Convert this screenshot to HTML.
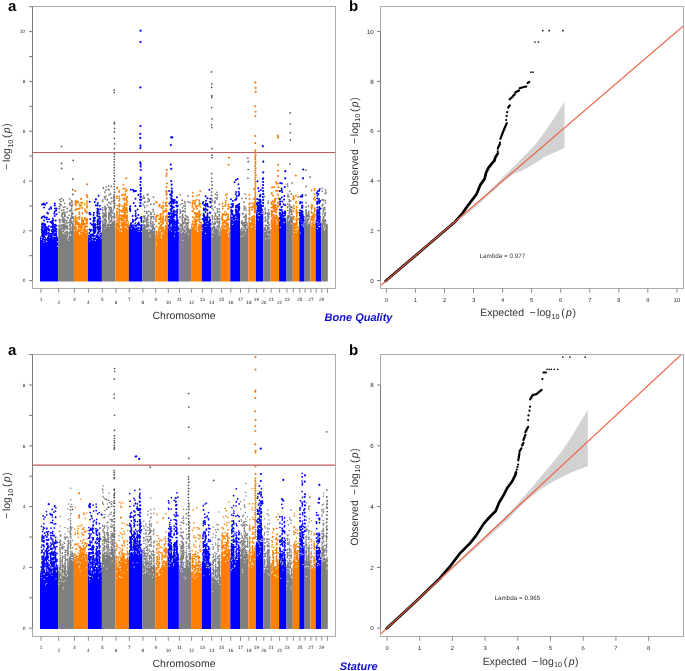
<!DOCTYPE html><html><head><meta charset="utf-8"><style>html,body{margin:0;padding:0;background:#fff;}body{width:685px;height:671px;overflow:hidden}svg{display:block;will-change:transform}</style></head><body>
<svg width="685" height="671" viewBox="0 0 685 671" font-family='"Liberation Sans", sans-serif' text-rendering="geometricPrecision">
<rect width="685" height="671" fill="#fff"/>
<defs>
<clipPath id="cm1"><rect x="33" y="7.5" width="302" height="280.3"/></clipPath>
<clipPath id="cm2"><rect x="33" y="355.3" width="302" height="280.4"/></clipPath>
<clipPath id="cq1"><rect x="381" y="7.5" width="302" height="280.3"/></clipPath>
<clipPath id="cq2"><rect x="381" y="355.3" width="302" height="280.4"/></clipPath>
</defs>
<g clip-path="url(#cm1)">
<path d="M40.0,281.4L40.0,236.7L40.5,236.5L41.0,236.0L41.5,237.2L42.0,237.6L42.5,236.6L43.0,237.4L43.5,237.5L44.0,236.1L44.5,235.2L45.1,236.4L45.6,236.8L46.1,238.0L46.6,238.0L47.1,236.9L47.6,237.0L48.1,235.4L48.6,235.9L49.1,236.9L49.6,236.8L50.1,236.9L50.6,237.7L51.1,237.5L51.6,237.0L52.1,238.8L52.6,235.0L53.1,233.1L53.7,234.4L54.2,231.7L54.7,233.1L55.2,232.4L55.7,235.4L56.2,235.5L56.7,235.2L57.2,238.1L57.7,236.1L58.2,238.3L58.2,281.4Z" fill="#0000ff"/>
<path d="M44.5,238.5h0M52.7,238.8h0M54.4,233.9h0M55.5,236.2h0M54.3,235.7h0M43.7,240.3h0M41.2,237.1h0M57.4,241.9h0M43.1,237.5h0M49.8,237.4h0M46.1,238.1h0M52.7,233.4h0M57.6,246.5h0M54.1,236.5h0M46.8,241.6h0M53.6,236.6h0M41.6,239.2h0M46.1,241.0h0M44.0,242.2h0M52.5,237.6h0M41.9,237.8h0" stroke="#fff" stroke-width="1.1" stroke-linecap="round" fill="none"/>
<path d="M42.3,228.8h0M52.8,226.6h0M45.2,230.4h0M55.1,208.5h0M49.3,230.4h0M53.0,222.9h0M54.8,205.5h0M49.0,219.2h0M41.7,218.0h0M55.3,226.2h0M43.9,225.4h0M53.4,220.5h0M52.8,225.0h0M52.9,232.8h0M42.0,204.6h0M56.2,210.5h0M48.9,233.1h0M48.8,235.0h0M41.7,229.5h0M45.1,228.5h0M43.5,237.0h0M47.3,212.7h0M53.1,224.3h0M49.0,236.4h0M42.3,234.4h0M52.0,230.0h0M51.0,226.9h0M43.5,230.9h0M42.3,216.9h0M42.0,232.6h0M50.8,235.9h0M42.5,227.5h0M43.8,203.6h0M46.7,229.0h0M53.1,231.4h0M45.1,229.4h0M53.4,224.8h0M51.4,234.9h0M41.9,224.6h0M43.6,233.7h0M48.8,232.9h0M52.8,220.5h0M56.1,233.8h0M54.8,203.5h0M51.9,231.3h0M53.0,228.8h0M45.1,204.7h0M45.3,224.5h0M49.3,209.3h0M46.7,219.2h0M51.6,233.8h0M44.1,207.4h0M45.4,226.4h0M53.9,226.9h0M56.3,234.9h0M56.3,229.0h0M52.4,226.6h0M52.7,218.6h0M43.4,230.8h0M43.6,231.0h0M43.8,223.4h0M52.0,222.1h0M42.5,232.4h0M45.2,234.5h0M50.8,237.0h0M56.4,214.3h0M51.7,221.4h0M54.7,211.4h0M55.1,233.7h0M41.9,230.9h0M56.5,229.6h0M56.5,208.6h0M55.3,234.9h0M43.7,236.6h0M42.0,236.0h0M46.5,233.5h0M41.9,226.8h0M52.9,231.9h0M42.0,228.9h0M46.6,234.4h0M43.5,204.2h0M54.0,229.9h0M54.3,231.3h0M51.8,236.5h0M55.2,226.7h0M43.6,235.3h0M51.0,235.8h0M46.6,231.7h0M49.1,229.2h0M55.0,228.4h0M45.0,217.5h0M56.3,231.7h0M48.8,230.4h0M46.4,232.3h0M42.5,228.3h0M55.2,224.8h0M47.6,221.7h0M44.0,231.2h0M54.7,216.1h0M51.9,236.9h0M43.5,227.6h0M50.6,234.0h0M48.5,235.9h0M55.7,220.6h0M51.9,231.1h0M51.0,235.2h0M46.7,202.9h0M54.3,213.5h0M45.0,232.8h0M44.0,220.4h0M44.0,216.2h0M41.9,231.0h0M42.2,224.7h0M53.1,227.2h0M53.1,232.6h0M47.0,233.5h0M48.0,213.6h0M46.6,232.0h0M51.2,208.6h0M42.7,233.8h0M42.4,236.3h0M51.2,234.5h0M52.0,238.5h0M52.0,223.2h0M46.8,227.3h0M50.8,207.2h0M43.6,231.9h0M41.9,224.4h0M49.4,230.0h0M42.2,236.1h0M48.1,228.5h0M55.1,230.7h0M54.9,227.7h0M46.6,229.9h0M56.3,225.8h0M48.8,226.3h0M55.0,230.2h0M44.0,230.1h0M53.0,222.9h0M46.9,217.5h0M52.2,233.8h0M50.5,222.0h0M54.9,235.2h0M44.8,234.7h0M42.2,223.6h0" stroke="#0000ff" stroke-width="2.00" stroke-linecap="round" fill="none"/>
<path d="M58.2,281.4L58.2,229.7L58.7,227.8L59.2,228.6L59.7,228.1L60.2,226.0L60.7,227.7L61.2,227.2L61.7,227.1L62.3,230.3L62.8,227.6L63.3,229.5L63.8,228.7L64.3,229.1L64.8,230.3L65.3,230.7L65.8,229.1L66.3,231.3L66.8,230.8L67.3,234.0L67.8,233.4L68.3,234.9L68.8,233.0L69.3,230.4L69.8,232.0L70.4,229.7L70.9,228.4L71.4,227.2L71.9,224.6L72.4,222.7L72.9,219.9L73.4,217.7L73.9,218.2L73.9,281.4Z" fill="#7f7f7f"/>
<path d="M73.0,219.0h0M68.3,236.3h0M64.4,230.9h0M65.2,231.1h0M68.1,237.6h0M73.2,219.3h0M63.7,233.6h0M66.1,234.0h0M69.9,234.2h0M62.6,232.5h0M70.6,235.4h0M71.4,229.8h0M68.4,235.0h0M64.1,232.7h0M62.3,230.5h0M67.4,238.7h0M73.3,222.5h0M65.3,230.8h0M68.7,240.2h0" stroke="#fff" stroke-width="1.1" stroke-linecap="round" fill="none"/>
<path d="M67.3,208.5h0M63.3,199.9h0M72.4,217.2h0M65.6,226.9h0M72.5,214.2h0M71.8,206.8h0M69.3,215.3h0M72.1,212.7h0M64.8,220.3h0M59.4,219.4h0M64.6,225.3h0M62.9,217.5h0M71.9,222.5h0M62.1,220.5h0M70.2,228.5h0M60.1,222.5h0M71.5,223.1h0M64.9,214.7h0M59.7,199.7h0M59.8,206.3h0M67.1,217.3h0M67.4,231.9h0M70.1,205.0h0M69.9,224.8h0M59.6,225.7h0M71.8,210.1h0M69.9,220.5h0M67.2,223.4h0M64.9,212.4h0M68.1,218.0h0M62.7,220.5h0M67.6,228.2h0M70.9,220.5h0M63.4,219.5h0M72.0,202.8h0M59.0,208.9h0M71.5,222.0h0M69.6,211.0h0M69.4,222.6h0M73.1,218.1h0M71.5,200.6h0M63.6,228.6h0M72.6,204.8h0M62.2,225.0h0M69.7,229.2h0M63.1,227.3h0M59.6,220.6h0M64.6,222.1h0M71.3,217.5h0M62.9,221.8h0M71.7,206.2h0M64.9,229.1h0M71.1,223.5h0M63.0,213.8h0M64.6,216.0h0M59.5,221.1h0M67.2,229.0h0M63.7,226.1h0M64.1,227.1h0M64.7,219.1h0M70.2,222.3h0M63.2,212.8h0M69.8,203.6h0M62.1,213.3h0M66.9,226.3h0M61.5,225.1h0M63.0,226.6h0M72.0,201.5h0M71.7,205.5h0M69.9,202.9h0M63.3,228.5h0M64.4,221.7h0M65.0,226.5h0M71.2,223.4h0M65.0,224.0h0M69.8,226.0h0M63.3,222.2h0M59.7,208.3h0M66.6,222.2h0M61.7,215.3h0M69.9,225.5h0M64.7,203.3h0M63.7,210.0h0M59.2,225.6h0M69.9,228.9h0M63.3,200.5h0M62.1,220.1h0M67.1,212.1h0M67.1,231.6h0M63.0,218.4h0M71.6,218.6h0M67.7,233.1h0M62.1,214.5h0M69.5,203.6h0M65.0,227.9h0M71.6,208.8h0M62.8,220.7h0M62.0,226.2h0M70.5,219.0h0M67.3,225.6h0M67.1,233.0h0M59.6,226.2h0M63.3,207.3h0M59.9,226.9h0M71.6,215.8h0M70.4,210.5h0M71.9,212.1h0M66.7,220.3h0M64.7,216.6h0M69.7,229.4h0M60.1,219.9h0M64.9,213.0h0M71.6,213.8h0M66.4,227.4h0M59.8,226.7h0M65.0,206.9h0M67.7,227.7h0M61.7,210.4h0M60.0,225.3h0M65.3,215.9h0M59.7,203.7h0M59.4,212.1h0M59.5,206.4h0M68.2,233.1h0M67.2,232.4h0M69.6,198.9h0M63.2,224.5h0M70.2,225.0h0M69.6,225.1h0M63.2,212.5h0M58.9,226.3h0M70.0,226.4h0M62.1,216.6h0M64.9,226.8h0M72.9,216.8h0M72.8,213.3h0M62.0,216.1h0M68.9,222.6h0M65.4,225.8h0M62.7,227.1h0M64.9,225.1h0" stroke="#7f7f7f" stroke-width="1.80" stroke-linecap="round" fill="none"/>
<path d="M61.5,146.5h0M61.5,163.4h0M61.6,168.4h0M61.3,198.5h0M61.0,201.5h0M61.0,204.9h0M73.2,160.4h0M72.9,178.9h0M72.8,189.6h0M72.9,194.4h0" stroke="#505050" stroke-width="1.70" stroke-linecap="round" fill="none"/>
<path d="M73.9,281.4L73.9,228.4L74.4,226.1L74.9,225.1L75.4,227.8L75.9,227.5L76.4,227.4L76.9,226.3L77.4,227.2L77.9,224.4L78.4,224.3L78.9,227.4L79.4,230.0L79.9,230.6L80.4,229.0L80.9,228.3L81.4,226.7L81.9,229.1L82.4,229.7L82.9,228.2L83.4,228.4L83.9,228.6L84.4,227.8L84.9,228.5L85.4,228.4L85.9,229.4L86.4,231.0L86.9,229.9L87.4,229.2L87.9,228.1L87.9,281.4Z" fill="#ff8000"/>
<path d="M76.2,227.5h0M79.2,233.3h0M77.3,228.1h0M79.5,232.4h0M77.2,226.4h0M81.9,231.1h0M78.2,228.5h0M76.3,230.5h0M80.9,228.6h0M80.9,229.7h0M74.5,230.4h0M77.1,226.6h0M83.3,231.0h0M79.5,234.0h0M85.8,232.5h0M81.2,233.9h0M77.9,229.1h0" stroke="#fff" stroke-width="1.1" stroke-linecap="round" fill="none"/>
<path d="M83.5,224.7h0M77.4,222.5h0M87.0,211.8h0M75.2,221.6h0M84.2,224.2h0M80.7,228.2h0M75.6,225.1h0M75.3,218.1h0M76.9,223.6h0M87.1,220.3h0M85.9,230.1h0M75.6,209.4h0M85.0,227.3h0M87.2,226.4h0M76.1,205.5h0M82.1,223.6h0M81.6,223.2h0M84.8,204.3h0M75.5,218.3h0M75.2,217.8h0M82.3,213.3h0M80.0,229.9h0M85.2,210.7h0M77.2,201.7h0M81.5,225.7h0M75.1,221.7h0M79.5,216.8h0M78.4,202.5h0M74.9,219.2h0M79.2,225.7h0M84.8,218.1h0M83.6,220.4h0M86.9,226.2h0M87.0,218.7h0M76.8,202.2h0M75.3,222.6h0M79.3,226.4h0M75.7,200.8h0M82.0,220.9h0M86.7,220.7h0M85.0,209.5h0M76.8,222.3h0M79.4,226.8h0M79.4,204.8h0M81.6,224.6h0M86.0,211.7h0M82.0,218.0h0M82.2,220.1h0M80.2,206.7h0M86.4,195.3h0M85.0,226.7h0M77.2,224.0h0M77.4,217.7h0M77.1,209.0h0M82.3,208.0h0M79.7,225.0h0M86.7,223.1h0M83.9,223.3h0M86.8,223.7h0M77.0,220.4h0M74.8,227.6h0M82.4,202.6h0M75.9,227.1h0M81.9,217.8h0M82.0,221.5h0M84.6,226.9h0M87.0,201.2h0M79.5,227.5h0M87.0,206.8h0M79.4,219.0h0M85.0,226.1h0M79.4,214.2h0M75.3,210.1h0M75.7,220.8h0M75.4,224.4h0M86.9,202.9h0M87.0,205.1h0M84.9,217.6h0M78.1,202.0h0M79.4,212.2h0M85.1,219.4h0M79.7,224.1h0M78.6,222.6h0M83.3,223.8h0M83.1,221.2h0M85.3,227.2h0M86.9,222.3h0M87.2,195.5h0M79.5,224.5h0M78.2,208.7h0M82.2,219.3h0M80.9,225.9h0M82.1,224.5h0M82.0,227.3h0M75.4,202.4h0M78.3,224.2h0M75.5,221.7h0M81.8,222.2h0M86.2,219.6h0M75.5,216.3h0M81.8,225.0h0M85.1,226.4h0M87.1,220.9h0M82.5,227.3h0M78.3,222.9h0M75.7,220.3h0M87.0,207.7h0M79.7,208.6h0M86.8,212.8h0M87.1,223.1h0M78.9,218.4h0M85.4,223.6h0" stroke="#ff8000" stroke-width="1.90" stroke-linecap="round" fill="none"/>
<path d="M75.3,191.0h0M75.6,203.9h0M87.1,184.2h0M87.4,197.3h0M81.1,198.9h0M81.2,202.7h0M81.4,205.3h0" stroke="#f07c10" stroke-width="2.10" stroke-linecap="round" fill="none"/>
<path d="M87.9,281.4L87.9,236.1L88.4,237.6L88.9,237.1L89.4,237.9L89.9,238.1L90.4,236.3L90.9,237.1L91.4,235.7L91.9,235.9L92.4,233.6L92.9,235.0L93.4,232.2L93.9,233.9L94.4,235.1L94.9,235.5L95.4,235.2L95.9,234.7L96.4,233.4L96.9,233.5L97.4,229.9L97.9,229.6L98.4,228.9L98.9,230.1L99.4,233.2L99.9,233.6L100.4,232.5L100.9,232.7L101.4,231.4L101.9,233.4L101.9,281.4Z" fill="#0000ff"/>
<path d="M101.2,237.9h0M94.6,237.2h0M95.3,240.4h0M96.6,238.5h0M92.2,236.9h0M99.1,233.9h0M89.8,241.0h0M98.1,231.6h0M100.7,234.5h0M97.3,230.7h0M95.2,236.9h0M92.6,239.9h0M99.8,235.9h0M88.5,236.4h0M98.3,234.9h0M96.8,233.9h0M93.2,237.2h0M101.0,231.6h0" stroke="#fff" stroke-width="1.1" stroke-linecap="round" fill="none"/>
<path d="M94.7,230.3h0M95.1,217.9h0M100.1,225.8h0M97.6,214.0h0M89.7,212.8h0M97.6,216.6h0M97.5,227.5h0M90.2,218.9h0M89.0,235.4h0M100.0,222.7h0M97.6,228.8h0M97.4,224.8h0M90.4,229.9h0M99.8,222.0h0M97.5,222.6h0M95.2,227.1h0M89.4,236.4h0M90.2,237.5h0M99.9,205.9h0M98.4,209.2h0M94.9,224.9h0M97.6,211.5h0M93.7,221.8h0M94.9,227.2h0M97.5,205.4h0M98.6,195.8h0M99.9,223.8h0M89.4,233.0h0M95.0,224.3h0M93.6,220.2h0M99.1,231.4h0M95.0,225.4h0M97.3,208.7h0M93.1,230.0h0M99.5,213.5h0M100.5,221.2h0M97.7,205.2h0M91.2,235.9h0M98.5,221.0h0M93.6,226.7h0M95.6,231.1h0M99.3,216.8h0M95.2,231.9h0M93.3,225.3h0M94.8,226.6h0M99.9,231.1h0M93.9,217.6h0M99.8,217.1h0M93.8,228.3h0M93.9,232.4h0M99.2,216.5h0M97.4,213.6h0M98.9,229.0h0M97.5,210.9h0M93.5,220.9h0M91.4,234.4h0M91.1,230.0h0M93.5,230.9h0M90.6,236.9h0M90.6,236.7h0M94.9,231.2h0M89.7,201.7h0M97.2,212.8h0M98.5,228.0h0M97.9,219.8h0M100.3,227.7h0M89.6,229.5h0M100.1,228.1h0M93.7,218.5h0M100.0,222.2h0M90.5,231.1h0M97.3,215.5h0M97.7,223.9h0M98.6,224.1h0M93.5,230.9h0M93.4,227.3h0M93.5,230.3h0M98.4,219.2h0M100.1,229.2h0M95.1,224.2h0M90.5,214.4h0M94.5,232.9h0M97.6,221.4h0M90.9,235.8h0M90.6,223.6h0M89.5,213.8h0M93.4,223.8h0M93.6,215.1h0M100.0,218.7h0M97.2,227.2h0M98.5,211.5h0M97.9,224.4h0M90.8,235.0h0M97.3,227.0h0M91.1,237.0h0M97.8,202.9h0M95.3,228.1h0M94.8,201.9h0M98.7,227.2h0M95.3,229.2h0M95.4,230.4h0M92.0,224.7h0M93.9,212.7h0M94.7,220.4h0M100.4,209.3h0M93.5,225.7h0M97.9,228.4h0M93.8,218.6h0M97.3,224.7h0M97.4,221.3h0M98.5,227.1h0M92.9,234.2h0" stroke="#0000ff" stroke-width="2.00" stroke-linecap="round" fill="none"/>
<path d="M95.9,199.4h0M95.9,205.3h0" stroke="#0000ff" stroke-width="2.20" stroke-linecap="round" fill="none"/>
<path d="M101.9,281.4L101.9,219.1L102.4,220.0L102.9,220.9L103.4,218.6L103.9,219.3L104.4,221.0L104.9,223.7L105.4,221.1L105.9,221.8L106.4,221.2L106.9,222.6L107.4,223.9L107.9,222.1L108.4,222.7L109.0,220.4L109.5,219.6L110.0,221.3L110.5,219.5L111.0,221.7L111.5,221.7L112.0,221.1L112.5,222.0L113.0,220.1L113.5,221.3L114.0,221.8L114.5,222.2L115.0,223.2L115.5,223.2L115.5,281.4Z" fill="#7f7f7f"/>
<path d="M111.3,222.6h0M105.0,228.3h0M106.6,226.5h0M103.1,223.1h0M110.5,223.4h0M108.2,223.3h0M109.2,226.6h0M106.1,223.5h0M110.8,223.1h0M110.6,223.4h0M104.5,221.4h0M103.2,221.1h0M107.8,223.5h0M112.5,220.3h0M106.8,224.2h0M109.6,222.8h0" stroke="#fff" stroke-width="1.1" stroke-linecap="round" fill="none"/>
<path d="M106.3,186.8h0M111.3,217.4h0M111.3,217.5h0M105.5,222.8h0M111.3,212.9h0M104.8,219.2h0M104.5,197.0h0M111.3,207.6h0M108.9,215.0h0M105.4,208.2h0M102.7,207.7h0M103.2,216.1h0M109.8,207.3h0M111.3,186.4h0M105.2,198.8h0M112.4,216.8h0M105.3,196.8h0M109.2,214.0h0M104.8,192.1h0M108.8,219.6h0M105.4,211.2h0M111.3,198.2h0M114.5,216.7h0M102.8,213.2h0M109.2,194.8h0M105.9,213.3h0M114.2,213.7h0M111.3,208.7h0M102.6,200.1h0M104.8,215.2h0M109.5,212.1h0M111.1,221.4h0M108.8,213.7h0M113.2,210.3h0M110.9,211.0h0M104.6,216.1h0M114.2,207.2h0M108.9,218.3h0M105.4,218.5h0M103.1,216.5h0M108.8,219.3h0M108.9,218.9h0M104.9,206.4h0M114.6,205.1h0M106.2,208.3h0M105.9,220.1h0M105.8,220.2h0M105.4,222.9h0M108.8,189.3h0M104.7,215.9h0M114.3,200.1h0M109.4,209.2h0M106.0,212.5h0M110.6,221.2h0M102.7,212.6h0M104.9,213.9h0M109.3,207.5h0M111.5,201.6h0M104.5,213.7h0M114.5,217.4h0M105.1,220.7h0M111.3,217.0h0M114.3,221.7h0M111.3,212.8h0M110.6,193.9h0M110.3,214.4h0M104.8,220.4h0M109.3,202.7h0M108.9,213.2h0M108.8,202.5h0M102.8,217.1h0M113.8,197.8h0M102.6,201.6h0M108.5,189.5h0M104.9,219.8h0M108.5,207.2h0M102.6,210.0h0M114.2,221.5h0M109.1,218.1h0M111.3,210.5h0M109.1,207.3h0M108.8,219.0h0M110.7,203.8h0M107.4,204.9h0M111.7,211.4h0M105.0,218.7h0M113.9,196.6h0M113.9,208.4h0M106.1,215.6h0M105.0,208.9h0M108.8,217.2h0M113.8,216.8h0M109.3,215.9h0M114.4,221.5h0M105.2,220.6h0M111.5,220.6h0M109.2,189.8h0M106.0,216.2h0M114.2,221.4h0M111.1,215.2h0M105.9,189.9h0M105.2,207.4h0M105.9,209.6h0M111.1,216.1h0M105.0,209.5h0M103.2,215.7h0M106.2,220.6h0M112.6,212.9h0M105.3,223.7h0M111.9,219.3h0M102.9,210.1h0M106.0,196.4h0M109.0,215.4h0M103.2,215.1h0M114.4,218.4h0M114.6,221.5h0M108.7,185.9h0M109.0,216.6h0M114.2,218.0h0M114.2,215.2h0M114.0,203.3h0M108.9,216.5h0M111.5,219.0h0M106.0,214.5h0M106.4,221.1h0M105.2,220.9h0M108.8,212.6h0M114.3,216.9h0M113.5,201.4h0M102.9,216.9h0M114.1,221.4h0M106.0,217.1h0M114.1,222.2h0M110.5,210.5h0M103.1,217.8h0" stroke="#7f7f7f" stroke-width="1.80" stroke-linecap="round" fill="none"/>
<path d="M103.2,187.8h0M107.4,199.7h0M114.2,90.2h0M114.1,92.6h0M114.5,122.4h0M114.4,124.0h0M114.6,128.3h0M114.4,131.9h0M114.3,138.3h0M114.6,143.8h0M114.4,148.6h0M114.5,205.9h0M114.5,203.2h0M114.3,200.4h0M114.1,197.7h0M114.2,194.9h0M114.5,192.2h0M114.3,189.5h0M114.2,186.7h0M114.1,184.0h0M114.5,181.2h0M114.0,178.5h0M114.5,175.8h0M114.1,173.0h0M114.1,170.3h0M114.2,167.6h0M114.3,164.8h0M114.3,162.1h0M114.4,159.3h0M114.3,156.6h0M114.4,153.9h0" stroke="#505050" stroke-width="1.70" stroke-linecap="round" fill="none"/>
<path d="M115.5,281.4L115.5,223.9L116.0,221.6L116.5,221.5L117.0,222.4L117.5,222.8L118.0,220.9L118.5,221.9L118.9,223.1L119.4,222.9L119.9,225.6L120.4,225.1L120.9,224.6L121.4,224.7L121.9,225.4L122.4,221.7L122.9,220.5L123.4,219.9L123.9,219.3L124.4,222.0L124.9,222.5L125.4,222.9L125.8,223.1L126.3,222.0L126.8,222.4L127.3,220.4L127.8,221.3L128.3,221.5L128.8,220.5L128.8,281.4Z" fill="#ff8000"/>
<path d="M121.3,227.3h0M119.9,230.9h0M127.4,228.6h0M127.6,222.8h0M121.5,231.4h0M118.1,228.4h0M126.0,223.2h0M116.0,226.3h0M118.4,221.6h0M120.7,226.8h0M125.2,226.7h0M125.9,226.9h0M120.9,226.0h0M120.7,227.6h0M121.9,228.1h0M127.3,222.7h0M122.9,221.1h0" stroke="#fff" stroke-width="1.1" stroke-linecap="round" fill="none"/>
<path d="M127.0,217.0h0M117.0,212.2h0M124.0,207.4h0M127.0,219.7h0M124.9,205.3h0M121.8,195.3h0M125.2,213.0h0M127.1,202.1h0M122.0,224.2h0M122.8,194.7h0M124.3,207.6h0M126.8,189.9h0M125.1,193.7h0M119.2,190.9h0M123.2,208.2h0M125.8,191.0h0M121.6,215.5h0M117.1,214.3h0M120.7,210.6h0M126.4,190.8h0M123.9,216.2h0M119.1,221.8h0M119.6,198.8h0M125.3,222.4h0M119.8,220.0h0M121.7,224.5h0M127.0,212.3h0M125.4,213.4h0M123.2,188.8h0M126.7,219.2h0M124.7,203.5h0M119.2,196.5h0M116.8,211.6h0M121.6,223.5h0M125.3,220.9h0M119.2,215.4h0M125.3,216.9h0M127.0,196.8h0M125.1,222.5h0M125.3,215.2h0M117.0,220.5h0M119.5,203.9h0M124.7,218.0h0M125.2,207.6h0M120.5,218.4h0M121.8,218.6h0M125.2,222.0h0M126.8,198.0h0M126.8,208.0h0M116.8,198.2h0M123.8,209.3h0M124.0,215.1h0M119.4,222.5h0M126.8,209.8h0M119.3,206.7h0M119.7,222.6h0M126.7,205.0h0M121.6,219.5h0M126.8,216.4h0M117.4,208.6h0M126.2,199.6h0M120.2,215.3h0M123.1,198.4h0M119.6,205.1h0M127.0,218.0h0M126.6,203.1h0M124.1,217.0h0M125.5,208.6h0M119.1,192.1h0M121.2,218.1h0M123.6,217.0h0M123.8,206.6h0M124.8,215.8h0M126.7,204.6h0M123.5,184.6h0M125.0,211.2h0M119.4,218.2h0M123.7,215.1h0M124.8,222.7h0M122.8,219.9h0M126.7,218.2h0M124.7,198.4h0M121.6,222.7h0M127.1,218.5h0M122.3,212.1h0M127.0,217.2h0M124.3,200.0h0M119.4,212.0h0M127.1,216.3h0M125.1,195.2h0M126.9,200.4h0M125.1,188.5h0M126.8,219.2h0M121.7,205.7h0M119.2,220.2h0M119.3,216.4h0M124.6,207.8h0M117.0,212.7h0M127.1,220.9h0M125.1,220.8h0M117.8,218.3h0M117.4,218.7h0M117.4,218.0h0M122.0,216.5h0M124.1,212.9h0M116.9,196.2h0M127.1,215.1h0M123.6,206.6h0M117.1,188.4h0M119.1,200.8h0M121.9,224.5h0M119.4,210.8h0M121.8,220.6h0M123.9,210.4h0M123.2,209.6h0M119.1,220.0h0M119.2,214.3h0M119.1,209.4h0M127.0,211.0h0M117.0,208.9h0M126.9,216.3h0M121.4,215.9h0M117.6,205.5h0M126.9,219.8h0M123.7,218.8h0M124.3,203.8h0M125.6,210.0h0M116.8,216.3h0M117.2,187.1h0M122.3,215.7h0M116.7,214.9h0M122.3,210.8h0M117.3,220.6h0" stroke="#ff8000" stroke-width="1.90" stroke-linecap="round" fill="none"/>
<path d="M126.2,178.3h0" stroke="#f07c10" stroke-width="2.10" stroke-linecap="round" fill="none"/>
<path d="M128.8,281.4L128.8,226.4L129.3,225.3L129.8,224.4L130.3,222.6L130.8,223.1L131.3,222.0L131.8,222.3L132.3,220.3L132.8,221.8L133.3,222.5L133.8,225.8L134.3,225.1L134.8,222.7L135.3,221.5L135.9,223.5L136.4,225.8L136.9,225.4L137.4,225.4L137.9,227.4L138.4,225.0L138.9,225.6L139.4,227.5L139.9,227.6L140.4,227.5L140.9,226.2L141.4,226.3L141.9,224.1L142.4,226.3L142.4,281.4Z" fill="#0000ff"/>
<path d="M135.4,224.4h0M138.3,225.1h0M131.3,228.3h0M132.9,223.4h0M139.0,231.2h0M130.0,226.0h0M132.2,224.2h0M134.2,226.5h0M139.1,229.6h0M137.3,226.2h0M133.2,223.8h0M136.9,227.2h0M139.1,228.9h0M132.3,223.5h0M135.3,227.6h0M138.7,226.4h0M141.4,231.2h0" stroke="#fff" stroke-width="1.1" stroke-linecap="round" fill="none"/>
<path d="M134.6,190.9h0M137.9,223.9h0M141.7,225.1h0M140.1,199.4h0M135.5,198.7h0M135.4,205.9h0M135.7,213.2h0M141.4,220.3h0M136.0,218.9h0M140.8,225.7h0M141.1,188.7h0M135.5,210.9h0M138.8,225.0h0M138.7,222.4h0M138.4,195.0h0M140.3,218.1h0M135.2,220.3h0M129.8,209.3h0M130.8,189.7h0M135.7,219.3h0M133.8,191.5h0M141.3,219.7h0M133.1,221.2h0M140.6,196.6h0M136.3,225.3h0M133.0,189.8h0M132.8,219.8h0M138.4,215.1h0M141.4,216.9h0M139.9,206.1h0M141.3,199.8h0M138.0,223.9h0M137.4,218.0h0M130.2,209.4h0M133.7,203.1h0M135.8,216.2h0M139.4,224.3h0M135.9,190.9h0M135.5,215.6h0M141.4,221.7h0M130.2,206.2h0M141.4,217.9h0M137.6,209.6h0M130.0,208.3h0M130.3,211.1h0M141.2,217.0h0M132.6,215.9h0" stroke="#0000ff" stroke-width="2.00" stroke-linecap="round" fill="none"/>
<path d="M140.6,30.7h0M140.5,42.1h0M140.4,87.4h0M140.5,126.0h0M140.3,133.8h0M140.3,137.9h0M140.5,145.7h0M140.4,148.1h0M140.2,162.4h0M140.7,164.0h0M140.7,166.4h0M140.7,170.0h0M140.7,177.6h0M140.6,205.9h0M140.5,202.9h0M140.5,199.9h0M140.7,196.9h0M140.6,193.9h0M140.7,191.0h0M140.8,188.0h0M140.3,185.0h0M140.7,182.0h0M140.5,179.0h0" stroke="#0000ff" stroke-width="2.20" stroke-linecap="round" fill="none"/>
<path d="M142.4,281.4L142.4,226.4L142.9,225.7L143.4,227.4L143.9,226.2L144.4,225.4L144.9,224.1L145.4,225.1L145.8,228.1L146.3,226.0L146.8,228.3L147.3,228.4L147.8,224.9L148.3,225.1L148.8,227.9L149.3,228.7L149.8,227.8L150.3,228.0L150.8,227.5L151.3,226.5L151.8,226.2L152.2,223.8L152.7,222.6L153.2,222.5L153.7,225.7L154.2,227.2L154.7,227.8L155.2,226.3L155.2,281.4Z" fill="#7f7f7f"/>
<path d="M143.1,227.0h0M153.5,230.5h0M148.9,228.3h0M151.4,227.6h0M148.6,231.1h0M151.4,229.2h0M151.1,228.8h0M150.1,235.5h0M148.6,228.7h0M146.5,228.4h0M149.9,237.3h0M150.1,229.0h0M147.1,228.5h0M149.3,231.3h0M150.1,228.0h0M146.8,229.2h0" stroke="#fff" stroke-width="1.1" stroke-linecap="round" fill="none"/>
<path d="M144.4,206.1h0M144.6,211.4h0M146.3,225.8h0M144.5,221.5h0M153.1,209.4h0M145.0,216.1h0M146.7,224.9h0M143.1,204.3h0M148.8,211.4h0M153.9,219.0h0M144.8,217.2h0M148.3,215.8h0M147.8,219.4h0M144.4,198.0h0M148.3,198.7h0M146.9,211.6h0M143.9,227.4h0M150.9,226.1h0M143.4,220.9h0M153.2,216.8h0M144.3,218.8h0M143.3,221.4h0M146.8,221.7h0M150.7,220.5h0M147.0,219.3h0M143.1,198.0h0M148.5,222.7h0M146.2,227.1h0M147.1,194.6h0M147.3,226.2h0M150.7,216.9h0M154.5,214.1h0M143.1,222.6h0M150.9,212.6h0M147.0,226.2h0M154.0,204.0h0M144.3,224.8h0M151.7,216.9h0M152.9,222.0h0M151.1,226.4h0M148.6,215.5h0M144.8,207.6h0M151.1,226.2h0M150.9,213.3h0M144.7,211.4h0M151.0,223.9h0M146.7,222.9h0M151.2,218.5h0M144.9,218.9h0M150.6,222.2h0M146.8,213.2h0M143.4,216.5h0M148.3,215.5h0M147.2,217.9h0M151.1,214.5h0M150.9,204.2h0M144.9,202.0h0M147.5,201.6h0M149.2,199.9h0M147.4,217.4h0M144.2,221.2h0M153.5,216.4h0M148.0,224.7h0M150.9,223.2h0M147.1,205.6h0M149.2,201.1h0M147.1,221.3h0M143.6,195.8h0M150.8,223.6h0M146.6,219.3h0M144.5,225.4h0M154.4,224.3h0M153.4,216.9h0M153.5,197.2h0M146.2,221.0h0M150.8,214.1h0M153.3,211.5h0M148.2,194.7h0M149.2,225.6h0M143.8,225.5h0M143.6,225.1h0M144.4,202.4h0M148.1,219.7h0" stroke="#7f7f7f" stroke-width="1.80" stroke-linecap="round" fill="none"/>
<path d="M155.2,281.4L155.2,235.1L155.7,235.2L156.2,235.4L156.7,236.9L157.2,237.0L157.7,237.2L158.2,236.1L158.7,235.8L159.2,236.1L159.7,234.1L160.2,232.5L160.7,232.6L161.2,234.2L161.8,233.4L162.3,232.0L162.8,233.1L163.3,229.7L163.8,227.2L164.3,229.5L164.8,226.9L165.3,224.0L165.8,224.0L166.3,221.9L166.8,218.8L167.3,214.6L167.8,214.8L167.8,281.4Z" fill="#ff8000"/>
<path d="M166.7,215.6h0M166.1,224.5h0M156.7,237.3h0M167.1,217.2h0M160.3,236.7h0M157.0,245.5h0M161.8,233.7h0M164.2,229.8h0M163.2,233.8h0M161.8,237.3h0M156.5,243.0h0M165.3,224.1h0M164.9,224.5h0M161.6,235.3h0M161.4,237.9h0" stroke="#fff" stroke-width="1.1" stroke-linecap="round" fill="none"/>
<path d="M166.3,217.4h0M160.7,214.5h0M159.8,204.7h0M162.4,229.3h0M160.3,227.4h0M158.9,234.4h0M166.8,194.0h0M156.3,235.0h0M159.2,223.3h0M162.9,221.9h0M156.3,226.4h0M162.9,221.0h0M159.5,206.2h0M158.9,232.3h0M158.8,232.6h0M166.0,209.0h0M166.2,191.4h0M162.9,228.0h0M159.2,234.2h0M161.4,207.5h0M160.5,226.1h0M166.2,216.0h0M162.9,223.8h0M162.8,221.4h0M158.9,205.8h0M156.3,216.3h0M166.6,210.8h0M160.2,219.8h0M163.1,211.2h0M165.9,205.4h0M157.8,215.8h0M162.4,230.9h0M160.5,215.7h0M161.6,224.1h0M156.0,201.6h0M160.3,214.8h0M156.5,232.9h0M159.2,233.7h0M161.7,229.1h0M160.5,228.5h0M159.0,227.6h0M161.6,231.4h0M165.7,216.9h0M163.2,212.4h0M166.1,205.7h0M166.8,205.6h0M158.7,223.7h0M160.5,213.9h0M159.3,235.0h0M165.0,211.0h0M156.8,202.5h0M159.2,233.5h0M162.6,205.8h0M160.6,221.9h0M162.9,208.3h0M166.3,212.1h0M156.3,231.7h0M161.6,228.3h0M161.0,231.9h0M157.9,236.1h0M165.2,220.9h0M165.6,219.2h0M157.0,215.3h0M158.8,229.7h0M160.2,227.3h0M163.0,223.2h0M157.2,236.5h0M160.7,217.6h0M160.5,216.4h0M161.1,228.7h0M161.2,230.9h0M163.0,216.2h0M156.4,231.7h0M156.3,235.2h0M158.8,231.3h0M162.6,213.9h0M159.0,218.7h0M166.4,192.6h0M158.9,229.8h0M156.1,221.3h0M156.8,233.7h0M158.8,235.4h0M160.5,225.4h0M163.1,227.3h0M163.1,219.8h0M160.7,227.9h0M163.3,202.6h0M155.9,217.8h0M156.7,232.6h0M156.0,219.4h0M158.9,231.4h0M165.7,203.4h0M165.9,216.1h0M161.4,218.6h0M161.1,225.7h0M163.4,206.5h0M163.0,217.7h0M160.8,219.6h0M161.6,221.9h0M163.9,211.8h0" stroke="#ff8000" stroke-width="1.90" stroke-linecap="round" fill="none"/>
<path d="M166.7,170.0h0M166.8,173.6h0M166.4,176.0h0M166.5,205.9h0M166.4,202.2h0M166.7,198.4h0M166.4,194.7h0M166.5,191.0h0M166.5,187.2h0M167.0,183.5h0" stroke="#f07c10" stroke-width="2.10" stroke-linecap="round" fill="none"/>
<path d="M167.8,281.4L167.8,226.9L168.3,225.8L168.8,225.3L169.3,227.5L169.8,227.7L170.3,226.4L170.8,225.7L171.3,226.5L171.8,225.1L172.3,225.2L172.8,226.3L173.4,228.4L173.9,226.6L174.4,225.8L174.9,228.1L175.4,228.5L175.9,228.4L176.4,229.3L176.9,228.5L177.4,229.6L177.9,228.1L178.4,227.1L178.9,225.4L178.9,281.4Z" fill="#0000ff"/>
<path d="M168.5,227.7h0M178.3,231.4h0M173.4,228.7h0M172.1,225.9h0M170.9,228.0h0M177.2,230.0h0M174.7,228.6h0M169.8,229.8h0M176.4,229.5h0M174.6,236.0h0M174.1,227.2h0M171.4,231.0h0M175.1,232.0h0M175.0,231.8h0" stroke="#fff" stroke-width="1.1" stroke-linecap="round" fill="none"/>
<path d="M177.0,223.3h0M172.1,191.9h0M176.8,201.7h0M169.1,191.1h0M174.4,224.1h0M174.0,225.1h0M177.0,223.6h0M172.4,213.7h0M174.1,216.7h0M173.6,210.9h0M172.4,224.6h0M171.9,199.1h0M169.3,221.3h0M168.8,225.4h0M172.3,216.9h0M174.9,202.5h0M176.9,229.3h0M176.8,227.7h0M174.9,227.8h0M169.3,219.9h0M177.0,218.0h0M172.5,218.9h0M174.7,224.3h0M176.9,215.2h0M173.7,223.1h0M171.2,222.7h0M172.5,217.3h0M176.8,206.6h0M177.2,226.1h0M173.5,217.1h0M175.5,224.2h0M176.4,220.4h0M173.6,214.4h0M174.7,221.6h0M177.2,226.7h0M174.7,199.9h0M176.5,228.3h0M172.7,213.5h0M177.0,221.6h0M176.3,205.6h0M169.0,216.7h0M173.5,200.1h0M176.7,227.8h0M176.9,220.3h0M173.8,221.2h0M177.0,203.0h0M177.0,229.1h0M172.1,208.6h0M174.7,211.3h0M175.3,224.2h0M176.9,197.3h0M170.4,220.9h0M172.4,219.7h0M168.9,213.0h0M176.8,217.0h0M172.2,220.1h0M169.1,221.3h0M168.6,217.0h0M176.6,214.9h0M174.0,220.1h0M169.2,214.2h0M173.6,222.8h0M177.0,213.1h0M172.4,224.2h0M174.3,221.8h0M172.4,219.1h0M173.5,211.5h0M173.1,224.4h0M175.0,222.4h0M172.8,221.8h0M172.2,216.3h0M173.8,221.4h0M169.1,219.7h0M177.0,211.5h0M173.4,219.4h0M169.7,224.1h0M173.7,222.4h0M169.3,203.4h0M173.1,213.3h0M173.4,203.4h0M174.8,227.6h0M173.4,202.1h0M174.6,200.7h0M174.0,222.0h0M171.9,217.8h0M177.0,221.1h0M169.7,227.4h0M172.1,206.7h0M172.2,222.1h0M174.8,223.9h0M176.7,222.7h0M172.3,199.4h0M174.7,226.7h0M177.8,220.2h0M173.2,226.2h0M173.9,207.3h0M169.5,222.0h0M176.7,225.1h0M173.4,228.2h0M172.2,222.9h0M174.7,215.3h0M174.9,212.0h0M175.0,214.2h0M176.7,228.2h0M172.4,223.3h0M173.4,222.9h0M170.0,216.4h0M173.3,216.7h0M176.7,220.2h0M169.6,222.7h0M173.8,210.5h0M173.7,220.3h0M177.2,209.7h0M173.5,215.0h0M168.5,213.7h0M172.4,207.4h0M175.6,224.7h0M170.6,218.6h0M176.9,229.5h0M172.2,216.2h0M172.7,201.4h0M176.9,228.1h0M173.5,222.0h0M176.2,227.1h0M169.9,225.1h0M172.3,224.0h0M177.6,223.6h0M173.2,207.3h0M177.2,227.0h0M178.0,222.8h0M172.4,221.3h0M172.7,218.7h0M177.8,205.8h0" stroke="#0000ff" stroke-width="2.00" stroke-linecap="round" fill="none"/>
<path d="M171.2,137.4h0M170.9,145.0h0M170.8,164.5h0M171.2,168.8h0M172.2,137.4h0M171.5,220.8h0M171.4,218.4h0M171.6,215.9h0M171.8,213.4h0M171.3,210.9h0M171.7,208.4h0M171.7,205.9h0M171.6,203.4h0M171.7,200.9h0M171.5,198.4h0M171.7,195.9h0M171.6,193.4h0M171.7,191.0h0M171.8,188.5h0M171.2,181.0h0M171.6,184.7h0M170.9,220.8h0M170.5,217.1h0M170.3,213.4h0M170.5,209.6h0M170.7,205.9h0M170.5,202.2h0M170.8,198.4h0M170.3,194.7h0" stroke="#0000ff" stroke-width="2.20" stroke-linecap="round" fill="none"/>
<path d="M178.9,281.4L178.9,229.8L179.4,227.1L179.9,227.7L180.4,227.2L180.9,228.1L181.4,227.5L181.9,228.2L182.5,231.3L183.0,230.3L183.5,227.1L184.0,226.8L184.5,228.6L185.0,231.1L185.5,228.7L186.0,229.2L186.5,227.0L187.0,225.9L187.5,227.4L188.1,227.9L188.6,226.5L189.1,228.7L189.6,229.5L190.1,229.3L190.6,228.9L191.1,228.9L191.1,281.4Z" fill="#7f7f7f"/>
<path d="M187.1,227.0h0M182.8,231.5h0M185.8,229.9h0M181.0,229.7h0M183.7,228.4h0M182.2,230.1h0M185.1,232.4h0M181.5,232.4h0M181.6,228.1h0M186.0,231.4h0M180.0,227.1h0M179.5,230.8h0M188.7,234.1h0M182.7,240.3h0" stroke="#fff" stroke-width="1.1" stroke-linecap="round" fill="none"/>
<path d="M182.5,221.0h0M185.1,227.1h0M185.1,218.9h0M186.7,219.3h0M181.7,225.0h0M185.4,215.3h0M188.7,222.3h0M182.5,228.4h0M186.3,225.0h0M183.1,217.0h0M186.3,224.1h0M188.0,195.9h0M185.1,211.4h0M186.4,223.2h0M183.5,211.0h0M182.1,219.9h0M182.3,216.0h0M184.9,211.8h0M185.3,227.7h0M184.1,222.7h0M187.8,217.2h0M182.4,219.0h0M185.2,219.1h0M182.7,228.3h0M182.5,227.7h0M187.6,227.8h0M182.5,225.4h0M188.0,222.4h0M186.8,225.3h0M182.6,221.9h0M184.9,220.8h0M180.7,212.7h0M179.7,217.8h0M180.1,225.6h0M180.7,212.3h0M182.1,227.4h0M180.1,213.2h0M182.5,217.2h0M180.1,223.8h0M182.4,207.8h0M182.1,227.0h0M182.6,211.0h0M186.3,224.2h0M184.8,201.6h0M182.6,217.8h0M183.7,206.1h0M180.2,216.8h0M187.7,226.1h0M185.3,220.0h0M182.6,223.7h0M182.6,217.4h0M184.9,218.1h0M180.2,194.9h0M183.6,223.4h0M182.2,200.2h0M187.5,227.8h0M188.1,202.0h0M190.1,202.6h0M182.8,214.4h0M188.0,223.8h0M185.1,218.7h0M180.0,209.8h0M182.5,220.5h0M188.4,228.6h0M185.1,203.5h0M180.5,204.6h0M188.4,219.9h0M185.5,222.9h0M180.1,226.2h0M184.8,220.1h0M185.2,208.7h0M188.1,217.6h0M186.6,216.4h0M182.3,203.6h0M185.0,230.8h0M184.7,226.4h0M182.5,229.5h0M185.1,206.0h0M180.5,211.6h0" stroke="#7f7f7f" stroke-width="1.80" stroke-linecap="round" fill="none"/>
<path d="M191.1,281.4L191.1,224.0L191.6,223.8L192.1,224.2L192.6,224.9L193.1,224.3L193.6,225.8L194.2,226.1L194.7,225.1L195.2,226.1L195.7,224.2L196.2,224.9L196.7,227.1L197.2,227.0L197.7,228.2L198.2,226.0L198.7,224.3L199.3,221.9L199.8,221.5L200.3,222.6L200.8,223.9L201.3,222.0L201.8,226.9L201.8,281.4Z" fill="#ff8000"/>
<path d="M196.0,225.4h0M195.6,228.9h0M200.7,223.8h0M196.2,228.3h0M200.7,230.0h0M197.7,230.8h0M192.0,225.4h0M197.6,230.5h0M197.7,231.6h0M197.6,229.3h0M193.1,225.9h0M199.8,223.1h0M192.7,226.5h0" stroke="#fff" stroke-width="1.1" stroke-linecap="round" fill="none"/>
<path d="M194.6,218.0h0M192.5,207.5h0M196.5,224.0h0M199.4,219.7h0M195.1,201.0h0M196.7,220.8h0M196.9,195.6h0M199.9,219.2h0M199.8,215.7h0M192.8,196.3h0M198.5,215.3h0M200.3,207.1h0M192.7,221.5h0M199.4,202.1h0M195.5,206.6h0M196.5,221.0h0M196.6,199.8h0M194.9,204.6h0M194.5,224.9h0M199.1,213.8h0M192.3,211.3h0M199.4,216.7h0M200.3,214.6h0M200.0,204.1h0M195.0,213.0h0M192.7,192.6h0M196.8,217.6h0M196.7,212.9h0M193.0,211.4h0M195.3,222.9h0M193.0,224.7h0M199.5,213.7h0M196.4,215.9h0M196.1,222.0h0M199.5,216.8h0M196.2,206.9h0M196.4,220.3h0M194.9,204.1h0M199.4,221.5h0M199.3,194.9h0M195.9,216.3h0M194.8,213.7h0M192.3,205.5h0M200.2,191.2h0M196.8,225.1h0M192.7,223.6h0M197.4,217.2h0M195.0,224.2h0M198.9,212.0h0M194.6,221.4h0M193.2,200.4h0M199.6,222.0h0M197.3,220.2h0M200.9,226.6h0M201.1,222.8h0M194.9,203.0h0M197.2,214.0h0M192.8,202.4h0M194.5,219.6h0M196.8,206.0h0M192.5,203.5h0M192.7,217.1h0M195.5,225.7h0M192.6,203.5h0M197.1,208.8h0M199.0,219.7h0M198.5,217.3h0M199.5,219.5h0M195.2,224.9h0M192.8,217.2h0M199.6,203.3h0M193.9,209.3h0M192.9,203.1h0M199.1,200.2h0M194.8,224.5h0M195.1,223.9h0M199.6,219.2h0M196.7,214.4h0M194.7,212.9h0M194.9,219.8h0M199.4,212.6h0M198.0,205.9h0M196.1,220.4h0M199.4,204.8h0M199.5,211.0h0" stroke="#ff8000" stroke-width="1.90" stroke-linecap="round" fill="none"/>
<path d="M201.8,281.4L201.8,224.2L202.3,224.7L202.8,224.0L203.3,225.0L203.8,224.9L204.3,223.7L204.8,223.9L205.3,224.6L205.8,221.0L206.3,221.9L206.7,220.9L207.2,222.6L207.7,221.3L208.2,220.7L208.7,221.1L209.2,217.9L209.7,219.7L210.2,222.6L210.7,223.1L211.2,221.7L211.2,281.4Z" fill="#0000ff"/>
<path d="M207.2,223.3h0M202.6,230.7h0M208.9,219.8h0M206.2,222.7h0M209.0,218.2h0M206.8,223.3h0M205.5,233.4h0M206.0,226.3h0M206.2,222.6h0M207.9,223.8h0M202.7,228.0h0M210.4,226.1h0" stroke="#fff" stroke-width="1.1" stroke-linecap="round" fill="none"/>
<path d="M204.0,220.2h0M209.3,189.8h0M207.4,215.5h0M206.0,217.8h0M205.4,218.9h0M205.5,220.3h0M205.5,222.9h0M202.6,219.3h0M203.8,210.3h0M207.4,219.0h0M205.6,206.4h0M203.8,208.6h0M206.0,200.8h0M207.3,204.1h0M210.2,219.8h0M202.7,203.4h0M203.4,201.9h0M204.2,224.1h0M205.6,224.0h0M204.6,216.4h0M210.1,220.5h0M203.8,218.4h0M207.7,213.8h0M207.3,216.8h0M205.7,208.9h0M205.2,219.0h0M204.2,205.0h0M207.3,198.3h0M205.7,220.2h0M207.5,217.1h0M207.2,222.5h0M207.3,220.7h0M205.9,204.7h0M205.6,196.2h0M209.9,212.6h0M207.3,210.0h0M204.2,224.5h0M205.5,206.1h0M203.9,224.4h0M210.3,212.7h0M203.9,214.6h0M203.7,215.5h0M205.7,204.2h0M204.4,222.2h0M203.8,225.0h0M203.9,218.5h0M203.5,213.8h0M203.6,215.8h0M210.4,198.8h0M205.5,223.1h0M205.4,209.4h0M205.5,212.0h0M203.7,224.8h0M203.9,221.2h0M205.8,203.4h0M204.2,217.5h0M204.1,217.9h0M205.8,219.5h0M207.3,210.2h0M207.3,205.0h0M203.7,224.5h0M204.1,215.6h0M210.3,206.9h0M207.8,213.4h0M210.1,201.8h0M207.2,216.5h0M204.2,224.4h0M207.6,213.9h0M210.5,202.5h0M207.6,198.3h0M205.5,224.0h0M207.3,204.6h0M208.0,206.5h0M207.4,217.5h0M209.4,217.4h0" stroke="#0000ff" stroke-width="2.00" stroke-linecap="round" fill="none"/>
<path d="M211.2,281.4L211.2,227.0L211.7,229.3L212.2,229.7L212.7,226.0L213.2,226.8L213.8,225.5L214.3,224.2L214.8,225.8L215.3,226.3L215.8,228.2L216.3,227.6L216.8,227.1L217.3,226.9L217.8,226.2L218.3,226.9L218.9,227.2L219.4,228.5L219.9,228.1L220.4,228.0L220.9,230.0L220.9,281.4Z" fill="#7f7f7f"/>
<path d="M217.4,228.1h0M213.5,230.0h0M211.9,228.6h0M219.5,234.4h0M219.0,230.0h0M212.4,231.9h0M213.5,233.0h0M218.9,229.0h0M215.9,228.5h0M220.0,231.0h0M212.3,236.6h0M219.0,232.0h0" stroke="#fff" stroke-width="1.1" stroke-linecap="round" fill="none"/>
<path d="M214.9,222.1h0M217.5,222.5h0M215.0,213.6h0M219.4,221.2h0M212.2,216.0h0M215.6,215.4h0M217.2,222.1h0M215.1,201.2h0M217.0,218.6h0M219.3,222.9h0M219.2,208.9h0M215.4,213.6h0M213.1,209.7h0M215.1,219.5h0M217.3,222.4h0M217.0,199.0h0M217.0,221.1h0M214.6,201.7h0M219.0,222.3h0M219.2,218.9h0M217.1,216.8h0M212.6,219.0h0M219.0,227.0h0M214.8,203.0h0M217.3,195.2h0M214.9,216.3h0M215.2,223.9h0M212.9,227.5h0M219.6,211.8h0M217.2,208.8h0M212.3,200.5h0M213.5,223.9h0M217.3,212.3h0M219.2,204.3h0M214.7,222.7h0M212.4,221.7h0M217.7,211.1h0M212.3,228.8h0M217.2,197.4h0M219.8,218.8h0M212.6,217.3h0M215.0,223.6h0M214.7,218.6h0M217.5,217.8h0M215.1,207.1h0M218.7,226.8h0M219.1,216.1h0M219.5,223.4h0M219.0,224.3h0M215.2,197.8h0M217.6,219.2h0M219.6,223.3h0M212.3,228.5h0M212.0,224.2h0M219.3,225.4h0M219.2,214.7h0M215.1,213.6h0M219.4,218.7h0M216.8,192.3h0M215.2,223.1h0M215.5,194.2h0M212.0,208.1h0M217.2,226.0h0" stroke="#7f7f7f" stroke-width="1.80" stroke-linecap="round" fill="none"/>
<path d="M211.5,71.9h0M211.7,83.8h0M211.6,87.4h0M211.8,95.7h0M211.8,97.4h0M211.7,107.6h0M212.0,118.8h0M211.6,124.8h0M211.9,127.6h0M212.0,148.6h0M212.0,155.2h0M211.8,157.6h0M211.7,173.6h0M211.8,205.9h0M211.5,202.4h0M211.6,198.9h0M211.7,195.4h0M211.6,192.0h0M211.9,188.5h0M212.0,185.0h0M211.8,181.5h0M211.7,178.0h0" stroke="#505050" stroke-width="1.70" stroke-linecap="round" fill="none"/>
<path d="M220.9,281.4L220.9,228.2L221.4,225.9L221.9,226.3L222.4,227.0L222.9,225.5L223.4,224.9L223.9,224.3L224.4,225.8L224.9,224.5L225.4,227.0L225.8,226.9L226.3,227.6L226.8,229.0L227.3,228.6L227.8,228.9L228.3,228.9L228.8,231.8L229.3,229.0L229.8,226.3L230.3,225.9L230.3,281.4Z" fill="#ff8000"/>
<path d="M224.1,226.2h0M224.1,225.7h0M228.7,234.7h0M223.4,225.6h0M221.5,229.0h0M225.9,228.1h0M223.2,227.1h0M229.5,230.6h0M225.0,228.6h0M227.6,232.5h0M228.7,231.9h0M228.6,236.3h0" stroke="#fff" stroke-width="1.1" stroke-linecap="round" fill="none"/>
<path d="M222.6,224.2h0M225.7,202.5h0M228.2,228.8h0M227.4,227.8h0M222.7,223.0h0M222.4,223.2h0M226.8,197.9h0M222.6,223.7h0M224.3,220.6h0M224.8,206.1h0M222.2,216.1h0M222.4,203.5h0M228.2,204.1h0M226.8,223.4h0M222.2,217.2h0M221.6,227.0h0M228.0,227.6h0M222.6,220.3h0M226.1,225.8h0M228.4,206.0h0M228.2,218.2h0M222.8,214.6h0M222.6,213.6h0M222.8,224.9h0M227.8,225.9h0M226.8,224.4h0M222.6,214.9h0M225.7,200.6h0M226.4,223.2h0M225.0,211.9h0M228.7,228.6h0M222.7,222.6h0M228.0,224.7h0M226.5,224.7h0M228.0,208.8h0M222.4,220.0h0M225.3,220.8h0M222.6,220.2h0M222.9,208.6h0M227.9,217.5h0M226.4,220.9h0M225.4,222.9h0M228.0,225.4h0M228.9,219.6h0M227.0,194.1h0M225.4,226.8h0M228.1,225.1h0M222.7,206.4h0M221.9,218.8h0M226.9,219.4h0M225.4,223.1h0M224.5,214.5h0M228.0,223.1h0M226.7,225.1h0M225.6,205.0h0M228.2,214.7h0M229.0,206.7h0M227.8,220.0h0M225.5,223.4h0M225.7,215.3h0M228.7,208.9h0M222.8,225.3h0M225.4,214.6h0M226.9,213.8h0M222.7,215.0h0M226.3,224.0h0M225.8,195.1h0M226.9,223.4h0M222.7,225.0h0M228.1,216.8h0M226.8,225.6h0M222.9,226.0h0M227.6,226.1h0M225.2,226.4h0M224.2,222.3h0" stroke="#ff8000" stroke-width="1.90" stroke-linecap="round" fill="none"/>
<path d="M229.0,157.6h0M228.6,164.8h0" stroke="#f07c10" stroke-width="2.10" stroke-linecap="round" fill="none"/>
<path d="M230.3,281.4L230.3,215.5L230.8,213.3L231.3,215.1L231.8,216.7L232.3,214.9L232.9,216.5L233.4,214.1L233.9,214.1L234.4,215.3L234.9,213.5L235.4,214.7L235.9,215.5L236.4,214.6L236.9,215.1L237.4,214.0L238.0,212.2L238.5,212.0L239.0,212.9L239.5,214.5L240.0,216.5L240.0,281.4Z" fill="#0000ff"/>
<path d="M233.8,220.6h0M236.2,217.0h0M232.1,218.9h0M235.7,219.5h0M237.7,219.7h0M232.5,215.7h0M237.7,213.2h0M232.4,215.1h0M235.2,217.0h0M232.5,224.2h0M231.9,216.3h0" stroke="#fff" stroke-width="1.1" stroke-linecap="round" fill="none"/>
<path d="M231.0,207.6h0M238.4,184.3h0M237.3,211.3h0M232.8,200.9h0M236.2,192.1h0M231.3,210.4h0M239.1,206.3h0M236.9,207.6h0M235.7,194.2h0M238.8,191.9h0M238.9,206.5h0M231.4,207.2h0M233.0,205.4h0M238.7,213.4h0M236.0,209.8h0M232.9,214.8h0M231.6,212.5h0M236.6,205.6h0M236.1,213.1h0M238.9,210.8h0M236.3,214.5h0M231.2,211.3h0M239.3,214.8h0M233.0,204.0h0M236.3,199.0h0M231.4,204.3h0M236.2,211.0h0M239.2,203.9h0M231.3,210.0h0M232.4,211.2h0M239.1,188.4h0M235.1,200.1h0M236.0,207.5h0M238.7,209.5h0M239.0,210.6h0M238.9,213.9h0M239.3,214.2h0M231.5,212.9h0M237.3,212.0h0M238.0,210.4h0M231.5,211.2h0M234.6,182.3h0M235.9,179.9h0M238.9,195.5h0M235.6,210.1h0M239.3,207.4h0M238.2,204.9h0M237.2,213.2h0M239.2,216.0h0M232.8,214.8h0M237.6,178.9h0M238.8,208.9h0M232.9,206.7h0M236.9,196.0h0M237.1,207.0h0M237.4,212.1h0M239.1,193.9h0M236.2,199.6h0M232.6,211.0h0M238.8,208.7h0M238.8,206.7h0M239.1,209.2h0M237.6,207.6h0M235.9,212.0h0M236.4,198.3h0M236.5,214.3h0M239.2,194.1h0M239.3,208.7h0M232.0,213.1h0M236.0,206.1h0M231.0,199.3h0M238.9,214.2h0M239.2,208.4h0M232.6,206.7h0M236.4,212.2h0M236.0,215.0h0M231.7,213.9h0" stroke="#0000ff" stroke-width="2.00" stroke-linecap="round" fill="none"/>
<path d="M240.0,281.4L240.0,230.2L240.5,227.8L241.0,231.1L241.5,231.2L242.0,229.9L242.5,231.4L243.0,229.5L243.5,228.2L244.0,229.6L244.4,227.6L244.9,227.0L245.4,226.9L245.9,228.0L246.4,228.5L246.9,228.0L247.4,227.4L247.9,224.7L248.4,224.9L248.4,281.4Z" fill="#7f7f7f"/>
<path d="M247.4,225.2h0M241.0,227.9h0M246.9,228.0h0M244.8,228.0h0M245.9,233.8h0M245.1,230.1h0M243.4,235.2h0M245.7,231.0h0M241.2,236.4h0" stroke="#fff" stroke-width="1.1" stroke-linecap="round" fill="none"/>
<path d="M245.7,215.6h0M247.0,225.2h0M242.1,220.9h0M242.5,225.0h0M241.5,222.9h0M244.2,225.4h0M241.6,222.5h0M244.1,210.1h0M246.4,218.7h0M245.0,226.1h0M244.5,206.4h0M244.0,222.7h0M245.8,226.6h0M244.4,216.6h0M244.3,227.1h0M245.7,227.7h0M242.2,222.9h0M246.0,198.5h0M243.1,213.8h0M241.9,229.7h0M244.4,225.3h0M245.6,208.1h0M245.9,214.4h0M242.0,198.3h0M244.3,217.5h0M242.0,223.3h0M246.0,216.6h0M245.4,221.9h0M242.0,229.3h0M241.9,229.2h0M244.5,225.6h0M245.7,219.5h0M245.4,220.1h0M244.4,223.6h0M242.3,213.3h0M244.1,208.1h0M243.1,214.0h0M245.1,194.1h0M245.8,222.4h0M241.7,228.9h0M246.1,210.1h0M243.9,225.9h0M244.3,222.9h0M245.7,224.9h0M246.1,222.0h0M242.2,223.0h0M243.9,202.2h0M245.9,219.5h0M242.0,228.1h0M247.0,223.5h0M241.9,222.3h0M246.1,217.1h0M244.3,226.2h0M243.1,223.4h0" stroke="#7f7f7f" stroke-width="1.80" stroke-linecap="round" fill="none"/>
<path d="M247.9,158.0h0M248.2,161.7h0M248.2,169.5h0M247.9,178.0h0" stroke="#505050" stroke-width="1.70" stroke-linecap="round" fill="none"/>
<path d="M248.4,281.4L248.4,219.7L248.9,219.9L249.4,220.5L249.9,222.5L250.4,221.1L250.9,222.4L251.4,221.7L251.9,223.1L252.4,221.5L252.9,220.5L253.4,220.1L253.9,221.2L254.4,221.6L254.9,223.7L255.4,222.0L255.9,223.0L255.9,281.4Z" fill="#ff8000"/>
<path d="M254.2,222.9h0M253.5,222.4h0M255.3,228.5h0M252.0,226.8h0M250.6,221.4h0M251.3,226.5h0M255.1,223.4h0M255.2,225.6h0" stroke="#fff" stroke-width="1.1" stroke-linecap="round" fill="none"/>
<path d="M254.4,218.3h0M254.5,202.4h0M249.5,213.6h0M249.2,214.1h0M254.4,217.7h0M254.3,218.5h0M255.0,212.5h0M254.2,211.9h0M249.3,203.9h0M253.0,219.4h0M253.6,198.8h0M253.9,189.0h0M249.1,218.8h0M251.5,220.2h0M254.1,218.5h0M252.2,216.7h0M249.5,217.5h0M249.5,210.2h0M249.3,204.3h0M254.2,207.3h0M253.9,221.4h0M254.4,222.3h0M249.6,207.9h0M254.2,205.4h0M251.9,217.9h0M254.4,216.9h0M249.7,219.6h0M254.3,222.3h0M254.2,218.8h0M252.1,209.7h0M254.8,220.5h0M249.3,211.3h0M254.0,215.6h0M252.1,220.1h0M252.2,203.2h0M249.5,208.4h0M254.3,198.6h0M249.9,203.2h0M254.6,217.1h0M252.4,207.4h0M252.2,219.6h0M253.9,220.9h0M254.8,205.1h0M254.7,204.1h0M252.1,221.9h0M249.4,194.7h0M249.3,207.3h0M249.1,218.9h0M254.2,223.6h0M249.5,198.8h0M251.4,207.3h0M249.6,213.1h0M253.4,205.4h0M254.4,209.2h0M249.4,219.0h0M249.2,204.2h0M249.9,218.5h0M249.4,214.5h0M254.0,216.6h0" stroke="#ff8000" stroke-width="1.90" stroke-linecap="round" fill="none"/>
<path d="M255.4,82.4h0M255.7,87.9h0M255.7,91.9h0M255.2,106.2h0M255.7,111.7h0M255.3,116.0h0M255.2,136.0h0M255.3,143.1h0M255.3,210.9h0M255.2,208.6h0M255.7,206.4h0M255.5,204.2h0M255.4,201.9h0M255.3,199.7h0M255.2,197.4h0M255.3,195.2h0M255.3,193.0h0M255.3,190.7h0M255.2,188.5h0M255.4,186.2h0M255.4,184.0h0M255.6,181.7h0M255.1,179.5h0M255.4,177.3h0M255.7,175.0h0M255.3,172.8h0M255.4,170.5h0M255.6,168.3h0M255.1,166.1h0M255.5,163.8h0M255.5,161.6h0M255.3,159.3h0M255.1,157.1h0M255.7,154.9h0M255.1,152.6h0M255.4,150.4h0" stroke="#f07c10" stroke-width="2.10" stroke-linecap="round" fill="none"/>
<path d="M255.9,281.4L255.9,210.1L256.4,210.1L256.9,211.3L257.4,211.9L257.9,213.9L258.4,212.2L258.9,211.2L259.4,211.4L259.8,213.1L260.3,213.4L260.8,211.6L261.3,210.2L261.8,211.8L262.3,212.0L262.8,211.5L263.3,210.0L263.3,281.4Z" fill="#0000ff"/>
<path d="M260.6,211.9h0M262.2,213.4h0M258.4,215.3h0M257.3,212.9h0M256.8,211.6h0M260.9,212.9h0M258.2,219.6h0M258.5,212.5h0M259.7,215.7h0" stroke="#fff" stroke-width="1.1" stroke-linecap="round" fill="none"/>
<path d="M262.1,210.0h0M258.6,210.9h0M259.4,203.6h0M258.8,206.8h0M257.2,199.0h0M260.9,190.1h0M258.9,191.2h0M260.3,202.4h0M259.4,206.5h0M258.9,207.4h0M260.7,205.8h0M258.5,203.3h0M257.5,210.6h0M259.1,202.4h0M259.1,207.8h0M259.1,199.7h0M260.2,200.9h0M259.2,206.7h0M260.5,204.7h0M261.2,205.7h0M257.6,205.5h0M260.6,211.4h0M257.6,211.8h0M260.3,195.8h0M259.3,211.3h0M260.8,201.6h0M261.0,205.1h0M259.1,205.8h0M260.4,207.5h0M259.0,209.0h0M260.1,208.4h0M261.5,208.7h0M257.6,202.4h0M259.8,196.3h0M257.6,208.6h0M258.9,210.0h0M257.6,203.7h0M257.5,181.2h0M258.7,202.7h0M257.3,203.0h0M258.9,207.2h0M261.0,206.5h0M260.2,196.2h0M257.3,210.2h0M260.4,200.2h0M260.7,206.3h0M260.7,210.3h0M257.6,207.1h0M260.9,207.5h0M258.8,210.4h0M259.3,199.8h0M260.1,199.5h0M258.2,188.3h0M260.4,212.4h0M260.7,204.4h0M260.4,194.7h0M256.9,204.3h0M260.7,208.1h0M260.0,202.8h0" stroke="#0000ff" stroke-width="2.00" stroke-linecap="round" fill="none"/>
<path d="M262.8,146.2h0M263.3,161.7h0M263.3,172.4h0M263.2,178.3h0M263.0,205.9h0M263.1,202.9h0M263.2,199.9h0M262.9,196.9h0M263.2,193.9h0M263.2,191.0h0M262.7,188.0h0M263.0,185.0h0M263.1,182.0h0M262.9,179.0h0" stroke="#0000ff" stroke-width="2.20" stroke-linecap="round" fill="none"/>
<path d="M263.3,281.4L263.3,229.4L263.8,227.1L264.3,226.9L264.8,228.8L265.3,229.4L265.8,227.2L266.3,228.2L266.8,230.0L267.2,231.9L267.7,229.8L268.2,229.8L268.7,230.0L269.2,227.8L269.7,229.5L270.2,229.5L270.7,228.9L270.7,281.4Z" fill="#7f7f7f"/>
<path d="M267.6,234.0h0M268.7,230.0h0M265.0,231.4h0M266.4,228.6h0M270.2,235.3h0M268.7,234.8h0M265.6,238.8h0M269.3,230.0h0M268.5,238.5h0" stroke="#fff" stroke-width="1.1" stroke-linecap="round" fill="none"/>
<path d="M265.4,217.1h0M268.5,228.3h0M265.5,212.3h0M269.1,225.1h0M267.9,215.9h0M265.1,208.1h0M267.9,226.6h0M267.6,219.7h0M268.5,212.1h0M267.6,228.2h0M267.5,227.7h0M269.0,228.0h0M268.3,201.1h0M269.2,214.0h0M265.3,220.8h0M267.4,226.6h0M267.5,220.4h0M267.8,223.2h0M265.3,218.1h0M268.9,224.6h0M265.4,225.2h0M268.6,209.8h0M267.6,222.8h0M267.9,219.3h0M268.6,222.8h0M265.2,228.7h0M265.0,221.3h0M268.0,214.4h0M268.1,228.6h0M268.7,218.2h0M265.0,228.0h0M265.8,225.7h0M267.6,226.5h0M268.7,216.4h0M268.1,221.6h0M267.0,213.3h0M268.2,203.2h0M265.6,217.1h0M268.3,217.4h0M265.2,213.9h0M266.9,225.6h0M265.3,212.1h0M268.6,223.1h0M268.6,223.1h0M265.5,219.8h0M267.6,229.5h0M264.4,196.5h0M265.2,209.7h0" stroke="#7f7f7f" stroke-width="1.80" stroke-linecap="round" fill="none"/>
<path d="M270.7,281.4L270.7,219.2L271.2,221.3L271.7,216.3L272.2,217.7L272.7,218.9L273.2,217.4L273.7,217.0L274.2,215.0L274.7,214.5L275.1,212.9L275.6,216.9L276.1,216.7L276.6,217.2L277.1,217.9L277.6,217.9L278.1,217.9L278.6,218.1L279.1,217.0L279.1,281.4Z" fill="#ff8000"/>
<path d="M272.1,216.5h0M277.2,222.5h0M271.4,221.4h0M276.5,221.0h0M276.9,224.1h0M275.9,219.0h0M273.0,219.0h0M272.9,220.3h0M271.4,228.6h0M274.5,215.0h0" stroke="#fff" stroke-width="1.1" stroke-linecap="round" fill="none"/>
<path d="M273.5,206.5h0M271.4,207.4h0M277.0,208.9h0M275.1,199.9h0M273.6,215.5h0M272.0,215.3h0M271.5,202.1h0M271.7,213.3h0M273.1,204.4h0M274.7,209.8h0M276.6,183.8h0M271.9,187.4h0M277.5,206.8h0M273.6,206.9h0M273.5,211.4h0M273.0,195.7h0M276.4,209.6h0M276.1,215.6h0M271.7,216.4h0M275.1,204.9h0M274.1,187.0h0M271.9,207.2h0M276.6,215.4h0M276.2,181.8h0M272.8,201.1h0M273.1,206.1h0M271.6,203.9h0M271.8,193.7h0M271.5,211.6h0M271.5,214.0h0M271.5,203.4h0M272.8,211.2h0M274.8,211.3h0M273.5,187.2h0M273.0,217.5h0M275.6,198.8h0M275.8,212.4h0M274.8,201.0h0M273.4,215.0h0M277.8,203.3h0M271.8,193.0h0M276.1,190.8h0M275.0,200.6h0M276.4,212.5h0M274.9,201.9h0M276.7,217.9h0M271.9,220.3h0M273.0,218.6h0M274.8,209.8h0M275.9,210.9h0M273.4,207.6h0M272.1,213.0h0M273.4,204.5h0M273.4,201.9h0M275.1,209.0h0M271.6,210.7h0M271.8,220.7h0M277.2,217.0h0M275.0,205.9h0M275.5,207.2h0M275.9,205.3h0M276.5,208.8h0M273.4,208.8h0M275.2,207.7h0M277.5,217.4h0M274.7,199.2h0M271.7,221.1h0" stroke="#ff8000" stroke-width="1.90" stroke-linecap="round" fill="none"/>
<path d="M277.8,135.5h0M278.0,137.4h0M278.1,164.8h0M278.1,170.7h0M278.0,176.0h0M278.3,205.9h0M278.2,202.2h0M278.3,198.4h0M277.8,194.7h0M277.8,191.0h0M278.4,187.2h0M277.9,183.5h0" stroke="#f07c10" stroke-width="2.10" stroke-linecap="round" fill="none"/>
<path d="M279.1,281.4L279.1,219.4L279.6,218.2L280.1,217.4L280.6,214.9L281.1,219.0L281.6,214.7L282.1,215.8L282.6,216.0L283.0,218.2L283.5,218.8L284.0,218.5L284.5,220.3L285.0,222.1L285.5,221.6L286.0,222.0L286.5,223.6L286.5,281.4Z" fill="#0000ff"/>
<path d="M284.3,222.7h0M284.4,221.8h0M279.7,220.5h0M285.0,221.7h0M284.2,221.2h0M280.2,227.4h0M284.1,221.9h0M282.5,218.0h0" stroke="#fff" stroke-width="1.1" stroke-linecap="round" fill="none"/>
<path d="M284.1,199.6h0M283.9,213.1h0M281.8,209.9h0M279.8,212.7h0M281.7,190.2h0M280.0,198.9h0M280.0,203.9h0M279.9,214.8h0M280.1,204.8h0M280.2,214.8h0M282.1,214.6h0M284.9,211.3h0M279.8,217.8h0M283.4,218.3h0M282.3,201.5h0M282.3,214.2h0M281.5,217.6h0M285.1,212.2h0M280.1,201.7h0M282.0,206.8h0M283.8,216.0h0M281.9,183.6h0M285.1,219.8h0M282.3,211.7h0M280.7,216.4h0M281.6,210.4h0M280.1,212.9h0M282.4,214.3h0M282.3,215.3h0M285.0,215.4h0M284.8,187.0h0M281.4,207.2h0M285.0,215.2h0M279.9,199.4h0M280.2,213.0h0M279.8,218.5h0M283.6,204.3h0M281.8,197.6h0M281.6,188.5h0M284.3,196.1h0M279.9,213.1h0M285.1,205.2h0M282.7,213.4h0M279.8,209.7h0M285.3,212.4h0M284.9,218.4h0M284.9,221.4h0M284.8,219.7h0M280.0,213.9h0M280.0,209.8h0M279.9,191.0h0M282.2,192.1h0M281.7,214.6h0M282.4,214.8h0M282.4,214.2h0M285.0,220.8h0M285.3,213.8h0M282.2,213.8h0M280.2,183.1h0" stroke="#0000ff" stroke-width="2.00" stroke-linecap="round" fill="none"/>
<path d="M285.3,171.2h0M285.2,178.3h0" stroke="#0000ff" stroke-width="2.20" stroke-linecap="round" fill="none"/>
<path d="M286.5,281.4L286.5,217.0L287.0,216.8L287.5,215.9L288.0,214.2L288.4,216.1L288.9,216.8L289.4,215.8L289.9,214.6L290.4,213.9L290.9,214.8L291.3,215.9L291.8,216.9L292.3,215.2L292.8,213.9L292.8,281.4Z" fill="#7f7f7f"/>
<path d="M288.1,216.6h0M289.5,218.4h0M288.7,219.5h0M291.1,223.9h0M288.4,220.6h0M290.7,215.5h0M291.2,216.0h0M287.7,216.3h0" stroke="#fff" stroke-width="1.1" stroke-linecap="round" fill="none"/>
<path d="M291.6,206.9h0M287.7,204.1h0M287.7,186.1h0M290.4,210.9h0M291.8,213.8h0M287.5,207.4h0M288.9,196.4h0M289.8,208.3h0M289.2,201.6h0M287.7,196.5h0M290.7,200.8h0M289.8,210.1h0M291.7,214.3h0M289.7,209.1h0M289.1,199.8h0M288.0,194.4h0M291.9,207.4h0M287.7,210.3h0M289.9,210.4h0M289.7,191.3h0M291.4,209.9h0M289.6,211.2h0M287.7,207.0h0M289.3,213.4h0M289.6,204.4h0M291.7,211.9h0M287.4,184.2h0M291.9,210.1h0M288.7,216.0h0M290.9,207.1h0M287.7,216.1h0M291.4,212.1h0M291.4,194.0h0M289.4,206.0h0M289.5,212.9h0M289.4,215.6h0M292.1,182.9h0M291.6,206.3h0M289.3,212.9h0M287.7,196.7h0" stroke="#7f7f7f" stroke-width="1.80" stroke-linecap="round" fill="none"/>
<path d="M290.1,112.9h0M290.2,124.0h0M290.3,132.6h0M290.4,139.8h0M290.0,164.0h0" stroke="#505050" stroke-width="1.70" stroke-linecap="round" fill="none"/>
<path d="M292.8,281.4L292.8,226.0L293.3,229.0L293.8,226.8L294.3,226.7L294.8,225.7L295.3,227.5L295.8,225.8L296.3,227.4L296.8,225.8L297.3,227.3L297.8,225.4L298.3,225.4L298.8,227.7L299.3,226.3L299.3,281.4Z" fill="#ff8000"/>
<path d="M295.6,229.7h0M294.6,232.4h0M297.2,228.0h0M296.1,229.6h0M293.7,229.2h0M296.7,232.1h0M297.5,229.6h0M298.7,228.6h0" stroke="#fff" stroke-width="1.1" stroke-linecap="round" fill="none"/>
<path d="M296.8,215.9h0M294.1,226.2h0M296.6,216.8h0M296.7,219.6h0M296.7,212.2h0M298.0,219.0h0M294.9,225.2h0M294.8,223.7h0M293.5,211.3h0M293.5,197.9h0M293.5,218.7h0M295.2,223.5h0M298.2,212.6h0M296.6,220.6h0M296.8,215.7h0M293.5,223.8h0M296.9,222.8h0M293.7,217.2h0M296.4,212.8h0M296.8,206.9h0M293.5,197.6h0M293.6,225.1h0M293.5,219.5h0M296.1,201.8h0M294.0,216.6h0M296.5,209.7h0M296.0,202.8h0M296.5,207.3h0M293.6,224.1h0M293.8,205.7h0M296.8,223.6h0M294.1,208.4h0M298.2,227.4h0M296.7,220.7h0M296.7,224.3h0M296.4,211.4h0M293.9,226.6h0M296.5,221.2h0M293.5,196.3h0M296.5,220.8h0M293.6,208.4h0M293.9,228.4h0M296.8,214.0h0M293.5,199.5h0M293.5,224.4h0M294.0,198.4h0M297.0,219.7h0M296.4,225.3h0M293.5,224.7h0M296.3,219.4h0M298.3,197.1h0M296.0,195.7h0" stroke="#ff8000" stroke-width="1.90" stroke-linecap="round" fill="none"/>
<path d="M295.8,175.5h0" stroke="#f07c10" stroke-width="2.10" stroke-linecap="round" fill="none"/>
<path d="M299.3,281.4L299.3,224.0L299.8,224.1L300.3,223.6L300.7,223.1L301.2,224.2L301.7,223.9L302.2,223.6L302.7,222.2L303.2,222.0L303.6,221.6L304.1,223.1L304.6,221.8L304.6,281.4Z" fill="#0000ff"/>
<path d="M303.5,226.7h0M303.1,223.9h0M301.8,224.8h0M303.1,225.2h0M303.1,222.1h0M300.6,233.0h0" stroke="#fff" stroke-width="1.1" stroke-linecap="round" fill="none"/>
<path d="M301.8,196.5h0M302.1,222.8h0M302.3,196.4h0M300.5,215.7h0M302.4,205.7h0M302.4,217.9h0M303.7,220.6h0M300.0,222.1h0M300.1,220.1h0M302.1,202.6h0M303.6,219.1h0M303.7,216.8h0M300.0,223.7h0M302.1,215.7h0M302.1,220.1h0M302.5,214.3h0M302.7,211.7h0M300.1,202.6h0M300.0,212.4h0M302.8,219.2h0M300.2,220.5h0M302.4,207.8h0M302.6,217.4h0M303.5,220.0h0M300.1,213.9h0M301.1,216.9h0M300.1,214.6h0M301.7,214.2h0M300.0,220.3h0M301.9,218.3h0M302.2,213.7h0M300.0,215.6h0M302.4,207.4h0M300.0,220.3h0M300.0,219.9h0M300.0,213.5h0M302.4,216.9h0M302.0,205.8h0M302.0,220.7h0M301.9,223.3h0M300.0,202.9h0M302.4,222.0h0M300.2,222.9h0M302.3,195.0h0M302.0,212.4h0M300.1,210.2h0M300.0,222.9h0M302.1,217.4h0M300.3,201.9h0M301.8,207.8h0M301.7,211.0h0M300.0,222.3h0M302.7,220.2h0M300.1,218.3h0M302.6,218.8h0M302.8,215.1h0M300.2,203.2h0M300.5,214.3h0M302.3,220.6h0M303.8,220.8h0M301.8,218.3h0M302.5,221.1h0M300.5,196.5h0" stroke="#0000ff" stroke-width="2.00" stroke-linecap="round" fill="none"/>
<path d="M303.2,169.5h0M303.0,178.3h0" stroke="#0000ff" stroke-width="2.20" stroke-linecap="round" fill="none"/>
<path d="M304.6,281.4L304.6,223.0L305.1,220.2L305.6,217.6L306.1,217.3L306.5,221.4L307.0,221.7L307.5,220.4L308.0,221.7L308.5,222.4L308.9,221.2L309.4,220.9L309.9,221.1L310.4,221.0L310.4,281.4Z" fill="#7f7f7f"/>
<path d="M307.5,224.0h0M308.1,222.7h0M309.2,222.9h0M309.2,222.9h0M306.1,217.8h0M309.0,221.6h0" stroke="#fff" stroke-width="1.1" stroke-linecap="round" fill="none"/>
<path d="M306.1,186.4h0M308.3,216.0h0M307.5,215.2h0M306.1,207.0h0M308.8,212.9h0M308.7,211.3h0M305.8,210.6h0M305.9,213.5h0M307.2,216.5h0M305.7,217.5h0M306.0,213.2h0M308.6,216.1h0M308.4,218.6h0M305.5,195.1h0M306.1,195.5h0M308.9,216.7h0M308.5,206.2h0M306.2,215.3h0M309.0,215.6h0M306.8,214.7h0M306.0,213.7h0M308.8,219.2h0M306.0,202.9h0M308.5,212.2h0M307.0,216.1h0M308.6,216.0h0M306.0,210.6h0M306.3,214.3h0M306.2,212.2h0M306.4,216.9h0M308.0,220.8h0M307.3,220.4h0M308.7,214.6h0M307.1,219.2h0M309.2,216.2h0M306.2,209.9h0M306.3,213.4h0" stroke="#7f7f7f" stroke-width="1.80" stroke-linecap="round" fill="none"/>
<path d="M305.9,170.0h0M310.0,177.1h0" stroke="#505050" stroke-width="1.70" stroke-linecap="round" fill="none"/>
<path d="M310.4,281.4L310.4,220.0L310.9,220.1L311.4,223.5L311.8,222.0L312.3,222.1L312.8,221.2L313.3,221.5L313.8,221.4L314.3,221.0L314.7,220.9L315.2,220.9L315.7,219.4L315.7,281.4Z" fill="#ff8000"/>
<path d="M314.7,222.4h0M311.7,224.9h0M313.8,221.7h0M313.7,223.5h0M311.1,222.8h0M313.5,226.3h0" stroke="#fff" stroke-width="1.1" stroke-linecap="round" fill="none"/>
<path d="M315.0,199.9h0M315.0,215.2h0M314.3,214.4h0M313.2,220.4h0M311.8,218.4h0M313.0,215.2h0M311.6,213.0h0M314.5,188.7h0M311.6,208.9h0M313.1,217.0h0M311.4,211.9h0M311.5,219.0h0M311.5,217.1h0M311.7,216.8h0M311.4,216.7h0M314.5,208.2h0M311.5,190.5h0M311.6,217.8h0M311.6,220.0h0M312.4,218.7h0M311.4,207.2h0M314.9,208.7h0M314.7,197.0h0M314.8,190.3h0M314.8,210.8h0M311.1,219.4h0M311.7,217.5h0M311.5,204.9h0M314.8,211.3h0M311.5,208.1h0M312.5,205.2h0M314.5,217.5h0M313.5,213.1h0M314.9,208.9h0M312.0,207.2h0M314.6,194.1h0M314.6,219.6h0M314.8,216.7h0M313.9,198.8h0M311.4,217.7h0M311.3,207.7h0M313.2,217.7h0" stroke="#ff8000" stroke-width="1.90" stroke-linecap="round" fill="none"/>
<path d="M315.7,281.4L315.7,222.1L316.2,222.0L316.7,220.1L317.2,219.7L317.7,219.7L318.2,220.8L318.7,224.3L319.2,225.1L319.7,222.8L320.2,223.4L320.7,222.2L321.2,221.9L321.2,281.4Z" fill="#0000ff"/>
<path d="M318.8,224.5h0M318.2,224.3h0M319.9,226.6h0M317.9,220.8h0M317.4,228.6h0M318.9,226.4h0M317.3,222.4h0" stroke="#fff" stroke-width="1.1" stroke-linecap="round" fill="none"/>
<path d="M319.2,217.2h0M318.4,194.1h0M317.4,202.7h0M317.4,195.7h0M317.7,217.9h0M319.4,221.7h0M319.2,216.1h0M319.7,201.8h0M316.7,193.2h0M317.2,211.4h0M319.4,209.3h0M317.4,217.8h0M317.0,215.0h0M319.4,218.4h0M317.0,213.3h0M317.2,201.4h0M319.7,219.0h0M317.7,213.2h0M317.2,217.0h0M317.1,203.2h0M319.1,210.1h0M317.7,191.4h0M319.5,218.1h0M318.1,218.8h0M319.3,202.9h0M317.4,210.0h0M317.3,207.4h0M316.9,220.6h0M317.2,203.4h0M319.1,199.1h0M317.7,218.8h0M319.8,220.0h0M319.3,206.7h0M319.1,221.4h0M319.2,220.2h0M317.3,203.9h0M319.1,190.8h0M319.6,219.9h0M319.7,189.3h0M319.0,216.9h0M319.5,213.3h0M317.2,213.0h0M319.7,216.2h0M317.4,204.1h0M319.1,201.5h0M317.0,219.1h0M317.6,216.4h0M319.4,217.6h0M317.4,216.3h0M319.2,210.1h0M317.2,198.4h0M319.5,214.1h0M317.2,216.0h0M319.8,217.5h0M319.5,218.1h0M319.5,207.9h0M320.1,201.1h0M318.3,212.1h0M317.1,210.2h0M317.7,215.3h0M319.5,211.9h0M319.1,224.9h0M319.1,201.0h0M319.7,220.5h0M320.5,208.7h0M319.0,222.7h0" stroke="#0000ff" stroke-width="2.00" stroke-linecap="round" fill="none"/>
<path d="M321.2,281.4L321.2,223.6L321.7,221.3L322.2,220.5L322.7,221.1L323.2,223.5L323.7,222.4L324.2,223.3L324.8,223.4L325.3,222.7L325.8,222.8L326.3,224.0L326.8,223.1L327.3,223.9L327.8,222.4L327.8,281.4Z" fill="#7f7f7f"/>
<path d="M324.4,229.9h0M326.3,224.0h0M323.9,225.3h0M327.3,223.5h0M323.5,226.7h0M324.4,228.8h0M325.3,227.2h0M322.9,222.4h0" stroke="#fff" stroke-width="1.1" stroke-linecap="round" fill="none"/>
<path d="M324.1,221.0h0M325.1,215.3h0M322.3,191.3h0M322.3,188.3h0M322.5,214.4h0M324.9,215.6h0M324.4,222.2h0M323.8,222.0h0M325.6,189.8h0M323.3,218.8h0M325.7,221.1h0M323.5,200.0h0M325.3,220.0h0M323.4,216.8h0M325.4,202.8h0M325.4,200.5h0M323.1,200.6h0M325.1,215.1h0M325.4,213.1h0M325.2,213.8h0M326.1,192.2h0M323.4,220.7h0M323.2,220.3h0M324.9,209.4h0M323.0,204.5h0M322.0,199.8h0M323.8,217.3h0M323.1,219.9h0M323.0,221.0h0M322.1,205.7h0M323.3,211.0h0M323.2,208.2h0M323.2,219.6h0M323.6,212.5h0M323.3,218.4h0M323.3,218.3h0M325.3,221.1h0M323.8,209.8h0M325.2,213.2h0M323.3,220.7h0M325.3,193.6h0M324.8,207.6h0" stroke="#7f7f7f" stroke-width="1.80" stroke-linecap="round" fill="none"/>
</g>
<rect x="32.5" y="6.5" width="303.0" height="282.0" fill="none" stroke="#ababab" stroke-width="1"/>
<line x1="32.5" y1="280.6" x2="32.5" y2="6.7" stroke="#7c7c7c" stroke-width="1"/>
<line x1="29" y1="280.6" x2="32.5" y2="280.6" stroke="#7c7c7c" stroke-width="1"/>
<line x1="29" y1="255.7" x2="32.5" y2="255.7" stroke="#7c7c7c" stroke-width="1"/>
<line x1="29" y1="230.8" x2="32.5" y2="230.8" stroke="#7c7c7c" stroke-width="1"/>
<line x1="29" y1="205.9" x2="32.5" y2="205.9" stroke="#7c7c7c" stroke-width="1"/>
<line x1="29" y1="181.0" x2="32.5" y2="181.0" stroke="#7c7c7c" stroke-width="1"/>
<line x1="29" y1="156.1" x2="32.5" y2="156.1" stroke="#7c7c7c" stroke-width="1"/>
<line x1="29" y1="131.2" x2="32.5" y2="131.2" stroke="#7c7c7c" stroke-width="1"/>
<line x1="29" y1="106.3" x2="32.5" y2="106.3" stroke="#7c7c7c" stroke-width="1"/>
<line x1="29" y1="81.4" x2="32.5" y2="81.4" stroke="#7c7c7c" stroke-width="1"/>
<line x1="29" y1="56.5" x2="32.5" y2="56.5" stroke="#7c7c7c" stroke-width="1"/>
<line x1="29" y1="31.6" x2="32.5" y2="31.6" stroke="#7c7c7c" stroke-width="1"/>
<line x1="29" y1="6.7" x2="32.5" y2="6.7" stroke="#7c7c7c" stroke-width="1"/>
<text x="25.3" y="282.3" font-size="4.8" text-anchor="end" fill="#1a1a1a">0</text>
<text x="25.3" y="232.5" font-size="4.8" text-anchor="end" fill="#1a1a1a">2</text>
<text x="25.3" y="182.7" font-size="4.8" text-anchor="end" fill="#1a1a1a">4</text>
<text x="25.3" y="132.9" font-size="4.8" text-anchor="end" fill="#1a1a1a">6</text>
<text x="25.3" y="83.1" font-size="4.8" text-anchor="end" fill="#1a1a1a">8</text>
<text x="25.3" y="33.3" font-size="4.8" text-anchor="end" fill="#1a1a1a">10</text>
<line x1="41.0" y1="288.5" x2="41.0" y2="292.8" stroke="#8e8e8e" stroke-width="1"/>
<line x1="58.7" y1="288.5" x2="58.7" y2="292.8" stroke="#8e8e8e" stroke-width="1"/>
<line x1="74.4" y1="288.5" x2="74.4" y2="292.8" stroke="#8e8e8e" stroke-width="1"/>
<line x1="88.4" y1="288.5" x2="88.4" y2="292.8" stroke="#8e8e8e" stroke-width="1"/>
<line x1="102.4" y1="288.5" x2="102.4" y2="292.8" stroke="#8e8e8e" stroke-width="1"/>
<line x1="116.0" y1="288.5" x2="116.0" y2="292.8" stroke="#8e8e8e" stroke-width="1"/>
<line x1="129.3" y1="288.5" x2="129.3" y2="292.8" stroke="#8e8e8e" stroke-width="1"/>
<line x1="142.9" y1="288.5" x2="142.9" y2="292.8" stroke="#8e8e8e" stroke-width="1"/>
<line x1="155.7" y1="288.5" x2="155.7" y2="292.8" stroke="#8e8e8e" stroke-width="1"/>
<line x1="168.3" y1="288.5" x2="168.3" y2="292.8" stroke="#8e8e8e" stroke-width="1"/>
<line x1="179.4" y1="288.5" x2="179.4" y2="292.8" stroke="#8e8e8e" stroke-width="1"/>
<line x1="191.6" y1="288.5" x2="191.6" y2="292.8" stroke="#8e8e8e" stroke-width="1"/>
<line x1="202.3" y1="288.5" x2="202.3" y2="292.8" stroke="#8e8e8e" stroke-width="1"/>
<line x1="211.7" y1="288.5" x2="211.7" y2="292.8" stroke="#8e8e8e" stroke-width="1"/>
<line x1="221.4" y1="288.5" x2="221.4" y2="292.8" stroke="#8e8e8e" stroke-width="1"/>
<line x1="230.8" y1="288.5" x2="230.8" y2="292.8" stroke="#8e8e8e" stroke-width="1"/>
<line x1="240.5" y1="288.5" x2="240.5" y2="292.8" stroke="#8e8e8e" stroke-width="1"/>
<line x1="248.9" y1="288.5" x2="248.9" y2="292.8" stroke="#8e8e8e" stroke-width="1"/>
<line x1="256.4" y1="288.5" x2="256.4" y2="292.8" stroke="#8e8e8e" stroke-width="1"/>
<line x1="263.8" y1="288.5" x2="263.8" y2="292.8" stroke="#8e8e8e" stroke-width="1"/>
<line x1="271.2" y1="288.5" x2="271.2" y2="292.8" stroke="#8e8e8e" stroke-width="1"/>
<line x1="279.6" y1="288.5" x2="279.6" y2="292.8" stroke="#8e8e8e" stroke-width="1"/>
<line x1="287.0" y1="288.5" x2="287.0" y2="292.8" stroke="#8e8e8e" stroke-width="1"/>
<line x1="293.3" y1="288.5" x2="293.3" y2="292.8" stroke="#8e8e8e" stroke-width="1"/>
<line x1="299.8" y1="288.5" x2="299.8" y2="292.8" stroke="#8e8e8e" stroke-width="1"/>
<line x1="305.1" y1="288.5" x2="305.1" y2="292.8" stroke="#8e8e8e" stroke-width="1"/>
<line x1="310.9" y1="288.5" x2="310.9" y2="292.8" stroke="#8e8e8e" stroke-width="1"/>
<line x1="316.2" y1="288.5" x2="316.2" y2="292.8" stroke="#8e8e8e" stroke-width="1"/>
<line x1="321.7" y1="288.5" x2="321.7" y2="292.8" stroke="#8e8e8e" stroke-width="1"/>
<line x1="327.4" y1="288.5" x2="327.4" y2="292.8" stroke="#8e8e8e" stroke-width="1"/>
<text x="41.0" y="300.7" font-size="4.7" text-anchor="middle" fill="#1a1a1a">1</text>
<text x="58.7" y="304.1" font-size="4.7" text-anchor="middle" fill="#1a1a1a">2</text>
<text x="74.4" y="300.7" font-size="4.7" text-anchor="middle" fill="#1a1a1a">3</text>
<text x="88.4" y="304.1" font-size="4.7" text-anchor="middle" fill="#1a1a1a">4</text>
<text x="102.4" y="300.7" font-size="4.7" text-anchor="middle" fill="#1a1a1a">5</text>
<text x="116.0" y="304.1" font-size="4.7" text-anchor="middle" fill="#1a1a1a">6</text>
<text x="129.3" y="300.7" font-size="4.7" text-anchor="middle" fill="#1a1a1a">7</text>
<text x="142.9" y="304.1" font-size="4.7" text-anchor="middle" fill="#1a1a1a">8</text>
<text x="155.7" y="300.7" font-size="4.7" text-anchor="middle" fill="#1a1a1a">9</text>
<text x="168.3" y="304.1" font-size="4.7" text-anchor="middle" fill="#1a1a1a">10</text>
<text x="179.4" y="300.7" font-size="4.7" text-anchor="middle" fill="#1a1a1a">11</text>
<text x="191.6" y="304.1" font-size="4.7" text-anchor="middle" fill="#1a1a1a">12</text>
<text x="202.3" y="300.7" font-size="4.7" text-anchor="middle" fill="#1a1a1a">13</text>
<text x="211.7" y="304.1" font-size="4.7" text-anchor="middle" fill="#1a1a1a">14</text>
<text x="221.4" y="300.7" font-size="4.7" text-anchor="middle" fill="#1a1a1a">15</text>
<text x="230.8" y="304.1" font-size="4.7" text-anchor="middle" fill="#1a1a1a">16</text>
<text x="240.5" y="300.7" font-size="4.7" text-anchor="middle" fill="#1a1a1a">17</text>
<text x="248.9" y="304.1" font-size="4.7" text-anchor="middle" fill="#1a1a1a">18</text>
<text x="256.4" y="300.7" font-size="4.7" text-anchor="middle" fill="#1a1a1a">19</text>
<text x="263.8" y="304.1" font-size="4.7" text-anchor="middle" fill="#1a1a1a">20</text>
<text x="271.2" y="300.7" font-size="4.7" text-anchor="middle" fill="#1a1a1a">21</text>
<text x="279.6" y="304.1" font-size="4.7" text-anchor="middle" fill="#1a1a1a">22</text>
<text x="287.0" y="300.7" font-size="4.7" text-anchor="middle" fill="#1a1a1a">23</text>
<text x="299.8" y="300.7" font-size="4.7" text-anchor="middle" fill="#1a1a1a">25</text>
<text x="310.9" y="300.7" font-size="4.7" text-anchor="middle" fill="#1a1a1a">27</text>
<text x="321.7" y="300.7" font-size="4.7" text-anchor="middle" fill="#1a1a1a">29</text>
<line x1="33" y1="152.5" x2="335" y2="152.5" stroke="#c25a5a" stroke-width="1.2"/>
<g clip-path="url(#cq1)">
<path d="M386.4,280.5 L444.5,230.4 L475.0,204.6 L490.0,190.6 L504.9,175.2 L510.9,169.6 L515.0,165.6 L522.4,157.8 L529.9,150.3 L537.3,142.1 L544.8,131.7 L555.5,115.9 L564.5,101.7 L564.5,148.0 L555.5,152.0 L544.8,156.8 L537.3,161.8 L529.9,166.3 L522.4,170.4 L515.0,173.2 L510.9,175.8 L504.9,180.5 L490.0,194.0 L475.0,207.6 L444.5,231.6 L386.4,280.5Z" fill="#d2d2d2" stroke="none"/>
<path d="M385.6,281.0 L420.0,251.8 L455.1,221.7 L462.5,213.3 L468.2,205.1 L476.4,194.4 L480.5,184.6 L484.6,178.9 L486.2,172.3 L488.7,167.4 L492.0,163.3 L494.5,160.5 L495.2,157.6 L497.8,153.4" stroke="#000" stroke-width="2.7" fill="none" stroke-linejoin="round" stroke-linecap="round"/>
<path d=" M498.3,147.2 L499.9,144.0 M500.4,138.8 L503.6,130.5 L506.7,123.2 M508.3,107.5 L509.8,105.4 M509.7,99.3 L512.0,97.2 L514.9,94.1 M515.5,92.3 L519.0,90.6 M519.6,88.3 L523.0,87.3 L526.3,86.5 M527.7,83.0 L529.2,81.9" stroke="#000" stroke-width="2.2" fill="none" stroke-linejoin="round" stroke-linecap="round"/>
<path d="M497.8,151.3h0M497.8,148.7h0M499.9,142.6h0M506.2,120.0h0M506.7,115.9h0M507.2,112.2h0" stroke="#000" stroke-width="2.2" stroke-linecap="round" fill="none"/>
<path d="M530.8,72.2h0M532.9,72.2h0M535.0,42.0h0M538.5,42.0h0M542.8,30.7h0M549.2,30.7h0M562.9,30.7h0" stroke="#111" stroke-width="1.7" stroke-linecap="round" fill="none"/>
<line x1="380.5" y1="285.6" x2="683.5" y2="25.9" stroke="#ec6040" stroke-width="1.15"/>
</g>
<rect x="380.5" y="6.5" width="303.0" height="282.0" fill="none" stroke="#ababab" stroke-width="1"/>
<line x1="380.5" y1="280.5" x2="380.5" y2="31.6" stroke="#7c7c7c" stroke-width="1"/>
<line x1="377" y1="280.5" x2="380.5" y2="280.5" stroke="#7c7c7c" stroke-width="1"/>
<text x="373.6" y="282.7" font-size="6.2" text-anchor="end" fill="#2a2a2a">0</text>
<line x1="377" y1="230.7" x2="380.5" y2="230.7" stroke="#7c7c7c" stroke-width="1"/>
<text x="373.6" y="232.9" font-size="6.2" text-anchor="end" fill="#2a2a2a">2</text>
<line x1="377" y1="180.9" x2="380.5" y2="180.9" stroke="#7c7c7c" stroke-width="1"/>
<text x="373.6" y="183.1" font-size="6.2" text-anchor="end" fill="#2a2a2a">4</text>
<line x1="377" y1="131.2" x2="380.5" y2="131.2" stroke="#7c7c7c" stroke-width="1"/>
<text x="373.6" y="133.4" font-size="6.2" text-anchor="end" fill="#2a2a2a">6</text>
<line x1="377" y1="81.4" x2="380.5" y2="81.4" stroke="#7c7c7c" stroke-width="1"/>
<text x="373.6" y="83.6" font-size="6.2" text-anchor="end" fill="#2a2a2a">8</text>
<line x1="377" y1="31.6" x2="380.5" y2="31.6" stroke="#7c7c7c" stroke-width="1"/>
<text x="373.6" y="33.8" font-size="6.2" text-anchor="end" fill="#2a2a2a">10</text>
<line x1="386.4" y1="288.5" x2="386.4" y2="292.8" stroke="#8e8e8e" stroke-width="1"/>
<text x="386.4" y="302.1" font-size="5.8" text-anchor="middle" fill="#2a2a2a">0</text>
<line x1="415.4" y1="288.5" x2="415.4" y2="292.8" stroke="#8e8e8e" stroke-width="1"/>
<text x="415.4" y="302.1" font-size="5.8" text-anchor="middle" fill="#2a2a2a">1</text>
<line x1="444.5" y1="288.5" x2="444.5" y2="292.8" stroke="#8e8e8e" stroke-width="1"/>
<text x="444.5" y="302.1" font-size="5.8" text-anchor="middle" fill="#2a2a2a">2</text>
<line x1="473.5" y1="288.5" x2="473.5" y2="292.8" stroke="#8e8e8e" stroke-width="1"/>
<text x="473.5" y="302.1" font-size="5.8" text-anchor="middle" fill="#2a2a2a">3</text>
<line x1="502.6" y1="288.5" x2="502.6" y2="292.8" stroke="#8e8e8e" stroke-width="1"/>
<text x="502.6" y="302.1" font-size="5.8" text-anchor="middle" fill="#2a2a2a">4</text>
<line x1="531.6" y1="288.5" x2="531.6" y2="292.8" stroke="#8e8e8e" stroke-width="1"/>
<text x="531.6" y="302.1" font-size="5.8" text-anchor="middle" fill="#2a2a2a">5</text>
<line x1="560.7" y1="288.5" x2="560.7" y2="292.8" stroke="#8e8e8e" stroke-width="1"/>
<text x="560.7" y="302.1" font-size="5.8" text-anchor="middle" fill="#2a2a2a">6</text>
<line x1="589.8" y1="288.5" x2="589.8" y2="292.8" stroke="#8e8e8e" stroke-width="1"/>
<text x="589.8" y="302.1" font-size="5.8" text-anchor="middle" fill="#2a2a2a">7</text>
<line x1="618.8" y1="288.5" x2="618.8" y2="292.8" stroke="#8e8e8e" stroke-width="1"/>
<text x="618.8" y="302.1" font-size="5.8" text-anchor="middle" fill="#2a2a2a">8</text>
<line x1="647.8" y1="288.5" x2="647.8" y2="292.8" stroke="#8e8e8e" stroke-width="1"/>
<text x="647.8" y="302.1" font-size="5.8" text-anchor="middle" fill="#2a2a2a">9</text>
<line x1="676.9" y1="288.5" x2="676.9" y2="292.8" stroke="#8e8e8e" stroke-width="1"/>
<text x="676.9" y="302.1" font-size="5.8" text-anchor="middle" fill="#2a2a2a">10</text>
<text x="479.6" y="258.2" font-size="6.3" fill="#333">Lambda = 0.977</text>
<g clip-path="url(#cm2)">
<path d="M40.0,629.0L40.0,571.2L40.5,571.0L41.0,571.7L41.5,570.1L42.0,568.2L42.5,567.9L43.0,566.8L43.5,564.1L44.0,566.0L44.5,570.1L45.1,569.0L45.6,567.9L46.1,566.9L46.6,565.4L47.1,569.5L47.6,570.6L48.1,569.7L48.6,566.9L49.1,565.8L49.6,567.3L50.1,568.9L50.6,566.6L51.1,566.3L51.6,565.7L52.1,565.0L52.6,565.5L53.1,564.8L53.7,562.9L54.2,564.0L54.7,566.3L55.2,567.8L55.7,563.4L56.2,561.1L56.7,564.2L57.2,565.9L57.7,564.4L58.2,564.5L58.2,629.0Z" fill="#0000ff"/>
<path d="M42.5,570.8h0M47.0,576.6h0M52.2,571.0h0M43.6,574.0h0M45.4,571.6h0M52.9,565.2h0M48.3,571.0h0M40.7,572.2h0M45.8,568.2h0M51.3,567.2h0M41.8,577.8h0M57.1,567.0h0M47.7,571.0h0M50.2,572.9h0M41.1,574.7h0M52.6,572.3h0M52.0,575.2h0M56.6,571.8h0M46.7,583.5h0M44.2,573.9h0M56.2,570.4h0M52.8,567.5h0M52.1,568.7h0M44.2,579.4h0M51.9,568.6h0M45.5,584.7h0M44.2,567.3h0M56.0,578.7h0M45.8,569.9h0M45.6,571.1h0M45.6,569.9h0" stroke="#fff" stroke-width="1.1" stroke-linecap="round" fill="none"/>
<path d="M53.7,554.7h0M54.0,563.6h0M51.0,515.0h0M55.9,543.3h0M52.5,553.6h0M49.0,550.1h0M43.9,536.7h0M46.5,552.8h0M42.0,545.0h0M47.5,558.0h0M45.5,560.0h0M42.6,536.9h0M47.4,543.5h0M47.1,562.6h0M53.8,563.7h0M50.6,563.3h0M55.6,560.8h0M54.4,543.1h0M43.2,561.1h0M44.5,533.2h0M41.5,526.3h0M52.5,563.2h0M47.7,558.7h0M55.7,559.9h0M55.3,557.1h0M55.5,554.0h0M55.4,556.5h0M55.8,558.3h0M56.0,541.5h0M50.7,546.1h0M49.3,564.9h0M46.4,553.1h0M53.8,545.3h0M55.3,561.3h0M42.2,538.5h0M46.2,557.1h0M52.4,535.2h0M46.5,556.4h0M55.4,547.4h0M46.7,543.3h0M46.4,560.6h0M54.0,552.9h0M46.7,558.3h0M43.2,564.8h0M50.9,561.0h0M46.8,514.8h0M42.3,561.6h0M53.9,559.1h0M55.7,543.0h0M44.2,554.2h0M49.7,553.4h0M46.9,528.2h0M55.5,554.7h0M43.5,564.7h0M55.7,537.5h0M52.4,558.1h0M56.8,546.5h0M46.5,566.3h0M55.7,557.9h0M53.9,561.4h0M54.2,536.0h0M52.2,565.0h0M46.5,557.9h0M52.6,540.8h0M46.5,532.2h0M50.8,558.7h0M48.7,539.3h0M46.7,544.3h0M54.1,565.0h0M50.6,556.2h0M53.8,544.7h0M43.2,558.3h0M46.6,555.8h0M43.2,567.9h0M54.1,552.3h0M47.7,548.3h0M44.1,557.5h0M54.0,557.8h0M46.6,528.7h0M46.7,552.0h0M51.9,553.3h0M44.3,546.5h0M53.2,555.4h0M52.6,520.3h0M46.6,549.4h0M55.6,557.7h0M54.0,563.9h0M56.9,561.3h0M50.5,561.1h0M44.1,528.3h0M43.8,546.6h0M47.2,555.9h0M44.0,552.7h0M45.2,550.8h0M53.3,555.3h0M44.0,541.8h0M45.4,558.8h0M44.8,566.6h0M42.5,531.5h0M43.7,563.2h0M54.4,528.0h0M42.1,566.2h0M53.9,546.5h0M47.7,533.9h0M46.5,561.6h0M47.7,543.7h0M52.4,522.7h0M42.1,539.7h0M54.4,562.7h0M47.8,565.2h0M53.9,558.6h0M47.7,555.9h0M41.8,569.5h0M55.5,556.9h0M52.3,559.4h0M55.3,556.8h0M52.1,549.4h0M55.5,560.8h0M46.7,548.5h0M43.7,566.7h0M44.0,553.2h0M51.7,564.5h0M42.2,569.6h0M48.3,557.2h0M55.7,523.7h0M42.0,562.8h0M46.9,557.6h0M50.7,545.9h0M50.8,543.0h0M45.3,557.8h0M55.7,537.4h0M47.9,553.9h0M53.5,562.4h0M47.4,547.5h0M48.3,567.7h0M55.2,555.1h0M46.7,551.5h0M54.1,524.0h0M47.7,532.0h0M48.1,540.3h0M52.1,515.0h0M46.4,553.3h0M46.1,551.5h0M42.0,541.1h0M52.6,539.6h0M47.8,562.8h0M46.9,536.4h0M43.6,561.6h0M47.0,564.3h0M48.8,546.9h0M47.9,568.0h0M54.0,535.4h0M48.0,540.2h0M51.4,563.4h0M50.7,548.0h0M47.7,553.1h0M50.9,522.6h0M47.8,548.0h0M41.5,552.7h0M47.7,557.4h0M43.7,549.0h0M55.5,549.4h0M55.3,554.8h0M54.1,542.1h0M46.6,550.9h0M48.0,534.8h0M48.9,560.4h0M53.1,559.3h0M48.5,531.5h0M52.1,564.4h0M43.5,545.2h0M51.0,554.5h0M48.8,565.1h0M48.0,545.3h0M44.9,563.4h0M43.1,529.5h0M46.9,558.6h0M53.8,557.7h0M43.6,556.2h0M44.1,560.2h0M48.0,562.9h0M42.4,535.3h0M51.5,538.9h0M47.8,546.5h0M47.0,548.8h0M46.4,540.0h0M43.2,515.9h0M46.6,555.0h0M51.3,558.8h0M54.0,563.5h0M47.9,567.0h0M54.2,554.6h0M46.9,559.2h0M50.5,554.9h0M55.6,558.8h0M52.0,551.9h0M42.0,562.4h0M50.7,557.6h0M43.6,566.1h0M47.5,547.4h0M52.7,543.2h0M42.2,559.3h0M52.7,531.6h0M55.9,507.8h0M43.8,540.5h0M57.0,553.5h0M41.5,570.6h0M52.5,533.2h0M52.2,548.4h0M55.7,516.8h0M43.9,559.7h0M51.0,528.1h0M44.0,555.7h0M43.7,565.6h0M51.6,560.4h0M44.2,541.4h0M53.9,548.0h0M43.9,559.6h0M44.0,561.7h0M52.4,554.4h0M52.4,552.0h0M52.4,562.3h0M50.6,533.0h0M57.1,559.7h0M52.2,509.4h0M44.0,540.7h0M55.5,517.4h0M53.9,558.6h0M44.0,564.0h0M47.9,566.8h0M43.6,527.4h0M51.9,553.5h0M42.0,536.9h0M42.2,563.8h0M52.4,565.1h0M55.1,556.4h0M55.2,543.0h0M42.1,557.7h0M48.1,568.8h0M43.9,519.0h0M52.5,535.5h0M44.0,523.6h0M51.1,537.6h0M44.0,537.2h0M51.0,559.6h0M54.3,564.4h0M57.5,542.3h0M48.5,565.1h0M44.1,562.1h0M51.3,544.8h0M42.0,550.5h0M42.8,564.4h0M50.6,535.6h0M48.2,567.8h0M50.7,562.0h0M55.9,560.7h0M55.7,555.4h0M42.0,550.2h0M55.7,540.1h0M42.1,566.2h0M55.3,542.8h0M46.7,555.4h0M47.7,555.6h0M54.1,546.7h0M43.6,541.0h0M55.8,553.1h0M43.5,560.6h0M41.0,567.0h0M47.1,563.0h0M46.8,552.5h0M47.8,566.0h0M43.7,544.8h0M46.6,559.8h0M43.8,527.6h0M47.9,556.3h0M46.7,537.1h0M42.0,567.3h0M55.4,549.6h0M50.9,537.9h0M42.2,562.8h0M51.1,560.4h0M53.9,512.1h0M50.9,532.6h0M45.0,517.1h0M47.9,551.3h0M44.1,561.3h0M46.5,511.6h0M43.5,541.9h0M52.2,563.9h0M46.9,558.1h0M55.3,561.4h0M41.5,547.1h0M55.6,511.1h0M55.3,562.1h0M42.2,551.9h0M46.5,563.4h0M42.0,563.1h0M46.8,539.6h0M46.9,544.4h0M53.9,552.7h0M43.8,538.1h0M51.1,560.9h0M55.5,552.3h0M45.4,535.3h0M47.6,563.2h0M50.8,549.1h0M42.0,556.3h0M50.7,566.3h0M48.1,557.8h0M48.0,556.5h0M52.5,543.8h0M46.7,557.8h0M52.4,517.0h0M45.4,565.0h0M46.4,551.7h0M55.5,542.5h0M42.3,557.4h0M52.3,514.6h0M52.1,562.1h0M46.7,552.0h0M54.3,551.4h0M43.9,562.2h0M42.1,568.1h0M43.8,561.5h0M47.2,566.1h0M52.5,562.5h0M50.8,552.9h0" stroke="#0000ff" stroke-width="1.70" stroke-linecap="round" fill="none"/>
<path d="M48.7,504.2h0M54.7,506.1h0M50.4,513.9h0" stroke="#0000ff" stroke-width="2.20" stroke-linecap="round" fill="none"/>
<path d="M58.2,629.0L58.2,572.4L58.7,569.8L59.2,572.0L59.7,570.6L60.2,571.3L60.7,574.1L61.2,573.3L61.7,572.5L62.3,573.2L62.8,576.7L63.3,576.0L63.8,571.5L64.3,569.0L64.8,571.2L65.3,572.4L65.8,572.4L66.3,570.8L66.8,570.4L67.3,568.2L67.8,565.6L68.3,565.3L68.8,560.7L69.3,556.5L69.8,555.6L70.4,552.9L70.9,551.7L71.4,551.7L71.9,550.1L72.4,551.6L72.9,554.1L73.4,554.2L73.9,553.6L73.9,629.0Z" fill="#7f7f7f"/>
<path d="M66.7,573.1h0M71.7,559.5h0M71.5,557.5h0M64.2,575.7h0M71.0,553.1h0M62.1,578.3h0M67.6,575.4h0M62.8,589.0h0M61.2,581.1h0M63.1,581.6h0M60.8,576.7h0M58.8,584.1h0M67.2,570.0h0M60.8,572.8h0M73.4,554.2h0M72.5,560.1h0M70.3,555.8h0M72.6,557.4h0M66.3,572.8h0M60.6,577.8h0M59.6,580.7h0M63.5,587.5h0M67.6,566.5h0M62.0,575.0h0M64.9,580.7h0M66.6,576.6h0" stroke="#fff" stroke-width="1.1" stroke-linecap="round" fill="none"/>
<path d="M68.2,550.1h0M70.6,546.3h0M60.9,545.0h0M68.2,553.0h0M68.1,546.1h0M62.7,566.3h0M65.5,569.7h0M72.1,506.8h0M64.9,567.7h0M65.5,564.9h0M62.5,558.6h0M68.7,503.9h0M65.3,571.4h0M70.4,507.1h0M67.6,548.5h0M60.2,548.0h0M63.9,546.8h0M68.2,561.4h0M62.9,548.1h0M68.2,562.2h0M60.4,552.1h0M70.6,545.1h0M62.4,563.7h0M60.2,544.8h0M62.1,547.1h0M62.2,546.0h0M60.0,568.0h0M65.4,552.4h0M62.4,572.8h0M60.3,555.6h0M65.1,533.9h0M69.2,543.5h0M60.0,561.9h0M68.0,554.3h0M67.7,560.3h0M62.5,552.7h0M59.5,542.6h0M70.6,530.8h0M70.1,510.4h0M68.1,547.4h0M60.4,536.3h0M70.3,536.6h0M60.1,552.6h0M59.6,548.0h0M62.5,568.0h0M60.2,565.2h0M70.7,535.1h0M68.0,531.5h0M65.0,564.2h0M70.5,510.1h0M62.6,566.8h0M70.6,541.5h0M68.0,551.5h0M62.7,566.1h0M70.6,542.4h0M60.0,549.8h0M67.8,553.6h0M70.6,506.6h0M65.1,563.7h0M65.7,560.4h0M60.3,565.1h0M60.4,567.5h0M70.6,544.6h0M70.7,548.4h0M65.3,562.4h0M67.6,560.0h0M72.4,540.4h0M70.7,499.8h0M60.8,535.3h0M71.0,537.0h0M70.5,528.2h0M68.4,519.5h0M62.6,567.8h0M62.4,573.0h0M60.5,562.1h0M70.0,532.7h0M71.1,534.1h0M60.5,540.8h0M64.9,537.8h0M65.1,550.3h0M70.5,535.1h0M70.8,542.8h0M60.4,562.9h0M59.0,567.8h0M68.5,542.4h0M65.3,557.9h0M70.0,533.5h0M72.6,547.7h0M65.1,564.2h0M60.6,560.0h0M64.9,566.7h0M65.3,555.8h0M60.0,565.7h0M70.3,530.1h0M60.2,567.6h0M60.3,569.0h0M70.4,531.5h0M62.0,570.4h0M62.2,569.7h0M68.0,509.1h0M63.5,571.8h0M59.8,568.0h0M65.4,557.3h0M64.0,570.2h0M65.1,568.8h0M68.0,561.3h0M65.2,527.4h0M60.0,545.4h0M70.5,520.8h0M60.2,540.4h0M67.8,565.0h0M70.4,518.4h0M65.3,566.7h0M60.4,568.7h0M62.9,576.2h0M71.6,504.4h0M62.3,569.7h0M62.4,571.2h0M60.0,558.9h0M60.2,551.3h0M65.0,538.5h0M62.4,560.9h0M60.3,569.0h0M62.5,552.7h0M65.6,551.0h0M70.5,540.8h0M70.6,527.7h0M61.8,572.2h0M62.4,547.0h0M65.4,550.1h0M59.6,531.3h0M62.2,562.0h0M64.0,542.6h0M65.3,539.3h0M62.2,562.6h0M68.1,563.0h0M60.4,567.1h0M67.8,560.7h0M67.5,563.3h0M60.1,526.2h0M59.4,569.3h0M64.9,537.1h0M60.0,572.0h0M63.8,556.5h0M60.4,565.6h0M63.5,565.2h0M70.8,544.5h0M60.6,561.5h0M70.5,521.6h0M65.5,559.2h0M60.2,555.5h0M60.2,553.2h0M62.5,557.5h0M70.5,526.3h0M60.4,552.1h0M73.1,553.5h0M66.2,559.7h0M60.3,557.6h0M60.1,540.1h0M62.3,559.2h0M60.3,516.2h0M70.8,523.6h0M60.3,566.4h0M65.3,539.2h0M62.6,571.0h0M60.1,570.0h0M70.7,548.5h0M60.3,535.1h0M65.3,572.2h0M70.6,524.1h0M68.4,540.5h0M60.5,564.2h0M67.9,548.1h0M67.8,547.8h0M60.4,569.7h0M62.3,556.3h0M65.6,567.4h0M68.4,543.6h0M66.8,550.4h0M65.2,567.3h0M68.1,562.4h0M65.1,555.6h0M65.4,569.0h0M62.2,570.8h0M62.3,561.5h0M68.1,541.0h0M60.1,552.1h0M67.5,541.2h0M65.3,554.5h0M70.6,531.7h0M62.2,557.5h0M60.0,570.1h0M63.0,544.3h0M64.2,568.7h0M65.1,565.7h0M60.7,541.3h0M59.9,540.9h0M67.9,559.6h0M70.6,526.7h0M62.4,559.9h0M70.7,545.5h0M67.4,552.5h0M62.6,565.5h0M67.8,550.2h0M62.6,549.3h0M70.3,527.4h0M70.5,551.6h0M72.0,527.3h0M62.0,565.3h0M65.4,570.9h0M60.4,564.1h0M65.2,567.0h0M64.4,563.4h0M67.8,537.8h0M67.8,565.2h0M68.1,544.5h0M60.6,569.6h0M67.4,566.7h0M68.4,547.1h0M60.2,562.2h0M70.5,514.9h0M62.2,567.0h0M60.1,542.0h0M70.3,542.0h0M65.2,571.4h0M65.3,561.1h0M62.4,571.4h0M60.3,563.2h0M60.4,560.9h0M60.0,531.5h0M64.4,567.7h0M68.1,528.6h0M62.4,571.9h0M62.6,570.3h0M68.3,543.3h0M68.1,549.1h0M70.3,547.4h0M60.6,560.8h0M68.6,554.0h0M66.9,536.8h0M60.2,549.5h0M67.8,563.9h0M71.0,513.5h0M67.6,545.6h0M65.4,566.7h0M65.1,558.6h0M60.5,543.7h0M71.5,529.2h0M64.0,547.5h0M61.3,548.3h0M65.2,556.2h0M64.8,543.4h0M65.6,566.9h0M62.7,566.1h0M70.8,488.2h0M70.8,538.2h0M65.1,562.7h0M70.9,537.9h0M67.8,563.8h0M65.5,568.3h0M60.5,567.8h0M62.1,569.7h0M61.9,572.1h0M60.1,559.7h0M60.6,567.4h0M65.1,563.6h0M67.2,555.0h0M67.9,563.1h0M65.2,560.8h0M67.8,545.2h0M60.2,566.3h0M65.8,537.8h0M60.2,569.4h0M65.4,561.4h0M62.3,561.6h0M60.3,558.5h0M63.5,566.5h0M67.9,558.2h0M62.2,568.0h0M62.3,553.4h0M65.0,552.4h0M67.9,555.7h0" stroke="#7f7f7f" stroke-width="1.53" stroke-linecap="round" fill="none"/>
<path d="M72.4,509.4h0" stroke="#505050" stroke-width="1.70" stroke-linecap="round" fill="none"/>
<path d="M73.9,629.0L73.9,557.9L74.4,554.9L74.9,553.8L75.4,553.0L75.9,556.4L76.4,554.7L76.9,554.5L77.4,554.3L77.9,557.9L78.4,555.5L78.9,555.2L79.4,552.0L79.9,551.9L80.4,553.9L80.9,553.6L81.4,554.2L81.9,550.6L82.4,549.4L82.9,547.6L83.4,548.8L83.9,547.6L84.4,552.1L84.9,553.8L85.4,553.5L85.9,554.4L86.4,554.8L86.9,553.7L87.4,555.5L87.9,558.0L87.9,629.0Z" fill="#ff8000"/>
<path d="M79.5,552.1h0M78.0,561.3h0M79.6,566.3h0M86.7,567.5h0M85.5,558.9h0M74.9,556.2h0M79.0,567.8h0M76.2,562.0h0M76.2,562.3h0M77.8,557.6h0M82.2,557.9h0M74.5,558.3h0M83.3,551.4h0M84.3,556.4h0M80.2,571.0h0M76.1,559.0h0M78.3,561.9h0M82.9,548.8h0M80.3,562.8h0M78.8,557.8h0M86.1,560.8h0M77.3,555.5h0" stroke="#fff" stroke-width="1.1" stroke-linecap="round" fill="none"/>
<path d="M83.6,539.7h0M79.3,547.2h0M80.6,499.2h0M86.6,546.4h0M78.3,528.6h0M80.9,549.4h0M83.9,548.1h0M80.7,553.4h0M79.7,546.4h0M78.2,528.2h0M85.3,548.9h0M77.7,532.8h0M84.0,514.4h0M82.2,529.1h0M78.0,526.0h0M86.5,552.8h0M82.2,543.4h0M76.5,548.4h0M75.2,544.0h0M84.8,544.1h0M82.3,549.2h0M74.8,545.0h0M77.5,530.5h0M84.0,528.2h0M83.9,548.6h0M80.1,526.2h0M83.4,535.4h0M86.8,545.6h0M87.0,543.9h0M80.0,548.7h0M80.7,547.5h0M80.6,550.5h0M78.0,543.7h0M84.1,548.2h0M85.1,550.8h0M80.7,553.0h0M81.3,548.2h0M77.9,534.1h0M74.8,529.2h0M77.5,544.0h0M85.1,542.7h0M81.0,553.0h0M80.8,551.4h0M83.8,513.1h0M82.4,541.4h0M85.0,543.5h0M85.0,550.9h0M79.4,550.8h0M86.8,555.4h0M84.0,527.5h0M83.9,549.4h0M85.1,548.1h0M83.2,545.5h0M87.1,538.9h0M80.5,547.2h0M82.1,532.5h0M82.1,534.4h0M86.9,530.7h0M78.1,553.0h0M86.7,554.8h0M83.7,535.2h0M86.9,513.3h0M74.8,554.1h0M86.1,546.5h0M86.5,543.8h0M81.8,525.1h0M84.6,532.2h0M83.9,539.7h0M84.9,531.3h0M83.8,546.6h0M78.3,556.5h0M85.3,518.2h0M75.1,534.7h0M78.5,537.4h0M80.8,552.3h0M75.3,507.3h0M78.1,545.8h0M75.3,533.0h0M85.4,531.9h0M83.6,529.5h0M80.6,540.8h0M76.2,544.4h0M76.1,549.5h0M78.0,543.8h0" stroke="#ff8000" stroke-width="1.61" stroke-linecap="round" fill="none"/>
<path d="M79.1,493.3h0M79.1,515.4h0M79.1,517.6h0" stroke="#f07c10" stroke-width="2.10" stroke-linecap="round" fill="none"/>
<path d="M87.9,629.0L87.9,562.0L88.4,561.7L88.9,563.9L89.4,565.8L89.9,569.0L90.4,569.4L90.9,567.6L91.4,570.8L91.9,570.7L92.4,569.4L92.9,564.8L93.4,565.9L93.9,566.7L94.4,565.2L94.9,563.0L95.4,562.6L95.9,562.1L96.4,561.2L96.9,562.1L97.4,561.5L97.9,563.4L98.4,566.2L98.9,566.0L99.4,564.4L99.9,563.5L100.4,562.4L100.9,563.0L101.4,566.4L101.9,567.0L101.9,629.0Z" fill="#0000ff"/>
<path d="M95.2,571.8h0M96.9,565.5h0M97.8,566.4h0M91.2,572.2h0M89.7,579.2h0M101.1,567.3h0M89.1,569.1h0M98.5,577.7h0M93.7,572.9h0M98.1,568.8h0M88.7,575.3h0M95.2,572.1h0M94.4,565.4h0M100.7,571.8h0M97.8,566.7h0M99.1,572.7h0M91.2,570.2h0M92.5,577.0h0M101.3,570.3h0M90.5,576.3h0M96.5,562.2h0M89.6,576.4h0M95.5,568.5h0M96.4,566.4h0" stroke="#fff" stroke-width="1.1" stroke-linecap="round" fill="none"/>
<path d="M93.4,560.0h0M93.9,558.6h0M90.1,545.6h0M97.5,548.2h0M98.9,541.2h0M99.4,558.6h0M91.8,541.9h0M90.1,544.0h0M93.4,547.2h0M93.1,537.8h0M99.3,553.7h0M97.2,554.4h0M99.1,562.0h0M92.9,545.5h0M99.5,560.1h0M93.1,549.7h0M88.8,538.1h0M92.0,563.8h0M91.5,557.3h0M90.3,552.8h0M99.1,546.0h0M88.6,545.2h0M88.8,556.3h0M99.1,550.4h0M89.7,538.0h0M90.2,512.6h0M96.3,506.9h0M99.9,545.8h0M96.0,528.7h0M97.4,560.6h0M92.1,546.3h0M99.1,563.1h0M96.1,557.9h0M89.1,544.7h0M90.1,535.6h0M99.6,563.3h0M94.3,520.6h0M99.1,538.5h0M99.2,543.3h0M93.1,555.5h0M96.4,557.4h0M93.4,560.0h0M99.6,563.0h0M89.1,554.6h0M92.7,562.6h0M97.0,556.8h0M92.2,548.0h0M89.1,553.7h0M89.9,560.6h0M97.0,561.0h0M93.2,522.0h0M94.2,560.0h0M97.3,555.1h0M94.1,562.7h0M93.4,538.1h0M98.9,557.0h0M99.5,558.6h0M90.0,564.4h0M96.2,530.8h0M96.4,553.5h0M92.1,562.5h0M97.5,539.5h0M99.6,537.1h0M100.0,557.5h0M89.9,530.2h0M96.6,555.3h0M88.8,554.9h0M96.5,557.2h0M100.6,538.8h0M90.1,559.2h0M97.4,559.0h0M96.8,543.6h0M97.4,552.8h0M92.3,550.0h0M92.2,528.0h0M97.0,551.1h0M95.9,528.9h0M93.8,555.5h0M92.1,564.8h0M91.9,542.6h0M88.9,505.4h0M93.5,562.7h0M92.7,561.7h0M92.2,548.4h0M92.6,539.9h0M96.1,559.1h0M96.6,535.0h0M90.0,549.2h0M89.7,562.2h0M92.4,561.8h0M99.3,561.0h0M93.6,511.0h0M97.4,563.1h0M96.1,558.4h0M93.4,555.6h0M96.1,504.1h0M93.5,564.5h0M93.7,533.0h0M93.4,556.5h0M98.8,551.5h0M91.8,556.8h0M96.5,539.5h0M96.8,519.5h0M89.9,504.7h0M90.5,566.4h0M96.9,538.9h0M96.3,557.7h0M99.2,540.7h0M99.6,550.6h0M90.0,541.0h0M88.7,549.3h0M96.3,522.2h0M91.9,567.0h0M98.7,565.6h0M92.3,565.8h0M92.0,559.8h0M89.5,561.3h0M99.3,512.5h0M97.0,552.4h0M99.4,534.8h0M96.3,549.2h0M90.7,530.0h0M93.1,547.8h0M97.4,542.9h0M90.4,568.3h0M99.6,561.4h0M99.3,543.1h0M97.2,552.4h0M93.0,559.3h0M95.2,542.8h0M92.0,553.7h0M91.9,567.3h0M99.1,544.7h0M93.4,528.8h0M93.2,553.2h0M98.6,554.4h0M93.3,524.9h0M96.6,561.8h0M99.2,559.4h0M92.0,546.9h0M89.0,558.0h0M92.2,559.3h0M93.2,539.1h0M90.2,519.5h0M90.6,558.3h0M89.7,536.9h0M96.3,553.0h0M96.6,519.3h0M90.1,563.8h0M99.9,528.0h0M92.9,558.7h0M96.6,546.7h0M99.2,556.2h0M93.0,532.4h0M97.4,547.1h0M90.6,528.5h0M89.9,553.9h0M96.6,552.5h0M89.9,535.8h0M93.1,559.6h0M93.0,551.8h0M99.2,552.3h0M92.8,532.0h0M97.5,559.0h0M96.6,551.6h0M95.9,541.5h0M89.0,554.4h0M99.3,533.0h0M89.1,530.6h0M97.3,535.2h0M90.2,566.8h0M97.4,537.6h0M96.3,532.4h0M96.2,510.7h0M97.6,530.5h0M93.2,549.2h0M89.1,533.7h0M96.3,552.9h0M100.4,553.4h0M90.9,562.3h0M94.6,561.1h0M97.5,561.1h0M93.2,556.7h0M96.5,561.2h0M88.7,558.0h0M99.4,552.1h0M90.5,548.8h0M88.8,545.4h0M93.3,557.2h0M88.7,555.1h0M93.1,528.4h0M96.6,552.0h0M92.8,567.8h0M96.3,534.0h0M96.3,558.0h0M91.2,515.7h0M90.0,559.9h0M91.7,552.5h0M97.6,513.8h0M96.6,558.0h0M97.5,555.6h0M99.2,533.4h0M92.2,529.5h0M88.9,552.5h0M97.7,529.8h0M93.2,505.1h0M89.4,558.7h0M91.0,534.1h0M92.2,546.7h0M92.4,565.6h0M90.2,542.3h0M95.5,553.8h0M99.4,539.6h0M101.0,563.3h0M91.6,516.3h0M92.3,537.6h0M89.9,560.5h0M99.5,556.6h0M96.7,556.8h0M99.3,543.1h0M97.1,561.2h0M96.2,552.8h0M96.5,557.4h0M96.6,531.4h0M99.4,523.6h0M96.2,558.2h0M96.6,556.2h0M92.3,552.6h0M93.8,564.7h0M99.7,546.6h0M90.2,556.7h0M97.6,563.2h0M89.1,506.8h0M92.2,518.3h0M88.8,559.6h0M99.5,541.2h0M94.9,560.2h0M93.2,524.8h0M96.3,550.8h0M91.5,549.9h0M96.4,523.9h0M96.5,560.1h0M88.9,527.5h0M89.0,560.1h0M91.9,563.6h0M89.9,552.7h0M92.3,530.3h0M93.1,525.9h0M93.8,546.7h0M99.7,547.8h0M89.2,554.3h0M96.3,553.3h0" stroke="#0000ff" stroke-width="1.70" stroke-linecap="round" fill="none"/>
<path d="M90.0,504.2h0M90.0,507.2h0M101.7,514.6h0" stroke="#0000ff" stroke-width="2.20" stroke-linecap="round" fill="none"/>
<path d="M101.9,629.0L101.9,549.4L102.4,551.0L102.9,551.3L103.4,550.2L103.9,550.7L104.4,553.2L104.9,550.3L105.4,553.8L105.9,553.4L106.4,554.7L106.9,552.5L107.4,553.0L107.9,551.5L108.4,552.4L109.0,549.1L109.5,550.1L110.0,548.0L110.5,550.6L111.0,550.4L111.5,550.9L112.0,553.4L112.5,551.0L113.0,553.3L113.5,549.4L114.0,546.3L114.5,545.5L115.0,547.3L115.5,549.6L115.5,629.0Z" fill="#7f7f7f"/>
<path d="M114.9,554.2h0M103.5,565.9h0M102.9,553.3h0M103.2,552.1h0M110.1,551.8h0M103.3,552.7h0M108.3,553.0h0M109.6,551.5h0M111.2,555.3h0M114.6,547.9h0M112.1,561.1h0M110.4,550.8h0M105.8,557.6h0M102.8,551.1h0M111.6,556.5h0M112.3,552.3h0M106.9,568.8h0M103.8,551.2h0M109.4,554.7h0M110.8,555.4h0M105.5,554.5h0" stroke="#fff" stroke-width="1.1" stroke-linecap="round" fill="none"/>
<path d="M112.5,533.1h0M105.2,538.0h0M104.4,532.6h0M114.5,536.9h0M108.0,527.8h0M104.6,545.5h0M104.6,517.1h0M111.0,514.5h0M103.2,539.7h0M104.8,498.9h0M106.8,548.5h0M112.4,550.6h0M107.0,539.8h0M114.4,543.2h0M107.0,542.2h0M114.5,527.6h0M102.8,544.1h0M114.4,542.2h0M112.9,537.0h0M106.8,552.3h0M111.2,544.1h0M104.4,528.0h0M108.1,515.9h0M108.0,544.9h0M102.7,489.0h0M102.7,503.5h0M114.0,530.1h0M114.2,534.0h0M107.8,530.2h0M108.2,549.2h0M112.8,544.0h0M107.9,507.5h0M111.8,544.6h0M102.7,501.9h0M114.7,545.7h0M111.4,535.7h0M104.7,537.3h0M111.7,524.5h0M111.6,547.9h0M107.1,548.0h0M107.6,549.2h0M102.9,490.3h0M104.7,535.4h0M112.8,549.7h0M111.8,552.1h0M111.5,550.5h0M108.7,535.5h0M112.9,543.2h0M108.6,550.8h0M103.8,532.3h0M114.4,534.6h0M103.7,497.4h0M112.6,534.0h0M111.5,547.3h0M104.6,518.1h0M111.8,536.0h0M114.5,534.5h0M112.6,541.7h0M102.9,549.7h0M104.4,533.8h0M111.0,501.8h0M108.2,527.2h0M103.0,551.0h0M113.4,545.7h0M106.5,508.9h0M111.6,546.8h0M108.8,493.3h0M113.8,531.6h0M113.1,516.0h0M111.0,531.6h0M114.2,521.7h0M106.5,546.5h0M107.2,532.6h0M109.3,502.4h0M114.8,543.4h0M107.3,503.9h0M112.7,550.4h0M111.6,504.6h0M106.7,553.4h0M114.2,537.4h0M108.3,545.1h0M112.6,541.3h0M104.6,546.8h0M105.9,539.7h0M107.1,548.3h0M104.7,527.2h0M112.7,547.8h0M114.4,539.8h0M111.3,547.6h0M104.5,539.7h0M108.2,500.5h0M107.9,549.9h0M102.8,540.9h0M108.3,544.4h0M111.5,552.4h0M113.2,526.1h0M104.5,547.5h0M110.5,526.5h0M112.7,519.8h0M103.8,537.1h0M104.5,549.1h0M104.3,534.4h0M108.0,528.4h0M108.5,541.6h0M108.7,542.4h0M114.1,543.8h0M112.4,552.8h0M107.4,541.8h0M112.5,521.6h0M102.7,541.6h0M104.7,541.1h0M114.3,536.7h0M112.7,541.1h0M104.9,550.0h0M114.0,528.1h0M103.0,537.1h0M112.6,552.2h0M108.9,500.2h0M108.4,545.0h0M107.9,535.8h0M108.9,547.4h0M112.1,526.8h0M104.3,546.0h0M103.2,547.6h0M112.8,553.0h0M112.6,549.8h0M106.7,526.1h0M108.1,546.7h0M114.2,535.3h0M111.3,536.9h0M103.5,504.6h0M112.2,534.6h0M104.5,538.0h0M108.2,534.1h0M106.9,522.8h0M104.4,542.3h0M104.7,537.1h0M114.3,494.4h0M111.2,549.6h0M113.6,503.0h0M114.4,540.2h0M111.3,512.4h0M112.8,549.1h0M106.9,551.4h0M114.0,529.6h0M112.5,536.9h0M106.7,540.9h0M113.9,545.1h0M108.0,522.2h0M113.9,513.5h0M110.0,542.3h0M106.7,546.6h0M106.3,547.0h0M107.1,532.9h0M105.1,553.0h0M112.9,545.4h0M103.0,544.2h0M111.2,519.2h0M107.5,538.2h0M106.7,509.6h0M104.8,532.3h0M114.5,546.9h0M112.3,552.8h0M111.5,535.9h0M111.0,503.5h0M103.4,528.9h0M104.5,548.4h0M114.0,534.0h0M104.6,543.2h0M108.6,539.4h0M107.0,522.8h0M110.2,537.6h0M103.0,543.8h0M103.1,492.6h0M114.3,529.3h0M104.7,552.4h0M104.9,510.7h0M107.1,545.3h0M106.8,544.1h0M103.2,486.0h0M111.3,541.4h0M114.1,494.8h0M104.5,540.1h0M111.4,521.1h0M102.8,531.1h0M110.0,519.8h0M113.1,506.2h0M111.0,533.8h0M106.9,552.8h0M102.9,496.2h0M114.2,535.6h0M103.0,540.2h0M105.2,541.8h0M107.0,534.4h0M111.2,535.4h0M114.4,539.2h0M104.3,539.0h0M113.7,535.5h0M108.4,547.4h0M102.9,545.0h0M103.1,517.9h0M111.5,549.5h0M114.2,540.8h0M108.0,532.4h0M112.0,520.0h0M114.5,511.3h0M104.9,514.4h0M111.4,539.5h0M104.6,525.8h0M112.8,551.1h0M111.1,538.8h0M114.0,529.9h0M106.8,525.9h0M108.6,539.6h0M114.5,533.6h0M111.4,527.5h0M102.8,525.3h0M111.2,512.3h0M103.2,530.8h0M106.7,532.9h0M107.9,537.1h0M113.4,501.7h0M103.0,526.2h0M114.0,497.2h0M105.8,540.3h0M114.6,543.1h0M107.1,540.7h0M112.5,548.6h0M112.7,535.2h0M113.6,540.0h0M112.8,539.7h0M102.9,544.7h0M109.6,513.9h0M103.2,550.5h0M111.2,506.4h0M111.8,527.3h0M111.7,524.7h0M107.8,534.5h0M103.1,549.0h0M111.2,543.4h0M108.3,537.9h0M111.1,546.4h0M112.7,543.1h0M111.3,541.2h0" stroke="#7f7f7f" stroke-width="1.53" stroke-linecap="round" fill="none"/>
<path d="M114.6,368.5h0M114.6,371.5h0M114.2,379.1h0M114.2,394.3h0M114.2,398.1h0M114.5,415.3h0M114.4,430.4h0M114.5,435.9h0M114.4,438.5h0M114.3,440.8h0M114.6,442.8h0M114.1,445.4h0M114.4,447.7h0M114.2,449.2h0M114.1,470.6h0M114.2,472.5h0M114.3,474.7h0M114.3,477.4h0M114.3,478.6h0M114.2,489.0h0M114.2,490.3h0M114.6,493.2h0M114.3,495.4h0M114.4,497.7h0M114.3,500.5h0M114.6,503.2h0M114.3,537.0h0M114.4,534.0h0M114.6,530.9h0M114.2,527.9h0M114.1,524.8h0M114.4,521.8h0M114.4,518.8h0M114.4,515.7h0M114.3,512.7h0M114.2,509.6h0M114.2,506.6h0M106.3,499.3h0M108.8,507.2h0" stroke="#505050" stroke-width="1.70" stroke-linecap="round" fill="none"/>
<path d="M115.5,629.0L115.5,560.8L116.0,561.6L116.5,560.5L117.0,565.1L117.5,562.4L118.0,558.1L118.5,558.3L118.9,558.0L119.4,560.8L119.9,561.0L120.4,557.9L120.9,559.7L121.4,557.1L121.9,554.8L122.4,558.1L122.9,557.0L123.4,555.1L123.9,559.6L124.4,560.6L124.9,560.0L125.4,558.0L125.8,559.0L126.3,558.1L126.8,558.3L127.3,556.0L127.8,555.7L128.3,559.3L128.8,559.9L128.8,629.0Z" fill="#ff8000"/>
<path d="M120.3,566.7h0M125.3,558.9h0M121.1,561.4h0M117.2,566.3h0M120.7,570.1h0M117.6,571.0h0M118.0,563.4h0M120.2,567.6h0M121.0,577.4h0M127.2,556.0h0M127.8,569.7h0M125.6,562.6h0M118.5,558.2h0M116.3,571.7h0M120.7,558.2h0M116.8,577.7h0M119.0,560.8h0M118.9,567.6h0M118.0,565.3h0M123.0,572.7h0M119.0,564.8h0M119.6,576.4h0" stroke="#fff" stroke-width="1.1" stroke-linecap="round" fill="none"/>
<path d="M123.7,553.8h0M124.2,557.6h0M127.2,547.9h0M116.5,557.9h0M124.5,546.0h0M121.8,528.5h0M124.1,559.4h0M122.3,554.7h0M117.1,546.3h0M127.8,525.1h0M127.1,524.9h0M122.3,545.6h0M123.8,556.5h0M116.2,560.6h0M119.2,553.9h0M127.3,544.8h0M123.6,555.9h0M122.7,549.0h0M116.7,556.3h0M124.1,531.3h0M123.8,556.6h0M124.2,534.2h0M127.6,554.2h0M116.8,558.4h0M121.8,550.7h0M124.4,559.1h0M118.7,556.9h0M117.0,544.7h0M120.7,557.7h0M124.7,533.8h0M124.0,543.7h0M122.2,523.0h0M127.6,553.0h0M116.3,550.2h0M124.1,557.5h0M120.2,548.9h0M127.4,540.7h0M127.8,557.8h0M119.9,502.3h0M116.5,546.3h0M122.1,534.4h0M126.3,554.7h0M127.0,541.7h0M122.6,550.5h0M127.4,551.0h0M121.0,558.7h0M119.1,552.7h0M123.2,502.8h0M124.6,553.9h0M122.3,546.0h0M122.3,552.5h0M124.2,556.2h0M116.8,557.4h0M121.2,503.7h0M121.6,553.2h0M122.3,557.3h0M124.6,545.8h0M120.4,555.8h0M124.6,523.6h0M122.5,537.8h0M122.4,557.1h0M119.1,540.3h0M118.9,557.7h0M124.1,542.9h0M116.6,556.2h0M124.0,556.8h0M120.5,533.1h0M120.1,551.8h0M121.9,545.1h0M118.9,547.2h0M119.0,535.7h0M124.4,541.5h0M123.8,555.0h0M116.4,542.8h0M124.0,540.2h0M127.7,552.0h0M127.7,530.5h0M116.9,548.8h0M122.0,553.9h0" stroke="#ff8000" stroke-width="1.61" stroke-linecap="round" fill="none"/>
<path d="M121.1,506.7h0M121.0,517.6h0" stroke="#f07c10" stroke-width="2.10" stroke-linecap="round" fill="none"/>
<path d="M128.8,629.0L128.8,554.1L129.3,551.0L129.8,549.6L130.3,551.1L130.8,550.3L131.3,549.5L131.8,550.9L132.3,554.2L132.8,551.1L133.3,552.6L133.8,551.1L134.3,549.6L134.8,548.8L135.3,550.5L135.9,547.0L136.4,547.9L136.9,551.0L137.4,549.9L137.9,544.6L138.4,543.9L138.9,545.0L139.4,544.5L139.9,543.1L140.4,543.7L140.9,544.9L141.4,551.0L141.9,548.6L142.4,549.8L142.4,629.0Z" fill="#0000ff"/>
<path d="M140.0,550.5h0M140.9,552.1h0M140.6,546.5h0M133.1,562.7h0M131.5,551.2h0M129.4,554.2h0M140.2,549.3h0M139.0,548.8h0M136.7,552.7h0M130.5,551.3h0M136.6,551.1h0M135.3,551.7h0M137.1,562.8h0M140.8,553.1h0M139.5,543.2h0M133.4,553.6h0M129.8,555.7h0M135.1,548.8h0M130.1,552.8h0M141.2,553.5h0M134.2,566.9h0M138.2,554.1h0" stroke="#fff" stroke-width="1.1" stroke-linecap="round" fill="none"/>
<path d="M130.2,546.3h0M137.2,531.7h0M137.6,508.2h0M139.4,501.8h0M134.7,549.3h0M131.0,542.7h0M134.2,540.6h0M134.0,523.1h0M139.5,540.5h0M135.4,549.7h0M135.6,545.6h0M130.3,537.7h0M130.8,544.0h0M134.0,525.6h0M137.0,531.1h0M139.8,489.3h0M141.3,526.0h0M131.7,516.6h0M137.2,509.6h0M135.8,546.8h0M131.5,512.4h0M135.1,547.8h0M133.9,540.0h0M131.5,544.1h0M135.2,538.5h0M139.5,536.3h0M134.2,531.9h0M139.1,510.0h0M135.1,541.5h0M133.8,545.4h0M141.3,530.1h0M139.6,541.4h0M134.7,524.7h0M131.4,549.0h0M139.9,538.2h0M134.1,549.7h0M139.4,530.6h0M135.3,547.6h0M135.5,549.5h0M137.4,546.0h0M131.4,541.7h0M139.8,510.2h0M131.5,548.3h0M135.3,541.9h0M141.5,530.0h0M130.0,506.5h0M129.9,539.1h0M131.6,537.7h0M134.1,519.4h0M133.8,540.8h0M139.2,544.1h0M139.6,535.8h0M129.7,493.5h0M130.4,531.1h0M134.8,490.4h0M137.4,503.9h0M133.1,546.9h0M138.7,541.8h0M130.5,513.5h0M137.6,535.6h0M136.9,545.2h0M140.1,523.8h0M136.9,549.8h0M134.3,534.5h0M130.0,537.5h0M135.3,542.9h0M136.7,550.3h0M134.1,533.8h0M137.9,534.9h0M134.2,547.7h0M139.5,540.3h0M130.6,548.4h0M130.3,531.4h0M137.4,541.4h0M135.4,541.4h0M138.8,509.0h0M133.8,537.2h0M132.4,536.2h0M136.9,541.1h0M140.5,524.1h0M136.9,543.2h0M135.1,548.4h0M131.3,529.9h0M130.6,526.5h0M135.6,529.6h0M134.0,498.3h0M140.0,540.4h0M131.5,541.6h0M134.8,539.2h0M131.1,532.0h0M131.4,544.7h0M133.9,516.0h0M129.8,537.1h0M139.7,521.0h0M137.2,537.8h0M137.1,536.9h0M135.3,539.8h0M131.1,549.3h0M129.8,542.0h0M135.1,541.1h0M134.2,520.7h0M134.3,526.7h0M135.0,546.0h0M136.8,545.7h0M134.1,547.0h0M135.0,534.4h0M130.3,516.2h0M133.7,545.9h0M139.1,530.3h0M140.6,532.9h0M131.4,530.5h0M134.8,548.2h0M131.4,521.0h0M139.8,521.5h0M137.0,548.1h0M136.9,508.5h0M134.8,546.8h0M136.7,537.5h0M139.8,543.1h0M135.0,548.7h0M137.4,525.0h0M135.0,543.4h0M137.1,536.2h0M135.2,533.0h0M131.6,542.0h0M139.6,508.5h0M138.2,535.8h0M136.8,550.1h0M137.3,548.7h0M139.7,542.0h0M139.7,535.8h0M137.3,506.9h0M133.8,505.7h0M132.1,534.9h0M135.3,546.0h0M139.6,531.9h0M134.9,519.6h0M137.2,539.1h0M131.5,529.6h0M130.0,537.2h0M137.2,540.6h0M137.1,543.6h0M131.0,540.2h0M135.6,503.2h0M134.3,536.7h0M133.8,510.8h0M130.7,550.0h0M137.2,545.3h0M137.2,533.9h0M131.3,520.9h0M139.5,534.9h0M134.1,531.3h0M131.5,546.5h0M131.1,538.1h0M132.4,549.9h0M139.4,525.5h0M135.3,546.3h0M139.6,524.7h0M134.2,544.2h0M134.9,500.1h0M130.0,542.0h0M134.9,511.9h0M129.9,543.1h0M130.1,539.1h0M134.6,544.8h0M134.0,542.6h0M130.0,537.3h0M131.5,533.6h0M131.2,532.1h0M140.6,522.2h0M137.9,514.6h0M130.3,543.8h0M139.7,494.8h0M140.3,536.1h0M137.1,548.4h0M133.6,535.1h0M137.5,521.6h0M139.8,535.8h0M141.0,550.3h0M139.4,496.4h0M131.4,527.8h0M131.2,547.0h0M140.2,536.8h0M140.0,493.4h0M134.7,537.8h0M130.0,546.7h0M135.1,547.2h0M139.7,541.6h0M129.8,523.7h0M131.3,543.8h0M137.6,538.1h0M131.0,525.2h0M139.6,543.0h0M130.9,543.4h0M131.1,545.0h0M134.0,548.2h0M135.4,521.4h0M134.1,540.5h0M131.4,538.4h0M130.1,501.2h0M129.6,525.7h0M130.1,517.4h0M134.2,548.7h0M141.2,544.7h0M139.4,514.9h0M137.3,544.9h0M133.9,546.7h0M139.9,525.8h0M138.5,510.2h0M139.6,530.4h0M129.8,550.3h0M133.9,543.9h0M131.5,546.6h0M133.4,517.5h0M129.6,553.8h0M131.3,536.8h0M135.2,515.1h0M135.6,548.1h0M133.7,546.2h0M134.3,544.5h0M132.8,553.9h0M130.9,541.2h0M134.2,548.6h0M131.2,543.0h0M134.1,546.3h0M131.3,544.8h0M140.0,519.6h0M130.1,516.2h0M134.5,542.4h0M130.5,540.6h0M135.2,503.8h0M139.3,531.1h0M134.9,544.5h0M134.9,547.1h0M139.9,528.7h0M131.6,544.3h0M136.9,537.2h0M131.6,544.8h0M138.8,537.3h0M131.6,547.9h0M135.0,515.3h0M131.4,528.2h0M133.8,548.8h0M132.4,538.9h0" stroke="#0000ff" stroke-width="1.70" stroke-linecap="round" fill="none"/>
<path d="M136.2,456.3h0M139.2,458.9h0M135.6,456.5h0M140.3,530.9h0M140.0,527.3h0M140.1,523.6h0M139.7,520.0h0M140.0,516.3h0M140.2,512.7h0M140.3,509.0h0M140.1,505.4h0M139.9,501.7h0M139.9,498.1h0" stroke="#0000ff" stroke-width="2.20" stroke-linecap="round" fill="none"/>
<path d="M142.4,629.0L142.4,563.6L142.9,563.7L143.4,563.0L143.9,563.5L144.4,564.3L144.9,566.6L145.4,568.4L145.8,566.4L146.3,566.9L146.8,567.1L147.3,566.4L147.8,567.8L148.3,565.6L148.8,565.9L149.3,565.7L149.8,562.7L150.3,562.7L150.8,561.2L151.3,560.2L151.8,562.9L152.2,563.9L152.7,565.7L153.2,563.8L153.7,562.8L154.2,562.8L154.7,563.0L155.2,565.9L155.2,629.0Z" fill="#7f7f7f"/>
<path d="M145.8,572.2h0M147.3,571.3h0M150.4,562.7h0M143.2,569.3h0M153.4,563.1h0M152.5,570.3h0M153.4,564.0h0M152.6,566.2h0M147.3,567.3h0M145.3,569.1h0M151.3,565.2h0M145.2,572.7h0M149.8,573.8h0M144.7,564.4h0M149.5,567.3h0M153.6,564.3h0M153.5,574.8h0M151.0,565.3h0M145.6,570.8h0M152.8,577.3h0M145.9,566.8h0M143.8,573.6h0" stroke="#fff" stroke-width="1.1" stroke-linecap="round" fill="none"/>
<path d="M145.9,543.9h0M149.5,558.2h0M150.8,497.9h0M149.4,563.9h0M144.0,559.8h0M153.8,545.7h0M143.9,555.3h0M144.0,537.7h0M151.8,563.5h0M144.8,553.6h0M146.1,565.9h0M146.0,547.9h0M144.1,553.4h0M149.5,533.6h0M153.9,513.2h0M147.3,563.6h0M143.9,557.0h0M151.7,558.6h0M148.0,560.7h0M146.1,559.8h0M150.8,536.9h0M143.5,556.7h0M147.7,561.0h0M143.6,525.9h0M151.1,513.4h0M147.6,558.7h0M154.3,554.7h0M144.3,554.7h0M147.7,514.4h0M146.2,547.6h0M145.8,564.9h0M151.2,557.8h0M148.0,542.6h0M144.1,538.5h0M153.6,554.7h0M149.3,527.3h0M143.5,561.6h0M149.6,529.2h0M146.2,536.7h0M147.8,554.4h0M153.7,531.3h0M151.0,551.7h0M146.1,553.4h0M146.1,565.3h0M144.9,559.1h0M148.6,534.5h0M149.5,549.9h0M143.7,552.3h0M144.0,562.2h0M146.2,558.7h0M154.2,557.4h0M146.3,553.3h0M148.0,563.3h0M149.7,533.0h0M144.3,556.8h0M153.9,555.4h0M146.6,564.5h0M145.8,559.6h0M150.9,544.6h0M145.4,540.7h0M147.5,566.2h0M146.1,523.8h0M152.7,551.3h0M149.9,521.1h0M151.9,560.2h0M143.7,540.9h0M150.8,558.2h0M146.0,534.6h0M148.0,564.5h0M151.3,542.8h0M149.7,557.8h0M149.8,524.7h0M146.0,559.9h0M153.5,561.4h0M149.0,564.8h0M148.0,562.7h0M147.6,527.5h0M144.0,552.0h0M145.9,559.4h0M147.7,563.5h0M145.7,562.0h0M143.8,538.4h0M154.0,560.2h0M144.1,550.1h0M150.9,542.2h0M145.9,553.0h0M144.0,538.1h0M144.2,551.9h0M153.9,552.3h0M148.2,511.3h0M151.2,546.3h0M153.4,559.1h0M149.8,532.0h0M153.7,533.2h0M149.6,559.3h0M149.7,560.9h0M147.5,538.9h0M148.0,536.6h0M151.5,553.3h0M149.4,524.9h0M147.6,545.7h0M149.3,555.2h0M153.5,556.3h0M147.8,549.9h0M147.7,553.4h0M151.4,517.2h0M143.9,558.5h0M147.8,540.7h0M150.0,529.7h0M153.9,529.4h0M146.2,556.4h0M149.5,562.6h0M144.0,534.1h0M147.4,556.3h0M153.4,554.6h0M148.0,549.9h0M145.7,526.0h0M153.3,531.2h0M151.5,560.9h0M151.0,536.2h0M144.8,555.1h0M146.5,550.5h0M150.6,518.0h0M153.8,542.2h0M146.0,532.7h0M147.9,540.2h0M146.2,565.4h0M153.8,547.1h0M145.9,564.2h0M144.0,554.7h0M143.8,548.6h0M146.0,530.6h0M150.5,531.5h0M154.0,558.8h0M150.1,561.6h0M145.4,562.7h0M153.4,550.5h0M149.8,532.8h0M150.4,556.0h0M149.8,545.8h0M154.2,542.6h0M147.9,530.4h0M145.6,568.4h0M144.5,562.8h0M144.6,562.8h0M154.5,541.1h0M143.7,552.9h0M153.7,558.7h0M143.5,537.5h0M146.2,546.8h0M144.4,556.1h0M149.2,544.5h0M146.3,562.4h0M145.8,567.8h0M149.6,556.0h0M151.6,523.9h0M145.6,559.9h0M148.3,541.3h0M144.3,548.3h0M153.7,546.7h0M149.7,528.5h0M153.5,534.4h0M143.6,551.1h0M153.7,551.7h0M145.7,529.7h0M149.8,551.7h0M147.6,563.7h0M152.1,555.1h0M149.2,564.5h0M146.1,533.2h0M151.8,554.6h0M153.8,555.7h0M151.0,538.8h0M145.9,558.1h0M151.1,557.1h0M145.8,565.9h0M144.4,562.9h0M147.5,548.6h0M149.6,539.8h0M147.5,562.3h0M149.6,556.7h0M151.2,540.1h0M147.7,541.0h0M149.8,536.8h0M150.4,538.6h0M151.3,530.5h0M146.1,561.5h0M149.5,520.9h0M151.4,526.4h0M153.8,557.2h0M151.1,545.2h0M149.8,530.2h0M146.1,560.9h0M144.5,563.1h0M154.3,541.2h0M149.5,562.4h0M150.8,509.6h0M153.5,554.0h0M150.3,533.1h0M150.8,538.2h0M153.9,542.8h0M148.1,552.9h0M151.3,557.3h0M146.1,564.0h0M153.8,560.9h0M149.7,561.8h0M150.9,532.0h0M144.2,558.9h0M144.1,550.9h0M154.0,561.0h0M149.8,555.2h0M149.7,523.3h0M147.5,546.5h0M147.9,550.8h0M144.0,543.3h0M145.9,557.3h0M145.3,554.1h0M150.9,525.3h0M149.6,540.8h0M153.6,562.4h0M149.0,534.1h0M151.1,558.5h0M146.1,555.8h0M147.8,556.6h0M144.1,528.3h0M153.9,556.9h0M154.2,509.0h0M146.0,539.4h0M143.8,520.9h0M147.5,558.7h0" stroke="#7f7f7f" stroke-width="1.53" stroke-linecap="round" fill="none"/>
<path d="M150.3,467.2h0" stroke="#505050" stroke-width="1.70" stroke-linecap="round" fill="none"/>
<path d="M155.2,629.0L155.2,569.4L155.7,567.3L156.2,567.8L156.7,567.8L157.2,567.2L157.7,568.3L158.2,568.6L158.7,568.0L159.2,567.8L159.7,568.2L160.2,568.4L160.7,567.4L161.2,567.6L161.8,566.9L162.3,567.3L162.8,566.2L163.3,563.0L163.8,565.8L164.3,565.2L164.8,563.9L165.3,561.5L165.8,562.0L166.3,558.4L166.8,556.7L167.3,556.6L167.8,553.8L167.8,629.0Z" fill="#ff8000"/>
<path d="M159.8,568.3h0M156.1,576.2h0M156.3,571.3h0M158.2,570.6h0M165.1,566.4h0M158.5,569.3h0M159.1,569.0h0M166.4,558.2h0M157.9,571.1h0M165.9,562.3h0M166.3,560.4h0M159.7,575.1h0M161.4,574.3h0M166.6,559.5h0M157.3,571.5h0M159.0,574.9h0M157.7,569.9h0M158.7,573.2h0M158.9,572.9h0M157.4,571.0h0M162.3,571.0h0M166.2,557.3h0" stroke="#fff" stroke-width="1.1" stroke-linecap="round" fill="none"/>
<path d="M162.0,553.4h0M156.8,541.5h0M156.6,552.3h0M167.1,550.4h0M159.0,556.1h0M162.1,557.0h0M158.9,563.1h0M157.1,559.7h0M165.2,561.9h0M161.8,540.4h0M156.8,550.1h0M166.3,553.3h0M166.3,548.6h0M164.0,563.1h0M158.8,538.0h0M156.7,560.3h0M165.8,553.0h0M157.1,556.9h0M163.9,549.8h0M162.1,553.2h0M165.8,513.8h0M158.9,559.5h0M157.4,559.0h0M165.9,541.2h0M156.8,567.3h0M157.2,544.0h0M162.3,567.3h0M159.2,557.0h0M164.2,555.1h0M162.4,564.0h0M156.9,558.1h0M157.1,556.6h0M162.0,566.6h0M160.0,539.3h0M159.0,564.9h0M167.0,552.2h0M165.7,555.6h0M163.9,557.3h0M158.9,566.7h0M157.0,548.2h0M164.5,556.9h0M157.2,565.1h0M156.8,567.5h0M157.3,522.6h0M156.7,548.2h0M157.3,565.0h0M156.9,550.1h0M160.2,547.1h0M158.9,562.5h0M165.7,551.9h0M165.1,551.5h0M158.6,565.8h0M157.0,563.6h0M157.3,561.4h0M165.7,556.1h0M161.9,554.2h0M156.9,562.2h0M163.9,551.7h0M158.8,567.2h0M165.7,556.6h0M166.0,543.3h0M165.7,553.3h0M165.9,557.2h0M162.2,561.5h0M159.0,565.3h0M164.0,539.5h0M165.1,537.0h0M162.4,556.6h0M164.2,544.6h0M162.2,555.4h0M161.8,547.6h0M158.9,561.4h0M164.2,561.6h0M165.9,555.2h0M165.4,543.7h0M159.5,558.5h0M165.0,556.2h0M165.7,547.8h0M159.2,545.4h0M158.1,567.2h0M164.0,548.2h0M156.9,564.4h0M157.1,535.6h0M162.2,565.5h0M158.9,552.4h0M157.4,545.3h0M157.3,553.3h0M165.9,550.7h0M164.2,550.4h0M157.2,557.2h0M159.8,541.4h0M164.1,560.8h0M156.9,544.5h0M159.8,563.1h0M159.1,543.6h0M161.9,559.6h0M158.8,548.5h0M160.6,552.6h0M158.7,565.7h0M164.3,562.4h0M157.2,558.2h0M165.5,549.5h0M156.5,563.3h0M158.7,554.9h0M163.6,517.8h0M158.8,563.7h0M166.0,549.6h0M162.3,558.4h0M162.6,561.7h0M158.8,567.4h0M162.4,563.6h0M162.6,562.3h0M165.6,538.8h0M165.7,541.3h0M159.1,551.2h0M164.3,556.4h0M163.0,518.6h0M165.8,532.1h0M164.3,545.4h0M165.7,553.6h0M165.9,553.4h0M157.0,541.6h0M159.1,559.4h0M166.9,552.3h0M158.9,563.7h0M156.9,514.4h0" stroke="#ff8000" stroke-width="1.61" stroke-linecap="round" fill="none"/>
<path d="M167.8,629.0L167.8,555.7L168.3,556.4L168.8,556.5L169.3,558.9L169.8,559.6L170.3,556.7L170.8,558.2L171.3,556.8L171.8,554.7L172.3,558.0L172.8,553.9L173.4,557.1L173.9,556.9L174.4,557.0L174.9,556.1L175.4,554.6L175.9,553.6L176.4,551.3L176.9,552.6L177.4,551.6L177.9,551.8L178.4,554.4L178.9,553.0L178.9,629.0Z" fill="#0000ff"/>
<path d="M173.8,563.9h0M172.6,558.0h0M168.5,555.8h0M170.2,563.3h0M169.0,562.1h0M176.7,555.9h0M174.9,558.0h0M171.3,561.7h0M169.1,565.9h0M173.5,565.2h0M172.5,561.2h0M178.0,561.0h0M175.0,556.6h0M169.6,559.5h0M171.8,560.1h0M174.6,557.4h0M178.3,561.2h0M172.3,559.7h0" stroke="#fff" stroke-width="1.1" stroke-linecap="round" fill="none"/>
<path d="M171.3,557.5h0M171.4,543.2h0M176.6,543.4h0M174.3,514.8h0M176.4,549.2h0M177.0,550.0h0M177.9,497.2h0M170.1,535.4h0M174.2,546.2h0M174.1,553.8h0M171.0,520.2h0M176.1,537.5h0M174.2,548.9h0M169.0,549.8h0M174.2,556.9h0M171.1,530.3h0M169.0,552.3h0M173.9,556.4h0M171.0,527.1h0M170.2,531.8h0M171.3,552.0h0M174.7,542.5h0M176.6,531.3h0M174.6,555.2h0M177.5,532.8h0M169.9,534.5h0M169.6,550.0h0M176.6,549.9h0M174.2,547.6h0M171.4,542.9h0M168.8,535.8h0M168.5,540.9h0M171.3,548.0h0M174.3,555.1h0M170.1,539.6h0M168.7,528.5h0M171.0,545.9h0M171.3,497.6h0M174.1,556.6h0M170.3,549.2h0M168.6,553.5h0M171.0,547.7h0M171.0,555.4h0M174.2,533.7h0M174.0,545.7h0M177.0,551.5h0M171.6,549.5h0M174.3,556.6h0M176.3,544.5h0M173.7,553.1h0M171.1,551.1h0M169.9,522.5h0M168.6,551.7h0M169.9,549.7h0M176.4,552.6h0M177.0,540.7h0M176.7,541.9h0M169.9,547.3h0M175.4,531.0h0M169.8,553.9h0M176.8,504.6h0M174.0,549.3h0M170.8,555.5h0M176.9,534.2h0M171.3,558.0h0M175.0,549.9h0M174.7,555.7h0M171.0,546.0h0M169.9,544.7h0M176.9,537.6h0M169.9,533.3h0M174.1,526.1h0M176.9,529.5h0M174.8,545.7h0M168.5,552.3h0M176.6,514.7h0M169.5,545.6h0M176.9,529.4h0M169.7,524.5h0M170.8,540.1h0M170.2,556.4h0M169.8,526.7h0M172.4,537.5h0M168.9,502.9h0M170.1,558.7h0M168.5,508.3h0M171.8,546.8h0M177.0,492.8h0M169.3,549.5h0M174.7,552.8h0M176.6,524.6h0M168.5,545.5h0M168.5,538.0h0M171.2,536.6h0M170.9,554.7h0M173.4,556.7h0M176.5,543.1h0M176.7,508.8h0M174.2,553.8h0M174.0,556.1h0M169.4,546.7h0M168.7,552.9h0M171.4,554.4h0M174.1,519.5h0M170.1,529.2h0M176.6,542.3h0M171.1,549.8h0M176.1,544.9h0M171.0,533.9h0M175.8,546.6h0M168.5,554.9h0M171.5,536.5h0M174.2,500.3h0M174.5,548.1h0M171.1,545.1h0M176.7,520.9h0M174.0,549.7h0M177.9,515.7h0M174.6,553.1h0M169.6,555.8h0M174.3,548.5h0M174.2,528.9h0M168.5,500.9h0M169.7,535.5h0M169.7,535.0h0M174.5,549.4h0M170.2,558.6h0M171.1,528.4h0M176.5,545.0h0M174.6,547.8h0M168.5,543.8h0M168.9,534.8h0M176.9,532.9h0M174.2,554.2h0M171.1,549.5h0M174.1,526.3h0M176.3,549.9h0M171.1,558.2h0M168.5,549.1h0M176.6,523.5h0M176.8,546.1h0M176.7,551.2h0M176.7,545.5h0M172.0,549.6h0M171.2,509.0h0M168.5,550.1h0M171.1,547.4h0M173.6,555.1h0M174.6,543.9h0M170.0,557.5h0M171.3,552.9h0M176.7,545.1h0M170.0,549.3h0M168.7,518.1h0M174.5,553.8h0M171.3,546.2h0M169.7,548.2h0M173.8,544.5h0M170.1,541.6h0M168.6,551.9h0M174.1,535.1h0M171.5,531.3h0M174.2,551.0h0M174.2,554.1h0M168.5,549.0h0M168.5,551.6h0M176.7,547.8h0M170.0,558.5h0M170.1,536.6h0M169.6,553.9h0M169.8,542.0h0M168.7,533.1h0M173.8,556.1h0M176.6,547.1h0M169.6,556.3h0M169.8,541.4h0M169.9,536.6h0M176.7,543.9h0M175.8,543.1h0M171.1,545.2h0M177.3,546.5h0M171.5,555.9h0M176.5,542.8h0M176.5,541.6h0M174.4,548.4h0M168.7,533.7h0M177.1,542.1h0M168.5,555.0h0M168.7,509.3h0M171.1,549.0h0M174.2,551.9h0M171.0,555.4h0M177.3,548.6h0M168.5,539.3h0M172.5,557.2h0M176.8,528.1h0M174.3,552.2h0M168.6,544.7h0M168.8,543.3h0" stroke="#0000ff" stroke-width="1.70" stroke-linecap="round" fill="none"/>
<path d="M176.0,530.9h0M176.0,527.3h0M176.0,523.6h0M175.8,520.0h0M175.8,516.3h0M176.2,512.7h0M176.1,509.0h0M176.0,505.4h0M175.8,501.7h0M175.8,498.1h0" stroke="#0000ff" stroke-width="2.20" stroke-linecap="round" fill="none"/>
<path d="M178.9,629.0L178.9,567.1L179.4,565.0L179.9,565.1L180.4,566.5L180.9,565.1L181.4,564.1L181.9,564.3L182.5,564.5L183.0,565.0L183.5,565.1L184.0,566.5L184.5,564.9L185.0,566.1L185.5,567.5L186.0,566.1L186.5,561.8L187.0,560.8L187.5,560.0L188.1,560.3L188.6,559.9L189.1,556.7L189.6,555.4L190.1,553.4L190.6,550.1L191.1,549.5L191.1,629.0Z" fill="#7f7f7f"/>
<path d="M186.4,562.3h0M188.5,565.1h0M180.7,571.1h0M184.6,567.4h0M185.5,578.4h0M182.5,571.5h0M190.6,551.9h0M188.3,562.8h0M183.9,566.6h0M189.6,560.3h0M183.1,565.2h0M186.3,564.8h0M185.1,567.0h0M180.5,566.0h0M181.7,568.9h0M179.5,568.1h0M190.1,560.9h0M190.4,552.2h0M184.1,576.3h0M189.1,566.8h0" stroke="#fff" stroke-width="1.1" stroke-linecap="round" fill="none"/>
<path d="M181.5,547.1h0M181.1,549.2h0M185.3,552.2h0M182.4,559.4h0M183.5,558.4h0M183.9,547.7h0M179.8,544.5h0M182.1,556.5h0M189.7,534.0h0M186.1,562.6h0M189.9,526.3h0M189.0,531.7h0M183.3,544.2h0M189.8,522.5h0M186.6,534.4h0M189.1,544.7h0M181.2,546.3h0M183.4,532.2h0M186.5,560.1h0M182.2,548.5h0M189.8,541.3h0M181.2,547.8h0M183.3,547.9h0M189.2,527.1h0M181.9,532.8h0M181.2,535.4h0M189.2,536.7h0M186.5,543.3h0M180.8,535.9h0M189.8,516.1h0M189.3,548.3h0M182.5,558.4h0M182.3,542.9h0M182.0,555.7h0M186.3,560.4h0M186.6,542.2h0M182.0,563.0h0M180.8,528.9h0M183.2,556.8h0M186.5,559.8h0M179.8,559.7h0M180.6,547.0h0M186.2,561.6h0M181.1,563.9h0M183.2,543.9h0M182.4,518.4h0M181.1,554.9h0M189.0,503.1h0M186.5,537.9h0M180.3,553.1h0M182.4,537.5h0M189.2,545.4h0M181.0,559.2h0M186.7,555.3h0M182.4,551.5h0M185.8,557.6h0M183.0,538.8h0M181.1,551.1h0M180.6,562.6h0M182.1,522.2h0M186.3,518.0h0M181.1,557.7h0M181.1,556.8h0M182.5,545.9h0M181.1,557.9h0M183.4,546.4h0M186.8,556.2h0M182.2,562.3h0M182.2,562.7h0M183.1,542.9h0M183.7,553.6h0M185.9,557.8h0M183.5,564.4h0M182.4,541.9h0M181.2,558.3h0M183.3,556.1h0M182.0,558.9h0M183.7,551.3h0M182.0,541.4h0M189.2,505.3h0M183.2,532.2h0M183.5,550.7h0M182.6,542.0h0M182.4,551.1h0M189.4,523.3h0M186.3,524.3h0M186.7,560.5h0M181.5,556.1h0M188.8,554.1h0M186.1,514.3h0M186.3,546.3h0M180.9,561.8h0M182.7,544.0h0M181.0,566.4h0M180.3,535.6h0M186.3,559.2h0M181.2,561.7h0M188.9,538.9h0M182.4,558.8h0M187.9,556.7h0M184.1,554.6h0M186.1,565.8h0M182.1,554.6h0M181.1,563.1h0M182.4,542.8h0M183.5,562.5h0M180.7,551.0h0M189.2,553.6h0M182.5,556.4h0M181.0,528.4h0M181.0,522.3h0M188.7,545.7h0M189.3,548.8h0M183.5,557.7h0M187.5,538.8h0M188.4,546.6h0M180.8,557.5h0M183.5,555.5h0M186.1,564.4h0M186.7,509.3h0M183.5,554.0h0M189.2,534.8h0M181.4,565.0h0M181.2,536.3h0M182.3,536.2h0M182.0,560.9h0M182.4,551.4h0M186.7,559.3h0M186.6,513.4h0M186.4,559.9h0M189.2,507.9h0M183.5,549.9h0M189.4,535.2h0M182.6,542.3h0M188.8,554.2h0M186.5,560.0h0M182.6,544.3h0M180.8,562.2h0M186.1,563.2h0M186.7,554.7h0M183.7,523.1h0M183.4,545.7h0M181.0,561.0h0M182.4,555.7h0M183.7,552.8h0M188.7,521.5h0M188.8,523.7h0M180.4,525.2h0M182.7,558.8h0M182.3,560.5h0M180.3,558.9h0M183.4,539.2h0M186.6,553.0h0M182.9,553.6h0M189.4,536.4h0M189.2,546.9h0M189.2,555.0h0M189.4,546.7h0M189.5,543.7h0M186.4,541.7h0M180.2,562.2h0M189.4,538.2h0M183.7,551.1h0M182.3,553.7h0M186.5,557.2h0M182.5,557.4h0M186.1,560.1h0M181.1,532.1h0M183.7,509.6h0M189.2,543.3h0M187.7,556.7h0M189.3,528.7h0M181.1,559.6h0M189.5,551.5h0M181.1,555.6h0M183.6,553.4h0M183.8,547.7h0M186.4,560.3h0M181.9,558.1h0M189.4,548.3h0M183.8,518.0h0M189.1,551.3h0M186.5,548.4h0M189.4,540.5h0M181.3,555.2h0M183.6,544.4h0M182.8,551.0h0M186.2,528.9h0M181.5,548.8h0M186.5,550.6h0M182.5,558.7h0M188.9,548.7h0M181.2,564.6h0M183.5,538.4h0M181.2,563.0h0M182.4,552.7h0M181.2,541.5h0M181.2,558.9h0M183.5,523.4h0M186.4,543.4h0M182.1,553.6h0M182.5,542.2h0M182.2,562.2h0M182.2,545.4h0M180.5,562.1h0M181.0,564.5h0M183.4,550.2h0M183.4,516.6h0M184.1,562.4h0M180.7,565.5h0M183.0,563.3h0M186.5,561.0h0M189.2,544.3h0M189.8,547.6h0M183.5,520.6h0M183.9,555.1h0M182.6,548.4h0M182.1,547.5h0M186.3,542.4h0" stroke="#7f7f7f" stroke-width="1.53" stroke-linecap="round" fill="none"/>
<path d="M188.6,393.5h0M188.8,407.0h0M188.7,427.2h0M188.7,458.4h0M188.5,476.6h0M188.5,479.1h0M188.8,482.2h0M188.8,537.0h0M188.6,534.0h0M188.9,530.9h0M188.8,527.9h0M188.4,524.8h0M188.5,521.8h0M188.8,518.8h0M188.4,515.7h0M188.5,512.7h0M188.8,509.6h0M188.4,506.6h0M188.6,503.6h0M188.4,500.5h0M188.4,497.5h0M188.4,494.4h0M188.5,491.4h0M188.8,488.4h0M188.5,485.3h0" stroke="#505050" stroke-width="1.70" stroke-linecap="round" fill="none"/>
<path d="M191.1,629.0L191.1,570.3L191.6,570.5L192.1,572.4L192.6,572.6L193.1,570.5L193.6,573.3L194.2,570.7L194.7,567.5L195.2,568.4L195.7,569.4L196.2,569.1L196.7,569.0L197.2,567.5L197.7,568.8L198.2,567.4L198.7,567.8L199.3,566.0L199.8,565.3L200.3,565.3L200.8,566.3L201.3,567.6L201.8,564.3L201.8,629.0Z" fill="#ff8000"/>
<path d="M194.0,573.7h0M191.6,571.2h0M197.3,576.3h0M193.1,575.7h0M199.5,571.3h0M196.3,570.4h0M199.4,569.0h0M193.8,577.3h0M195.8,578.5h0M195.0,573.3h0M197.6,569.3h0M200.3,567.2h0M200.5,571.9h0M195.1,572.2h0M196.9,568.6h0M198.6,572.1h0M195.0,571.5h0M196.8,571.0h0" stroke="#fff" stroke-width="1.1" stroke-linecap="round" fill="none"/>
<path d="M195.3,563.3h0M199.8,561.6h0M194.1,556.2h0M195.6,553.8h0M192.5,568.7h0M192.6,562.4h0M195.6,547.3h0M196.2,564.8h0M196.8,527.7h0M196.0,568.7h0M198.2,564.6h0M198.4,561.4h0M199.9,538.5h0M200.5,564.7h0M199.3,556.7h0M195.8,559.9h0M198.3,538.7h0M192.3,565.1h0M191.9,558.3h0M198.3,564.0h0M193.0,510.1h0M192.9,571.8h0M198.4,534.9h0M192.5,530.4h0M192.5,556.7h0M200.3,542.2h0M200.1,536.7h0M192.4,561.0h0M196.9,565.1h0M196.7,507.9h0M195.8,537.6h0M194.3,569.8h0M192.3,550.7h0M195.3,566.2h0M194.3,554.9h0M198.4,557.5h0M200.6,564.3h0M195.8,551.7h0M196.2,562.6h0M192.5,569.2h0M195.3,553.8h0M199.9,549.9h0M198.6,559.1h0M192.5,559.0h0M193.8,537.2h0M192.8,558.6h0M194.3,567.5h0M199.8,557.9h0M197.6,568.5h0M199.8,546.9h0M193.7,561.5h0M195.5,566.7h0M194.0,546.1h0M194.2,558.4h0M195.9,557.6h0M192.2,562.7h0M193.6,561.2h0M198.3,558.1h0M192.5,564.2h0M193.9,567.2h0M193.9,544.2h0M198.2,562.4h0M197.8,564.5h0M199.0,557.2h0M196.1,560.1h0M194.1,566.0h0M200.0,535.4h0M199.5,561.0h0M192.2,566.1h0M192.2,565.0h0M196.0,566.3h0M195.7,554.9h0M198.5,565.8h0M194.1,523.1h0M193.8,537.8h0M197.0,556.2h0M192.5,566.3h0M192.2,567.4h0M198.3,565.8h0M192.7,554.5h0M192.4,558.6h0M193.1,572.0h0M194.1,570.1h0M198.2,556.2h0M198.3,556.0h0M198.0,553.1h0M199.7,545.5h0M192.8,564.5h0M198.0,566.4h0M192.6,566.3h0M198.1,552.8h0M196.0,567.9h0M199.1,528.9h0M198.4,528.1h0M195.6,565.2h0M199.8,565.2h0M193.4,565.2h0M195.8,556.7h0M194.1,535.7h0M198.4,561.3h0M199.8,562.4h0M195.9,541.4h0M192.5,560.2h0M193.9,527.9h0M200.6,551.5h0M195.9,547.1h0M198.2,558.5h0" stroke="#ff8000" stroke-width="1.61" stroke-linecap="round" fill="none"/>
<path d="M201.8,629.0L201.8,561.3L202.3,562.9L202.8,559.3L203.3,561.0L203.8,558.2L204.3,558.4L204.8,558.0L205.3,557.7L205.8,560.7L206.3,560.0L206.7,565.1L207.2,560.7L207.7,565.1L208.2,566.3L208.7,565.7L209.2,561.9L209.7,562.5L210.2,564.3L210.7,561.3L211.2,563.1L211.2,629.0Z" fill="#0000ff"/>
<path d="M206.7,567.2h0M208.4,567.7h0M204.9,561.5h0M207.3,565.4h0M209.6,567.8h0M203.9,575.7h0M205.0,562.8h0M206.3,562.3h0M206.9,565.1h0M206.8,567.6h0M209.5,574.5h0M203.3,560.6h0M210.5,566.4h0" stroke="#fff" stroke-width="1.1" stroke-linecap="round" fill="none"/>
<path d="M203.6,544.2h0M209.8,554.8h0M207.0,560.0h0M205.4,550.7h0M203.5,553.3h0M205.3,552.5h0M209.6,554.2h0M210.5,540.3h0M205.3,537.3h0M203.6,541.8h0M206.4,530.1h0M203.8,558.5h0M205.2,556.0h0M209.0,557.4h0M207.2,558.4h0M207.2,551.7h0M205.2,549.2h0M204.9,552.7h0M208.7,558.0h0M206.4,529.0h0M203.4,545.3h0M203.2,552.5h0M205.2,549.1h0M203.4,533.9h0M203.3,550.2h0M205.0,504.0h0M208.6,528.3h0M205.3,535.9h0M206.9,543.7h0M203.4,557.5h0M205.2,524.2h0M208.5,562.4h0M207.0,560.5h0M205.2,534.8h0M208.8,556.6h0M205.2,549.3h0M208.9,548.1h0M203.1,562.7h0M207.9,557.9h0M203.2,534.1h0M203.2,558.6h0M208.6,534.8h0M206.6,559.6h0M203.1,555.6h0M208.6,553.9h0M208.8,557.2h0M208.7,554.0h0M203.5,522.9h0M205.4,551.8h0M206.6,551.8h0M205.3,557.3h0M207.2,550.1h0M208.3,546.6h0M207.0,553.7h0M204.9,524.0h0M206.6,555.7h0M203.5,551.1h0M208.9,558.7h0M206.2,554.3h0M205.5,551.6h0M205.2,553.2h0M203.6,521.3h0M208.4,518.5h0M205.0,544.7h0M203.3,525.6h0M205.5,556.1h0M208.6,547.6h0M206.7,550.1h0M206.8,517.0h0M208.9,525.4h0M205.0,545.3h0M203.3,547.2h0M208.6,548.5h0M203.2,505.6h0M203.3,542.4h0M208.5,512.6h0M208.0,556.5h0M206.6,558.0h0M206.6,552.4h0M206.9,550.6h0M208.4,560.9h0M208.8,539.4h0M207.3,516.1h0M205.3,546.5h0M203.6,558.1h0M208.5,560.9h0M205.5,552.4h0M205.3,539.8h0M206.7,558.9h0M205.0,517.4h0M204.1,549.8h0M203.5,555.9h0M207.2,558.9h0M204.9,552.6h0M209.6,549.0h0M203.4,557.9h0M204.7,514.1h0M203.3,543.8h0M203.0,561.8h0M208.9,532.1h0M206.7,553.2h0M205.4,557.0h0M202.6,538.0h0M205.4,539.0h0M202.9,535.8h0M203.4,523.6h0M208.9,553.4h0M208.7,551.5h0M206.7,562.7h0M202.7,554.0h0M203.5,552.4h0M210.1,541.2h0M206.5,503.0h0M205.1,533.2h0M203.7,559.3h0M208.4,558.0h0M207.1,559.3h0M205.0,531.8h0M206.9,562.5h0M208.6,519.7h0M203.5,544.2h0M203.7,560.0h0M208.3,541.4h0M206.6,544.3h0M204.8,556.6h0M208.4,555.7h0M208.6,558.8h0M203.6,552.7h0M208.6,549.3h0M203.6,532.0h0M203.6,510.2h0M203.4,543.0h0M205.1,551.2h0M208.1,552.7h0M207.0,557.1h0M203.1,538.3h0M206.7,560.1h0M208.7,555.7h0M203.4,509.8h0M206.8,545.5h0M204.6,546.1h0M206.7,562.0h0M208.6,524.8h0M205.2,554.5h0M205.0,532.0h0M206.8,553.9h0M204.9,520.6h0M205.1,522.2h0M205.1,540.6h0M205.9,549.5h0M208.7,549.4h0M203.3,536.1h0M208.7,561.5h0M205.0,541.9h0M205.1,556.6h0M208.4,564.1h0M209.9,528.7h0M205.2,550.5h0M208.4,559.7h0M205.6,545.5h0M206.4,536.0h0M203.4,545.5h0M206.8,546.0h0M207.1,560.1h0M205.3,551.4h0M208.8,555.3h0M206.0,547.9h0M206.1,538.1h0M206.7,550.6h0" stroke="#0000ff" stroke-width="1.70" stroke-linecap="round" fill="none"/>
<path d="M211.2,629.0L211.2,574.5L211.7,573.9L212.2,576.4L212.7,576.2L213.2,573.1L213.8,570.5L214.3,574.3L214.8,577.1L215.3,576.2L215.8,576.4L216.3,576.8L216.8,577.6L217.3,576.1L217.8,579.9L218.3,577.8L218.9,576.2L219.4,574.9L219.9,576.5L220.4,577.1L220.9,577.1L220.9,629.0Z" fill="#7f7f7f"/>
<path d="M220.1,584.6h0M216.5,579.4h0M212.4,582.5h0M218.6,582.2h0M217.9,581.3h0M218.9,579.3h0M212.7,591.3h0M215.0,577.7h0M213.8,570.6h0M219.0,575.1h0M213.9,576.2h0M215.4,578.6h0M213.5,575.1h0M215.7,578.7h0M218.6,578.6h0M212.3,577.0h0" stroke="#fff" stroke-width="1.1" stroke-linecap="round" fill="none"/>
<path d="M212.4,544.4h0M218.0,576.8h0M215.7,566.0h0M218.2,529.4h0M218.3,575.5h0M219.4,539.4h0M215.6,566.6h0M215.3,561.3h0M218.0,569.2h0M218.7,549.9h0M213.3,547.1h0M217.5,575.1h0M215.3,572.3h0M217.7,567.7h0M219.7,575.5h0M212.8,565.2h0M213.4,568.1h0M219.6,555.2h0M215.7,537.7h0M213.6,556.3h0M219.8,575.1h0M215.6,561.7h0M219.4,570.3h0M218.1,573.8h0M217.8,561.7h0M215.6,571.3h0M215.6,560.0h0M215.6,568.0h0M214.0,560.3h0M218.1,571.3h0M218.2,549.6h0M215.6,564.5h0M215.8,566.8h0M219.5,558.8h0M217.9,569.8h0M213.0,565.6h0M216.5,576.7h0M213.4,571.6h0M216.2,532.2h0M216.8,570.5h0M213.4,561.9h0M212.9,537.4h0M215.7,556.8h0M216.2,567.4h0M219.7,566.0h0M219.4,564.4h0M219.3,567.4h0M218.0,524.8h0M214.9,570.7h0M216.3,571.9h0M217.7,568.4h0M215.6,570.7h0M217.8,563.6h0M218.4,574.7h0M213.1,557.5h0M213.1,573.9h0M215.0,572.2h0M215.5,574.6h0M217.8,556.3h0M218.0,545.2h0M213.0,562.1h0M219.3,559.9h0M213.3,561.8h0M215.4,573.1h0M218.7,567.1h0M213.2,557.4h0M213.4,570.5h0M219.5,556.5h0M215.7,576.3h0M213.2,568.9h0M218.1,557.7h0M218.9,565.9h0M216.0,575.3h0M217.8,567.8h0M213.3,548.8h0M217.9,529.6h0M215.8,575.3h0M219.3,565.3h0M218.2,556.1h0M219.4,572.4h0M219.8,565.0h0M218.8,565.2h0M212.2,573.5h0M216.6,553.7h0M217.7,558.5h0M218.1,572.5h0M215.5,571.2h0M212.8,572.7h0M218.0,569.1h0M219.7,567.9h0M215.6,566.4h0M214.9,559.2h0M218.2,539.3h0M215.8,576.4h0M212.6,562.2h0M215.7,567.8h0M219.3,562.8h0M213.3,534.2h0M215.8,574.9h0M218.7,538.9h0M219.4,563.7h0M215.4,574.8h0M218.2,575.0h0M219.1,561.2h0M215.8,574.1h0M218.1,545.5h0M213.2,573.1h0M213.1,574.2h0M215.9,576.3h0M220.0,569.9h0M215.8,535.4h0M213.2,557.1h0M215.8,544.7h0M217.0,524.5h0M213.0,566.1h0M218.2,562.7h0M213.2,549.1h0M213.2,527.2h0M215.8,576.1h0M213.0,549.0h0M219.3,545.8h0M212.9,560.1h0M219.6,561.9h0M219.4,574.5h0M218.1,574.1h0M219.3,567.3h0M218.0,577.2h0M219.2,558.9h0M219.4,566.7h0M219.5,561.7h0M219.8,563.3h0M217.9,571.7h0M219.3,512.0h0M215.8,570.1h0M213.5,570.8h0M219.6,571.3h0M215.5,575.8h0M215.9,559.9h0M218.0,547.9h0M213.0,567.9h0M218.3,568.2h0M218.0,542.9h0M219.4,570.2h0M219.2,570.0h0M213.1,554.5h0M218.2,540.0h0M216.0,569.2h0M219.6,566.7h0M219.7,576.6h0M217.7,547.0h0M219.5,570.2h0M212.0,564.2h0M217.3,570.6h0M213.3,563.5h0M215.5,542.9h0M219.0,574.2h0M218.0,572.6h0M218.2,572.6h0M213.2,547.6h0M213.1,568.3h0M212.7,569.4h0M218.2,574.9h0M215.0,552.8h0M215.5,529.8h0M218.2,574.8h0M213.4,561.5h0M219.8,567.3h0M215.5,554.9h0M218.1,576.0h0M219.4,573.7h0M215.9,558.6h0M213.4,569.2h0M218.0,551.4h0M219.4,568.8h0" stroke="#7f7f7f" stroke-width="1.53" stroke-linecap="round" fill="none"/>
<path d="M213.7,480.4h0" stroke="#505050" stroke-width="1.70" stroke-linecap="round" fill="none"/>
<path d="M220.9,629.0L220.9,551.0L221.4,551.3L221.9,553.5L222.4,552.8L222.9,553.2L223.4,550.8L223.9,553.1L224.4,550.3L224.9,550.9L225.4,552.1L225.8,551.1L226.3,553.6L226.8,549.3L227.3,549.6L227.8,550.3L228.3,548.6L228.8,546.6L229.3,548.3L229.8,547.4L230.3,550.4L230.3,629.0Z" fill="#ff8000"/>
<path d="M227.4,557.9h0M223.6,555.2h0M223.6,551.3h0M223.5,551.9h0M223.8,557.0h0M221.4,559.8h0M224.1,555.6h0M229.1,549.2h0M223.7,554.5h0M228.2,560.3h0M225.0,554.9h0M225.6,561.4h0M227.7,552.2h0M222.0,555.2h0M229.5,548.0h0" stroke="#fff" stroke-width="1.1" stroke-linecap="round" fill="none"/>
<path d="M225.2,544.7h0M224.7,537.9h0M227.6,540.5h0M223.4,545.4h0M222.6,532.9h0M226.6,544.4h0M227.5,539.0h0M223.1,539.1h0M225.9,549.4h0M227.8,534.0h0M226.6,536.3h0M221.7,546.6h0M229.1,522.2h0M221.9,540.8h0M228.0,540.5h0M221.6,542.5h0M227.7,535.8h0M221.8,547.6h0M222.4,546.2h0M225.5,508.8h0M223.2,537.0h0M223.1,546.0h0M222.5,546.8h0M226.4,542.5h0M228.1,538.4h0M221.9,534.8h0M225.2,539.0h0M223.1,528.0h0M226.4,543.0h0M226.5,548.9h0M225.9,516.3h0M221.8,549.7h0M224.8,545.5h0M229.5,538.3h0M223.0,551.8h0M229.0,502.1h0M227.0,522.9h0M226.8,545.3h0M227.7,537.1h0M221.8,540.3h0M221.9,547.6h0M225.0,550.8h0M227.0,533.4h0M222.0,548.0h0M227.1,544.9h0M223.6,546.6h0M223.4,517.1h0M223.4,545.6h0M226.4,546.7h0M224.4,524.3h0M227.7,530.0h0M222.7,538.1h0M222.0,544.7h0M226.6,536.3h0M226.3,535.0h0M226.7,535.3h0M224.5,536.1h0M224.9,548.5h0M226.9,546.3h0M225.6,550.6h0M223.4,535.8h0M221.7,527.8h0M223.7,536.4h0M225.2,547.6h0M222.6,541.7h0M227.5,550.3h0M222.9,552.4h0M223.5,529.0h0M228.1,545.7h0M226.9,545.8h0M227.7,542.1h0M226.5,525.4h0M226.4,551.4h0M225.3,550.5h0M225.0,544.8h0M222.0,546.4h0M223.5,547.5h0M226.5,510.9h0M228.9,541.6h0M222.8,548.4h0M227.0,543.8h0M225.0,508.5h0M222.0,549.5h0M226.7,545.4h0M227.7,517.6h0M225.0,532.5h0M222.0,543.7h0M225.3,551.8h0M226.9,548.1h0M225.0,542.2h0M228.7,545.9h0M228.2,529.7h0M228.1,543.3h0M222.1,535.9h0" stroke="#ff8000" stroke-width="1.61" stroke-linecap="round" fill="none"/>
<path d="M230.3,629.0L230.3,558.9L230.8,556.5L231.3,556.9L231.8,556.9L232.3,557.8L232.9,555.2L233.4,554.3L233.9,557.0L234.4,556.5L234.9,558.8L235.4,555.5L235.9,558.6L236.4,558.7L236.9,557.4L237.4,556.6L238.0,555.4L238.5,554.5L239.0,556.0L239.5,557.9L240.0,558.4L240.0,629.0Z" fill="#0000ff"/>
<path d="M232.2,559.1h0M237.4,559.5h0M232.4,562.7h0M235.7,561.9h0M233.0,557.0h0M231.3,569.9h0M238.3,555.2h0M231.4,560.2h0M234.5,558.9h0M234.8,566.7h0M237.7,557.2h0M236.3,559.4h0M234.9,565.3h0M232.4,568.3h0M238.5,556.7h0M236.9,558.0h0M234.6,566.0h0" stroke="#fff" stroke-width="1.1" stroke-linecap="round" fill="none"/>
<path d="M231.4,550.0h0M238.7,547.6h0M239.2,552.7h0M232.2,524.9h0M235.7,538.6h0M237.0,548.5h0M236.4,543.4h0M236.4,535.2h0M234.8,547.3h0M231.8,555.4h0M233.4,548.3h0M238.5,552.7h0M233.9,546.7h0M238.6,546.7h0M234.7,541.4h0M236.8,537.7h0M239.1,557.2h0M231.8,514.9h0M236.0,551.8h0M232.3,556.9h0M233.5,520.8h0M233.8,511.0h0M239.1,554.6h0M231.8,540.3h0M231.6,554.7h0M239.2,534.3h0M236.4,538.4h0M231.9,555.0h0M233.8,549.4h0M233.6,550.1h0M236.7,544.4h0M232.0,548.7h0M236.8,553.4h0M232.0,556.2h0M232.2,529.1h0M232.0,536.4h0M236.3,553.3h0M238.8,539.5h0M236.7,538.0h0M231.6,544.3h0M239.0,539.3h0M238.4,545.2h0M237.6,541.6h0M231.7,555.6h0M238.7,553.6h0M239.2,549.9h0M238.7,531.0h0M239.2,553.8h0M232.0,521.1h0M232.1,531.7h0M231.1,546.4h0M238.9,546.1h0M239.2,557.1h0M233.6,535.5h0M236.5,544.6h0M236.6,532.5h0M236.2,557.9h0M238.7,538.4h0M236.3,488.8h0M237.6,498.9h0M238.9,555.8h0M231.8,553.7h0M233.3,531.2h0M238.9,533.8h0M233.2,555.0h0M236.5,556.2h0M233.3,552.7h0M233.7,549.4h0M238.8,550.3h0M233.8,524.1h0M233.6,522.2h0M231.1,549.5h0M239.0,516.7h0M238.9,553.9h0M233.8,539.4h0M236.2,551.5h0M232.1,525.2h0M232.0,526.3h0M237.1,541.3h0M233.5,547.1h0M231.7,530.7h0M232.1,544.2h0M232.0,548.7h0M233.7,505.5h0M233.5,552.3h0M233.6,495.7h0M236.2,554.0h0M236.2,523.8h0M233.5,550.4h0M233.3,541.8h0M233.4,548.1h0M236.3,501.9h0M233.7,540.3h0M236.0,540.7h0M231.8,551.7h0M239.2,521.1h0M235.7,546.9h0M239.2,503.9h0M231.9,547.8h0M231.8,548.8h0M236.1,506.0h0M237.1,555.0h0M233.7,523.4h0M232.1,554.0h0M239.1,516.7h0M232.1,550.6h0M233.5,515.6h0M236.6,543.3h0M239.0,555.5h0M232.5,528.3h0M238.9,547.9h0M236.3,542.3h0M236.6,556.4h0M231.9,549.7h0M231.7,536.6h0M231.3,554.2h0M231.8,529.7h0M236.9,549.5h0M231.4,550.5h0M234.0,555.4h0M232.0,507.6h0M232.2,555.4h0M233.5,527.8h0M236.7,549.4h0M238.8,534.7h0M236.2,535.1h0M233.5,520.9h0M233.6,544.9h0M233.5,536.6h0M231.8,552.5h0M232.3,553.8h0M239.1,542.5h0M236.4,556.2h0M236.4,537.1h0M233.8,547.5h0M238.8,539.2h0M236.7,525.7h0M237.0,549.3h0M233.5,542.2h0M232.5,524.5h0M234.9,533.6h0M233.7,541.5h0M238.9,553.5h0M233.7,531.4h0M237.7,515.3h0M236.7,554.7h0M238.7,548.5h0M239.0,556.2h0M233.9,540.5h0M231.4,543.6h0M239.1,547.0h0M231.8,533.2h0M233.3,540.1h0M232.4,546.7h0M236.1,546.5h0M239.2,532.7h0M233.2,555.2h0M233.9,535.7h0M233.8,551.9h0M236.4,556.7h0M233.6,553.7h0M231.8,555.7h0M232.0,545.6h0M239.1,553.3h0M236.6,539.1h0M236.5,550.3h0M238.9,534.0h0M236.4,501.5h0M239.1,550.8h0M233.7,528.6h0M233.8,513.2h0M233.7,552.3h0M233.9,535.7h0M236.0,516.2h0" stroke="#0000ff" stroke-width="1.70" stroke-linecap="round" fill="none"/>
<path d="M240.0,629.0L240.0,555.6L240.5,556.0L241.0,552.8L241.5,553.0L242.0,552.9L242.5,554.6L243.0,552.3L243.5,548.0L244.0,550.6L244.4,549.3L244.9,549.4L245.4,547.7L245.9,551.9L246.4,551.8L246.9,554.1L247.4,554.7L247.9,556.0L248.4,551.4L248.4,629.0Z" fill="#7f7f7f"/>
<path d="M244.4,551.1h0M247.2,556.3h0M244.3,559.5h0M247.0,558.6h0M243.2,553.8h0M243.2,554.8h0M242.5,570.3h0M244.5,553.5h0M240.9,557.9h0M244.7,561.9h0M240.8,558.0h0M241.3,557.2h0M242.8,572.5h0M242.7,569.7h0" stroke="#fff" stroke-width="1.1" stroke-linecap="round" fill="none"/>
<path d="M241.2,550.4h0M242.8,553.3h0M243.8,547.4h0M242.9,553.5h0M245.5,546.8h0M247.2,547.1h0M244.2,543.7h0M241.8,540.6h0M245.9,538.1h0M244.3,541.5h0M243.0,515.7h0M240.7,549.9h0M243.6,515.0h0M240.7,555.5h0M240.7,542.7h0M244.4,525.5h0M242.5,545.5h0M246.0,546.2h0M247.3,556.0h0M245.8,519.1h0M247.0,552.5h0M244.5,506.0h0M244.1,549.6h0M242.4,525.4h0M247.3,555.6h0M242.8,548.8h0M247.6,541.8h0M245.6,492.2h0M242.6,545.4h0M242.4,537.6h0M242.3,536.5h0M246.2,524.5h0M247.6,544.9h0M245.5,551.8h0M241.7,550.0h0M247.4,533.7h0M245.3,536.8h0M244.4,524.4h0M242.3,526.3h0M247.5,546.8h0M245.0,507.4h0M245.4,546.9h0M245.5,545.6h0M246.9,550.8h0M245.4,536.0h0M244.2,528.7h0M244.3,529.8h0M244.2,505.1h0M246.0,537.7h0M241.0,538.4h0M241.6,550.0h0M240.8,509.2h0M242.7,538.0h0M241.6,521.0h0M244.0,544.5h0M242.3,546.3h0M240.8,551.1h0M241.2,524.8h0M243.9,542.0h0M245.3,512.4h0M242.5,540.9h0M245.9,496.0h0M245.8,483.6h0M244.3,521.8h0M245.7,533.2h0M245.8,541.6h0M244.4,546.5h0M242.8,543.3h0M247.2,538.1h0M242.0,551.4h0M242.2,536.3h0M242.9,523.0h0M244.4,535.7h0M245.3,532.2h0M247.7,542.8h0M247.5,554.5h0M245.2,525.9h0M247.3,534.9h0M244.0,531.0h0M240.7,555.4h0M247.5,541.6h0M240.7,554.6h0M247.7,547.3h0M242.8,545.3h0M244.1,533.9h0M242.4,544.0h0M244.6,530.5h0M242.8,550.0h0M242.8,550.1h0M247.4,546.3h0M245.5,533.6h0M244.2,539.0h0M240.9,554.9h0M240.7,501.4h0M242.7,551.5h0M244.1,546.9h0M244.3,527.7h0M247.5,554.7h0M245.8,521.8h0M242.8,552.9h0M247.2,539.0h0M242.8,550.2h0M245.3,542.1h0M244.0,541.6h0M247.5,539.7h0M247.4,517.1h0M244.0,522.7h0M242.4,516.5h0M241.1,544.0h0M243.8,544.5h0M247.2,525.3h0M244.0,539.8h0M242.9,550.6h0M247.5,547.2h0M242.9,552.5h0M247.0,535.8h0M244.5,549.1h0M244.2,549.1h0M244.2,531.3h0M245.6,550.5h0M241.2,535.0h0M243.4,525.3h0M241.1,519.7h0M244.1,499.8h0M244.0,540.5h0M242.7,554.0h0M242.6,541.2h0M243.8,539.0h0M244.2,548.6h0M241.1,549.0h0M240.7,549.6h0M241.2,533.0h0M244.1,539.4h0M241.4,552.6h0M247.4,546.6h0M240.8,541.8h0M244.8,537.0h0M243.1,542.9h0M241.0,551.7h0M247.5,544.3h0M244.3,539.2h0M243.9,550.2h0M241.7,541.8h0M244.4,543.9h0M241.0,547.6h0M241.1,541.4h0M243.4,544.1h0M246.1,534.9h0M247.2,555.2h0M242.8,545.6h0M244.1,528.6h0" stroke="#7f7f7f" stroke-width="1.53" stroke-linecap="round" fill="none"/>
<path d="M248.4,629.0L248.4,556.5L248.9,553.4L249.4,555.7L249.9,555.0L250.4,554.5L250.9,556.9L251.4,556.0L251.9,555.5L252.4,555.2L252.9,554.0L253.4,553.6L253.9,549.1L254.4,547.4L254.9,546.5L255.4,543.4L255.9,545.7L255.9,629.0Z" fill="#ff8000"/>
<path d="M250.5,558.1h0M250.5,560.7h0M254.2,550.4h0M252.0,563.2h0M249.1,564.8h0M252.0,562.2h0M254.4,559.3h0M251.7,567.3h0M252.1,564.4h0M253.5,564.5h0M249.2,566.1h0M250.0,559.9h0" stroke="#fff" stroke-width="1.1" stroke-linecap="round" fill="none"/>
<path d="M249.6,537.0h0M252.5,534.4h0M249.6,543.5h0M252.8,503.9h0M252.6,546.4h0M252.4,507.8h0M252.7,539.1h0M252.1,546.9h0M252.4,541.4h0M250.3,548.7h0M249.5,540.8h0M253.8,542.9h0M249.7,528.7h0M252.9,542.2h0M249.9,541.5h0M255.1,538.4h0M249.6,542.3h0M252.2,548.4h0M249.9,519.8h0M249.5,525.2h0M252.9,533.4h0M249.5,552.1h0M252.4,554.9h0M252.5,547.1h0M253.1,550.7h0M252.3,528.6h0M252.6,550.7h0M251.9,555.1h0M252.2,488.7h0M252.6,538.4h0M250.1,530.2h0M252.5,551.2h0M249.5,546.5h0M252.1,509.7h0M249.8,528.9h0M252.3,542.8h0M252.6,552.8h0M249.5,550.5h0M249.9,542.3h0M250.2,538.1h0M249.4,551.8h0M249.6,546.9h0M249.9,549.3h0M252.6,552.6h0M249.8,526.6h0M252.5,549.5h0M252.7,553.0h0M254.8,519.9h0M249.7,527.1h0M252.5,541.5h0M250.8,552.9h0M252.8,549.5h0M252.7,532.4h0M253.1,519.4h0M252.8,542.2h0M253.4,527.9h0M249.8,555.2h0M249.2,503.8h0M249.7,545.0h0M249.7,545.5h0M253.0,526.8h0M252.6,542.3h0M250.1,553.3h0M249.3,538.9h0M252.6,517.1h0M252.0,551.8h0M249.7,537.7h0M249.2,551.1h0M250.1,550.7h0M253.9,537.9h0M253.6,537.8h0M249.6,553.4h0M252.6,545.9h0M249.5,529.3h0" stroke="#ff8000" stroke-width="1.61" stroke-linecap="round" fill="none"/>
<path d="M255.5,357.1h0M255.5,369.5h0M255.5,390.5h0M255.2,391.8h0M255.3,398.1h0M255.0,411.3h0M255.6,420.1h0M255.2,426.0h0M255.4,431.0h0M255.2,444.4h0M255.6,450.8h0M255.5,452.5h0M255.5,466.5h0M255.5,474.0h0M255.4,537.0h0M255.3,534.6h0M255.2,532.1h0M255.5,529.7h0M255.1,527.3h0M255.5,524.8h0M255.4,522.4h0M255.1,520.0h0M255.4,517.5h0M255.4,515.1h0M255.2,512.7h0M255.4,510.2h0M255.3,507.8h0M255.5,505.4h0M255.6,503.0h0M255.3,500.5h0M255.6,498.1h0M255.4,495.7h0M255.3,493.2h0M255.4,490.8h0M255.2,488.4h0M255.4,485.9h0M255.6,483.5h0M255.4,481.1h0M255.3,478.6h0" stroke="#f07c10" stroke-width="2.10" stroke-linecap="round" fill="none"/>
<path d="M255.9,629.0L255.9,542.2L256.4,541.5L256.9,542.7L257.4,540.3L257.9,541.5L258.4,539.0L258.9,539.5L259.4,539.4L259.8,540.1L260.3,542.3L260.8,541.3L261.3,539.3L261.8,540.5L262.3,539.4L262.8,537.5L263.3,537.6L263.3,629.0Z" fill="#0000ff"/>
<path d="M258.6,542.8h0M260.8,546.7h0M262.3,541.4h0M257.9,541.0h0M259.1,544.1h0M261.9,539.8h0M260.4,551.8h0M261.7,541.2h0M259.5,553.9h0M259.7,546.3h0M257.4,555.5h0M259.5,540.4h0M259.0,539.6h0" stroke="#fff" stroke-width="1.1" stroke-linecap="round" fill="none"/>
<path d="M259.8,532.1h0M261.1,513.4h0M261.1,531.8h0M259.7,533.7h0M261.0,526.1h0M258.9,538.1h0M259.4,519.3h0M258.0,530.4h0M260.8,527.3h0M259.2,503.5h0M259.4,529.9h0M260.9,536.2h0M257.6,527.0h0M262.2,502.7h0M259.5,535.8h0M259.4,537.3h0M257.6,498.1h0M261.4,523.4h0M259.4,523.5h0M257.6,511.2h0M259.4,536.2h0M261.3,531.7h0M261.0,532.9h0M261.0,527.8h0M261.3,524.9h0M259.4,532.4h0M259.4,531.5h0M257.8,538.3h0M261.1,538.0h0M261.4,511.6h0M257.7,522.6h0M261.3,503.4h0M262.0,536.1h0M257.4,531.2h0M261.1,535.2h0M257.6,514.1h0M260.7,539.3h0M259.0,538.5h0M259.2,533.1h0M259.6,507.3h0M256.6,521.0h0M258.2,531.5h0M259.3,493.5h0M259.8,516.3h0M262.1,529.1h0M259.7,492.0h0M259.5,532.1h0M261.2,492.1h0M259.4,539.1h0M257.4,509.6h0M261.2,523.2h0M257.8,510.1h0M258.5,504.9h0M259.4,537.8h0M258.0,493.8h0M262.3,537.4h0M260.9,530.0h0M258.9,538.3h0M259.6,486.1h0M259.2,538.3h0M259.2,531.0h0M257.6,519.4h0M261.0,536.1h0M259.5,530.3h0M259.6,537.4h0M259.4,532.1h0M259.3,537.0h0M258.1,534.7h0M261.2,528.1h0M259.4,531.5h0M261.9,503.2h0M258.9,513.8h0M259.2,531.8h0M260.0,529.9h0M259.4,514.5h0M257.5,513.7h0M260.4,531.1h0M259.5,526.2h0M260.0,523.1h0M261.2,517.6h0M258.1,522.2h0M258.1,532.9h0M260.0,539.1h0M259.7,539.6h0M258.9,518.8h0M258.3,526.3h0M258.4,534.1h0M261.2,533.5h0M257.8,496.5h0M261.0,511.3h0M259.6,527.2h0M258.0,528.3h0M261.2,531.4h0M258.6,511.9h0M259.4,539.1h0M261.0,521.0h0M258.4,535.3h0M259.7,500.3h0M259.0,529.6h0M260.7,537.2h0M257.9,537.1h0M257.8,530.5h0M259.5,508.5h0M261.2,522.9h0M258.0,521.7h0M260.8,534.0h0M259.2,534.1h0M259.3,533.7h0M259.6,525.5h0M261.0,495.9h0M257.9,531.9h0M261.2,534.3h0M258.0,510.1h0M258.3,525.9h0M258.8,536.4h0M257.8,530.7h0M259.1,485.8h0M257.5,539.6h0M257.5,536.5h0M259.6,510.7h0M257.9,534.5h0M261.1,524.2h0M257.8,531.5h0M261.1,523.9h0M258.0,535.9h0M259.7,520.9h0M262.2,497.4h0M259.2,518.0h0M257.8,532.8h0M261.3,536.1h0M261.5,530.4h0M261.4,488.6h0M260.5,502.1h0" stroke="#0000ff" stroke-width="1.70" stroke-linecap="round" fill="none"/>
<path d="M260.7,448.7h0M260.9,474.0h0M260.8,481.1h0M261.1,494.3h0M261.3,501.9h0M260.9,530.9h0M260.8,527.3h0M261.0,523.6h0M260.8,520.0h0M261.2,516.3h0M261.2,512.7h0M260.9,509.0h0M260.7,505.4h0M262.4,503.4h0M262.3,501.3h0" stroke="#0000ff" stroke-width="2.20" stroke-linecap="round" fill="none"/>
<path d="M263.3,629.0L263.3,565.6L263.8,564.7L264.3,563.5L264.8,566.6L265.3,565.9L265.8,565.4L266.3,567.1L266.8,563.0L267.2,561.6L267.7,563.4L268.2,560.4L268.7,561.3L269.2,562.7L269.7,564.6L270.2,564.9L270.7,563.8L270.7,629.0Z" fill="#7f7f7f"/>
<path d="M264.1,569.4h0M269.2,574.9h0M264.4,571.8h0M266.8,568.7h0M264.6,565.0h0M265.5,566.6h0M266.9,564.8h0M266.6,563.8h0M267.8,573.2h0M268.0,569.0h0M264.7,568.4h0M266.9,564.5h0M269.4,564.9h0" stroke="#fff" stroke-width="1.1" stroke-linecap="round" fill="none"/>
<path d="M267.1,539.5h0M265.2,555.6h0M268.9,520.0h0M264.3,562.0h0M269.3,558.7h0M264.3,546.3h0M264.6,547.5h0M264.4,545.8h0M264.5,553.5h0M264.2,549.9h0M267.4,545.9h0M270.0,557.3h0M269.2,559.4h0M269.3,557.6h0M269.0,539.4h0M267.6,559.9h0M267.7,545.8h0M269.8,560.1h0M268.9,554.3h0M268.0,546.5h0M265.1,561.3h0M267.3,552.1h0M268.8,559.1h0M267.3,529.0h0M264.4,549.2h0M264.9,563.1h0M267.4,545.0h0M265.6,556.2h0M267.0,553.6h0M267.0,553.0h0M268.9,551.1h0M264.5,564.3h0M267.9,528.0h0M269.1,558.1h0M264.4,548.5h0M269.1,560.3h0M264.5,533.9h0M268.7,543.2h0M269.6,562.3h0M269.8,564.4h0M266.8,531.7h0M269.3,550.0h0M269.2,549.8h0M264.4,559.9h0M265.2,554.6h0M264.3,556.2h0M265.4,553.6h0M264.4,535.1h0M267.4,552.3h0M267.7,562.8h0M264.2,562.9h0M269.0,556.0h0M267.2,546.1h0M264.5,560.3h0M267.4,561.6h0M267.6,554.9h0M269.2,539.1h0M264.4,518.8h0M269.2,556.3h0M268.7,515.0h0M269.9,557.4h0M264.4,559.6h0M267.8,552.2h0M268.3,531.9h0M269.1,553.7h0M267.2,513.7h0M267.6,562.6h0M267.6,556.0h0M267.0,551.9h0M267.2,546.0h0M264.5,547.9h0M264.2,538.6h0M264.3,562.0h0M264.9,546.0h0M268.9,562.0h0M264.6,563.2h0M264.7,562.8h0M269.0,547.0h0M269.0,551.8h0M267.6,510.3h0M267.2,558.0h0M267.7,539.6h0M268.0,541.4h0M266.7,538.5h0M269.2,560.0h0M267.1,513.9h0M266.9,559.2h0M264.5,532.6h0M269.2,549.5h0M269.2,561.9h0M267.9,549.8h0M269.6,560.6h0M264.7,561.1h0M264.6,542.7h0M269.1,552.4h0M267.6,546.4h0M264.4,550.8h0M267.6,554.7h0M267.5,551.3h0M266.2,565.2h0M267.2,553.8h0M267.2,560.6h0M268.7,543.8h0M267.4,551.7h0M265.1,527.9h0M267.6,557.4h0M269.3,528.9h0M267.2,552.7h0M264.5,564.4h0M267.4,561.9h0M267.6,562.2h0M264.5,549.3h0M267.7,534.8h0M264.5,560.0h0M264.0,538.4h0M267.7,524.5h0M265.0,543.3h0M267.6,560.9h0M268.8,549.8h0M264.6,563.4h0M269.8,563.0h0M269.4,562.2h0M267.6,557.2h0M264.8,546.5h0M264.5,539.4h0M269.1,545.8h0M264.4,556.8h0M264.7,526.6h0M267.7,555.9h0M267.6,551.3h0M266.8,541.9h0M269.0,546.1h0M269.5,523.6h0" stroke="#7f7f7f" stroke-width="1.53" stroke-linecap="round" fill="none"/>
<path d="M270.7,629.0L270.7,563.2L271.2,563.6L271.7,563.9L272.2,563.0L272.7,563.7L273.2,565.1L273.7,566.7L274.2,567.6L274.7,566.5L275.1,565.2L275.6,565.2L276.1,566.4L276.6,564.9L277.1,563.5L277.6,563.0L278.1,561.5L278.6,563.5L279.1,560.4L279.1,629.0Z" fill="#ff8000"/>
<path d="M272.8,566.6h0M272.9,571.3h0M277.7,576.3h0M274.8,575.4h0M275.3,565.6h0M272.0,569.0h0M276.1,568.6h0M275.4,575.1h0M271.9,573.3h0M271.8,572.1h0M274.6,566.8h0M273.2,566.1h0M275.8,577.3h0M278.2,567.1h0" stroke="#fff" stroke-width="1.1" stroke-linecap="round" fill="none"/>
<path d="M272.9,557.7h0M276.6,560.5h0M277.5,553.4h0M273.2,561.8h0M277.8,561.7h0M276.5,543.1h0M276.5,534.6h0M277.9,559.9h0M273.4,528.5h0M272.6,550.7h0M277.6,534.3h0M273.5,562.2h0M276.7,563.2h0M275.1,553.3h0M276.5,556.6h0M273.7,547.1h0M278.4,552.7h0M273.5,560.4h0M272.6,555.8h0M271.7,547.0h0M277.9,519.7h0M273.6,560.6h0M277.8,539.7h0M272.4,563.0h0M276.8,556.1h0M272.9,552.8h0M273.5,563.0h0M277.0,528.5h0M273.3,552.6h0M276.4,544.6h0M277.6,541.1h0M276.4,558.9h0M278.1,514.3h0M275.1,550.2h0M272.9,537.1h0M271.8,540.7h0M273.6,564.8h0M273.7,529.7h0M272.6,560.8h0M272.8,551.8h0M276.5,549.4h0M276.6,558.3h0M276.7,547.9h0M273.7,566.6h0M276.6,539.6h0M277.6,544.0h0M272.8,554.4h0M273.4,556.9h0M276.4,557.2h0M273.5,558.3h0M273.4,553.6h0M273.5,562.4h0M276.9,547.8h0M276.4,517.3h0M272.5,542.3h0M272.7,532.6h0M276.7,560.8h0M276.4,528.3h0M276.4,550.1h0M276.3,552.6h0M276.4,561.6h0M273.7,559.8h0M273.0,553.8h0M273.9,566.3h0M272.2,562.7h0M272.2,544.9h0M276.6,560.2h0M276.4,560.3h0M276.5,557.8h0M276.5,537.7h0M273.7,557.1h0M275.7,538.9h0M273.4,553.8h0M276.7,548.7h0M272.8,561.9h0M272.6,536.5h0M273.7,564.4h0M276.2,544.4h0M276.7,553.0h0M276.5,516.8h0M272.7,537.2h0M273.3,553.8h0M276.5,551.0h0M273.9,562.1h0" stroke="#ff8000" stroke-width="1.61" stroke-linecap="round" fill="none"/>
<path d="M279.1,629.0L279.1,562.8L279.6,561.2L280.1,563.1L280.6,563.8L281.1,562.0L281.6,559.3L282.1,561.2L282.6,560.9L283.0,558.2L283.5,560.0L284.0,556.6L284.5,558.9L285.0,560.5L285.5,564.0L286.0,565.6L286.5,567.0L286.5,629.0Z" fill="#0000ff"/>
<path d="M283.1,569.7h0M279.8,563.5h0M284.9,564.0h0M283.0,562.1h0M282.6,564.1h0M283.8,557.5h0M280.8,578.3h0M283.9,556.8h0M283.0,559.3h0M281.8,561.8h0M282.7,563.1h0M281.7,565.0h0M284.7,566.0h0" stroke="#fff" stroke-width="1.1" stroke-linecap="round" fill="none"/>
<path d="M282.3,553.3h0M280.5,558.1h0M282.3,544.4h0M282.4,553.5h0M284.8,563.4h0M282.1,555.7h0M284.6,542.1h0M282.7,545.7h0M279.9,523.1h0M285.4,560.7h0M280.0,527.5h0M282.5,543.1h0M279.8,557.1h0M284.4,557.5h0M282.3,556.2h0M283.0,546.0h0M284.3,558.7h0M282.2,538.3h0M280.0,551.0h0M284.6,558.3h0M284.4,541.8h0M284.6,558.4h0M284.5,522.0h0M285.1,559.3h0M282.0,554.7h0M281.6,556.3h0M282.0,557.9h0M285.1,542.9h0M280.6,554.4h0M282.5,507.9h0M279.8,557.2h0M280.0,556.4h0M282.1,540.2h0M284.5,559.7h0M284.7,525.5h0M279.9,562.5h0M280.3,558.6h0M280.1,535.9h0M282.1,554.3h0M285.3,565.1h0M282.1,560.1h0M282.5,537.5h0M282.3,543.3h0M282.1,533.7h0M280.0,555.4h0M280.0,540.1h0M282.1,524.1h0M282.3,551.3h0M285.1,564.0h0M284.8,560.4h0M280.0,548.3h0M285.0,560.8h0M283.3,553.4h0M282.3,518.1h0M280.1,550.1h0M279.8,541.5h0M285.2,540.2h0M282.2,528.3h0M279.8,547.8h0M282.4,540.7h0M280.0,536.6h0M282.0,516.6h0M284.7,545.2h0M279.8,540.6h0M280.1,553.4h0M279.9,554.0h0M279.9,542.2h0M284.8,533.0h0M284.7,556.1h0M285.1,562.9h0M282.7,555.5h0M284.5,550.4h0M279.8,560.3h0M284.3,526.8h0M284.6,517.8h0M280.6,551.4h0M284.1,542.5h0M284.7,525.8h0M283.2,530.6h0M280.1,541.7h0M284.5,521.5h0M279.9,549.5h0M279.8,561.9h0M282.4,530.9h0M282.4,528.4h0M280.1,556.9h0M284.8,531.8h0M281.9,543.9h0M284.1,549.4h0M281.8,504.3h0M279.9,548.9h0M284.2,554.8h0M283.9,541.7h0M282.2,543.8h0M280.1,557.0h0M284.7,560.4h0M281.5,555.4h0M284.2,552.4h0M284.5,550.5h0M282.2,534.5h0M284.6,544.5h0M283.2,531.8h0M284.5,556.7h0M284.7,547.5h0M284.7,554.7h0M280.4,544.8h0M285.6,550.1h0M279.8,516.7h0M281.7,541.4h0M284.9,550.5h0M284.8,563.0h0M281.8,543.9h0M284.5,531.5h0M279.8,562.7h0M282.4,519.9h0M282.4,559.1h0M284.6,549.5h0M284.4,531.2h0M284.4,538.2h0M284.4,554.8h0M282.3,560.3h0M281.7,539.2h0M282.2,560.7h0M282.1,530.1h0M284.3,522.5h0M279.9,548.6h0M284.8,559.4h0M282.5,558.6h0M284.5,542.4h0M280.1,559.7h0M285.1,546.3h0M280.3,550.7h0M280.3,540.4h0" stroke="#0000ff" stroke-width="1.70" stroke-linecap="round" fill="none"/>
<path d="M283.3,479.9h0M283.2,500.6h0M282.0,499.2h0" stroke="#0000ff" stroke-width="2.20" stroke-linecap="round" fill="none"/>
<path d="M286.5,629.0L286.5,568.2L287.0,572.9L287.5,569.5L288.0,568.5L288.4,567.7L288.9,567.2L289.4,568.6L289.9,574.8L290.4,573.7L290.9,575.4L291.3,572.7L291.8,573.6L292.3,573.6L292.8,572.5L292.8,629.0Z" fill="#7f7f7f"/>
<path d="M290.9,586.5h0M291.4,577.0h0M287.0,585.8h0M287.9,581.6h0M288.0,572.4h0M287.1,571.4h0M291.0,588.8h0M287.9,572.3h0M291.9,577.4h0M287.9,571.3h0M288.1,569.0h0" stroke="#fff" stroke-width="1.1" stroke-linecap="round" fill="none"/>
<path d="M289.9,571.7h0M291.2,555.8h0M288.8,565.5h0M289.5,549.3h0M289.2,530.4h0M287.4,552.4h0M287.5,564.8h0M289.4,548.2h0M288.7,543.5h0M290.8,567.9h0M288.2,552.8h0M291.4,554.4h0M289.2,544.7h0M291.2,558.5h0M290.3,519.6h0M287.4,565.1h0M287.7,564.3h0M287.2,557.4h0M291.9,568.9h0M291.1,551.3h0M290.7,564.6h0M287.7,566.4h0M289.5,555.7h0M290.7,568.0h0M289.7,550.0h0M287.2,534.9h0M287.2,553.7h0M287.5,520.7h0M287.6,572.1h0M288.3,563.3h0M288.9,563.4h0M287.6,571.7h0M290.1,567.0h0M287.5,550.0h0M287.5,569.4h0M287.2,539.5h0M289.3,541.1h0M287.8,565.1h0M287.2,543.1h0M291.0,556.5h0M287.4,549.5h0M289.1,555.1h0M287.2,565.7h0M287.9,567.5h0M287.3,540.1h0M289.4,542.5h0M290.8,563.3h0M287.7,535.7h0M290.9,523.3h0M287.4,544.2h0M287.3,566.9h0M289.5,567.4h0M290.8,561.0h0M287.8,549.2h0M287.5,553.4h0M290.9,564.0h0M291.5,573.0h0M287.2,556.2h0M291.0,545.7h0M291.9,562.5h0M290.8,549.4h0M287.9,562.7h0M288.1,564.7h0M289.3,561.1h0M289.1,567.0h0M291.2,556.8h0M290.9,552.4h0M287.4,558.1h0M287.4,544.4h0M289.3,558.7h0M289.0,542.7h0M287.2,557.2h0M287.6,552.6h0M287.2,554.4h0M287.2,566.7h0M291.9,570.2h0M287.3,566.5h0M291.4,569.8h0M288.9,544.6h0M289.8,560.4h0M289.9,566.8h0M287.7,556.6h0M289.3,558.9h0M291.0,510.2h0M287.2,567.7h0M289.2,563.8h0M288.9,562.6h0M291.0,552.6h0M291.2,562.8h0M287.9,555.2h0M290.7,555.5h0M289.6,517.8h0M289.4,552.9h0M289.0,539.1h0M290.5,567.8h0M287.6,570.6h0M287.4,538.4h0M289.2,563.5h0M287.4,565.0h0M291.2,569.9h0M288.6,524.7h0M289.0,566.2h0M290.6,566.1h0M289.3,558.7h0M287.2,560.9h0M289.1,534.7h0M291.1,520.4h0M291.2,557.5h0M289.6,551.0h0M287.3,565.9h0M290.9,510.2h0M291.8,571.7h0M290.6,564.2h0" stroke="#7f7f7f" stroke-width="1.53" stroke-linecap="round" fill="none"/>
<path d="M292.8,629.0L292.8,561.4L293.3,559.8L293.8,556.8L294.3,556.5L294.8,557.1L295.3,557.8L295.8,556.3L296.3,555.7L296.8,553.3L297.3,555.7L297.8,555.9L298.3,556.8L298.8,560.5L299.3,558.4L299.3,629.0Z" fill="#ff8000"/>
<path d="M296.8,561.0h0M296.7,553.5h0M295.9,567.0h0M293.6,564.0h0M295.0,558.2h0M295.2,560.0h0M297.5,566.0h0M295.9,560.2h0M296.3,561.5h0M298.8,558.5h0" stroke="#fff" stroke-width="1.1" stroke-linecap="round" fill="none"/>
<path d="M298.4,550.9h0M295.7,552.8h0M297.5,530.2h0M294.2,548.9h0M293.6,531.2h0M295.7,532.9h0M296.1,544.3h0M294.3,553.6h0M298.5,546.7h0M297.8,546.6h0M294.3,546.3h0M298.0,558.8h0M298.1,551.4h0M297.9,553.9h0M298.2,547.1h0M297.3,552.6h0M297.3,555.2h0M294.3,556.0h0M294.4,546.0h0M293.6,547.4h0M294.5,545.5h0M294.5,550.7h0M297.9,543.6h0M294.3,516.0h0M297.6,550.6h0M295.8,529.4h0M295.9,547.8h0M294.1,552.7h0M294.6,527.5h0M294.6,552.4h0M294.0,546.0h0M293.7,561.1h0M294.3,513.6h0M295.8,541.4h0M294.1,555.5h0M298.0,543.3h0M298.0,554.3h0M295.7,553.9h0M294.1,547.1h0M297.7,552.7h0M296.0,546.0h0M296.2,544.7h0M293.9,526.6h0M296.4,553.6h0M297.8,556.0h0M293.9,544.4h0M294.1,534.6h0M294.6,542.8h0M296.5,538.0h0M295.7,551.6h0M297.8,533.5h0M295.6,549.4h0M295.5,551.0h0M294.8,551.4h0M294.5,544.7h0M294.3,532.6h0M294.6,550.0h0M296.0,541.2h0M296.0,546.9h0M296.0,556.2h0M294.4,551.8h0M296.0,550.9h0M295.9,547.4h0M294.3,554.0h0M297.5,553.0h0" stroke="#ff8000" stroke-width="1.61" stroke-linecap="round" fill="none"/>
<path d="M299.3,629.0L299.3,544.3L299.8,545.4L300.3,546.1L300.7,545.8L301.2,546.9L301.7,545.8L302.2,545.5L302.7,546.8L303.2,548.8L303.6,545.6L304.1,545.5L304.6,545.3L304.6,629.0Z" fill="#0000ff"/>
<path d="M303.1,564.4h0M301.1,554.9h0M301.0,545.9h0M301.0,549.7h0M301.8,553.1h0M300.1,553.4h0M300.3,546.2h0M301.6,547.5h0M303.1,554.4h0" stroke="#fff" stroke-width="1.1" stroke-linecap="round" fill="none"/>
<path d="M300.2,533.9h0M303.6,538.5h0M302.0,503.1h0M301.0,545.0h0M302.4,521.0h0M300.0,538.8h0M302.0,542.3h0M301.3,526.2h0M302.3,541.5h0M302.1,541.6h0M301.8,526.0h0M300.2,543.9h0M302.0,542.7h0M302.2,524.5h0M302.0,533.2h0M300.4,521.5h0M301.5,541.5h0M303.8,510.3h0M301.9,540.7h0M300.1,536.3h0M302.2,476.9h0M300.3,539.2h0M300.4,530.4h0M301.9,545.3h0M302.1,540.2h0M302.0,491.5h0M300.0,520.7h0M302.0,545.1h0M300.3,500.8h0M300.1,529.2h0M300.0,526.7h0M300.0,517.8h0M302.1,502.0h0M302.5,504.2h0M302.3,534.6h0M300.0,508.6h0M302.2,473.3h0M302.5,483.8h0M301.8,539.0h0M300.3,543.1h0M302.3,533.3h0M300.2,536.3h0M302.6,514.7h0M300.0,536.0h0M302.2,540.5h0M302.4,545.8h0M301.8,540.1h0M302.2,505.9h0M300.1,527.4h0M300.7,540.8h0M300.0,544.2h0M300.0,510.1h0M303.7,532.2h0M302.3,532.1h0M303.2,526.4h0M300.0,539.5h0M302.2,540.8h0M302.0,544.3h0M302.4,536.9h0M302.2,531.8h0M300.0,532.9h0M302.4,483.1h0M301.6,529.6h0M301.2,537.4h0M300.0,540.9h0M303.8,534.6h0M302.1,535.3h0M302.5,497.3h0M302.8,523.4h0M303.4,537.3h0M302.6,512.8h0M302.0,532.7h0M302.3,544.6h0M301.9,531.8h0M301.8,543.8h0M302.1,535.5h0M301.9,544.3h0M300.0,535.5h0M302.0,481.0h0M302.1,541.2h0M302.3,484.9h0M302.7,543.2h0M302.0,545.4h0M300.0,544.1h0M302.2,533.5h0M303.4,526.5h0M300.0,514.4h0M303.7,543.1h0M301.3,527.2h0M302.6,546.2h0M302.6,535.4h0M300.1,507.5h0M302.7,528.8h0M300.1,540.6h0M302.3,532.7h0" stroke="#0000ff" stroke-width="1.70" stroke-linecap="round" fill="none"/>
<path d="M305.0,475.3h0M304.8,481.6h0M305.1,494.3h0M304.7,497.0h0M304.9,530.9h0M304.8,527.3h0M304.9,523.6h0M304.7,520.0h0M304.7,516.3h0M304.6,512.7h0M304.6,509.0h0M305.0,505.4h0M304.5,501.7h0" stroke="#0000ff" stroke-width="2.20" stroke-linecap="round" fill="none"/>
<path d="M304.6,629.0L304.6,557.2L305.1,558.7L305.6,560.8L306.1,560.5L306.5,556.4L307.0,558.2L307.5,556.4L308.0,555.8L308.5,555.5L308.9,555.7L309.4,558.4L309.9,556.5L310.4,557.9L310.4,629.0Z" fill="#7f7f7f"/>
<path d="M307.1,558.6h0M306.4,576.4h0M307.0,560.4h0M308.1,566.4h0M309.1,568.0h0M306.6,559.2h0M305.2,559.2h0M309.3,559.8h0M305.1,567.0h0M306.3,566.4h0" stroke="#fff" stroke-width="1.1" stroke-linecap="round" fill="none"/>
<path d="M309.2,556.4h0M306.6,553.8h0M308.9,522.2h0M306.1,550.7h0M306.0,546.9h0M308.8,554.3h0M307.0,556.5h0M306.1,527.9h0M306.4,548.7h0M306.2,559.1h0M306.6,551.2h0M306.7,552.7h0M309.0,545.6h0M306.3,559.7h0M306.0,539.6h0M309.3,539.4h0M308.7,549.8h0M306.0,539.4h0M309.1,553.2h0M305.9,546.2h0M308.8,551.8h0M306.3,539.8h0M308.6,551.6h0M308.2,547.7h0M306.3,531.0h0M305.8,541.8h0M307.4,529.4h0M308.5,508.2h0M305.8,516.4h0M305.8,552.6h0M306.4,545.6h0M308.7,538.6h0M305.7,544.2h0M308.9,551.7h0M306.4,547.0h0M306.1,545.4h0M306.8,556.4h0M308.6,555.1h0M309.2,554.8h0M306.2,553.3h0M306.3,557.0h0M308.5,555.6h0M306.7,535.9h0M308.7,533.9h0M308.9,537.1h0M309.1,555.7h0M309.0,551.1h0M308.4,531.8h0M306.3,529.7h0M309.0,545.2h0M306.1,543.7h0M309.0,546.3h0M309.0,542.4h0M308.7,554.1h0M308.8,506.5h0M306.6,502.9h0M306.2,517.3h0M306.9,529.4h0M305.6,536.8h0M306.7,544.5h0M308.9,548.5h0M306.3,560.1h0M307.9,548.5h0M306.1,529.8h0M309.1,547.4h0M308.8,539.4h0M306.4,530.6h0M309.7,506.3h0M308.0,525.9h0M305.9,541.6h0M309.2,537.5h0M308.7,550.2h0M308.6,537.7h0M309.0,532.0h0M308.9,518.8h0M306.2,558.5h0M308.7,531.2h0M308.7,555.4h0M306.3,520.2h0M305.9,556.1h0M306.1,550.9h0M306.3,556.6h0M305.8,552.2h0M306.6,550.8h0M309.4,518.4h0M306.1,551.5h0M309.0,553.1h0M308.5,547.7h0M305.9,542.6h0M306.1,558.9h0M309.1,530.4h0M306.4,555.7h0M305.8,552.3h0M308.9,554.7h0M309.4,546.0h0M305.8,550.9h0M309.2,509.5h0M305.9,555.1h0M309.0,556.4h0M306.2,537.5h0M306.2,539.3h0M309.2,550.1h0M306.2,560.7h0M308.9,531.1h0" stroke="#7f7f7f" stroke-width="1.53" stroke-linecap="round" fill="none"/>
<path d="M309.9,497.0h0" stroke="#505050" stroke-width="1.70" stroke-linecap="round" fill="none"/>
<path d="M310.4,629.0L310.4,562.4L310.9,562.9L311.4,564.7L311.8,565.2L312.3,566.3L312.8,565.9L313.3,563.7L313.8,563.8L314.3,563.2L314.7,562.6L315.2,563.9L315.7,562.1L315.7,629.0Z" fill="#ff8000"/>
<path d="M311.9,568.3h0M312.0,565.5h0M312.6,567.1h0M313.9,565.4h0M315.1,567.4h0M312.1,566.5h0M314.7,567.8h0M313.6,566.1h0M315.1,567.5h0" stroke="#fff" stroke-width="1.1" stroke-linecap="round" fill="none"/>
<path d="M313.8,558.3h0M311.2,557.8h0M311.2,541.8h0M311.2,557.6h0M311.4,562.2h0M314.5,560.4h0M314.0,553.2h0M314.2,544.9h0M311.4,534.1h0M311.1,548.4h0M311.2,562.2h0M314.1,545.9h0M311.5,548.0h0M311.1,560.6h0M314.1,558.1h0M314.3,556.7h0M314.7,547.4h0M313.9,548.8h0M314.2,533.6h0M311.5,544.9h0M313.2,561.2h0M311.5,551.7h0M311.3,557.9h0M311.1,553.0h0M312.2,556.4h0M314.2,559.9h0M311.2,539.5h0M314.0,558.7h0M311.1,552.5h0M311.4,520.7h0M314.1,563.0h0M314.0,560.2h0M311.2,548.8h0M311.5,531.6h0M311.5,562.7h0M313.9,543.8h0M311.3,554.4h0M313.9,535.1h0M314.4,543.3h0M314.0,557.5h0M314.1,548.8h0M312.4,566.0h0M314.3,560.0h0M314.0,545.2h0M311.5,562.7h0M311.1,556.7h0M311.6,541.4h0M315.0,549.8h0M314.0,541.5h0M311.1,562.0h0M314.3,561.0h0M314.3,560.6h0M311.1,557.7h0" stroke="#ff8000" stroke-width="1.61" stroke-linecap="round" fill="none"/>
<path d="M315.7,629.0L315.7,559.7L316.2,559.1L316.7,559.3L317.2,561.6L317.7,561.6L318.2,560.5L318.7,557.8L319.2,558.9L319.7,560.4L320.2,556.8L320.7,557.3L321.2,557.4L321.2,629.0Z" fill="#0000ff"/>
<path d="M318.6,563.8h0M316.7,560.2h0M319.8,564.7h0M320.2,559.5h0M317.9,563.5h0M318.6,559.6h0M317.4,565.5h0M316.5,561.8h0M316.8,561.6h0" stroke="#fff" stroke-width="1.1" stroke-linecap="round" fill="none"/>
<path d="M316.8,547.3h0M318.2,535.1h0M316.4,551.9h0M316.8,541.0h0M319.1,540.8h0M317.9,561.1h0M319.2,541.9h0M316.8,555.5h0M317.9,541.2h0M317.0,533.7h0M317.9,557.1h0M317.5,547.8h0M316.7,541.7h0M319.6,552.4h0M318.0,553.9h0M319.4,534.9h0M319.2,550.6h0M316.5,546.8h0M319.3,538.8h0M318.2,515.2h0M319.4,519.2h0M318.1,502.5h0M319.1,535.7h0M316.8,541.7h0M318.3,558.6h0M318.7,518.6h0M319.9,538.3h0M319.3,549.6h0M320.3,551.2h0M317.2,545.3h0M317.3,556.8h0M319.3,557.3h0M318.9,547.4h0M319.5,522.7h0M316.4,538.2h0M316.7,523.3h0M316.7,528.7h0M316.5,515.1h0M319.6,535.1h0M318.2,539.4h0M318.5,556.4h0M317.7,557.8h0M318.0,541.2h0M316.4,534.2h0M318.0,561.2h0M316.5,550.5h0M316.4,555.2h0M317.4,559.9h0M319.5,552.9h0M319.6,548.2h0M318.9,533.2h0M316.4,553.4h0M319.5,551.1h0M317.6,560.0h0M319.7,518.3h0M317.8,537.1h0M316.6,556.2h0M316.4,547.1h0M317.7,556.6h0M320.1,552.8h0M316.7,555.7h0M316.4,559.1h0M317.9,550.9h0M319.5,555.6h0M317.7,552.1h0M319.4,557.3h0M318.3,553.3h0M317.3,559.0h0M318.2,543.4h0M318.1,560.4h0M316.4,522.8h0M316.6,553.0h0M318.2,557.5h0M319.5,555.1h0M316.6,512.6h0M316.7,548.3h0M319.7,553.4h0M316.7,551.6h0M319.6,540.9h0M319.7,519.8h0M319.6,534.4h0M319.1,502.9h0M316.4,521.9h0M317.7,547.8h0M316.4,559.5h0M317.7,561.2h0M316.4,558.0h0M318.2,539.6h0M318.9,549.9h0M319.3,540.7h0M319.1,498.2h0M319.8,552.9h0M317.8,560.9h0M319.1,551.0h0M318.0,551.9h0M316.5,558.2h0M316.8,541.8h0M317.6,557.5h0M319.5,556.5h0" stroke="#0000ff" stroke-width="1.70" stroke-linecap="round" fill="none"/>
<path d="M319.4,484.9h0M319.2,499.0h0" stroke="#0000ff" stroke-width="2.20" stroke-linecap="round" fill="none"/>
<path d="M321.2,629.0L321.2,557.4L321.7,559.9L322.2,560.8L322.7,559.0L323.2,556.9L323.7,558.1L324.2,557.8L324.8,557.3L325.3,558.9L325.8,557.3L326.3,554.7L326.8,555.7L327.3,556.5L327.8,559.0L327.8,629.0Z" fill="#7f7f7f"/>
<path d="M327.3,562.8h0M326.0,555.9h0M326.8,558.1h0M325.8,557.8h0M326.8,567.7h0M326.5,556.3h0M323.0,561.4h0M326.9,568.7h0M326.6,563.1h0M324.6,560.5h0" stroke="#fff" stroke-width="1.1" stroke-linecap="round" fill="none"/>
<path d="M324.9,545.4h0M323.6,536.9h0M323.1,543.0h0M322.6,553.8h0M326.4,552.6h0M323.4,535.0h0M326.6,544.0h0M323.2,538.5h0M326.5,535.4h0M322.4,547.1h0M323.8,555.6h0M323.4,541.6h0M323.4,552.2h0M323.6,511.5h0M321.9,533.8h0M322.1,545.1h0M324.0,552.2h0M322.1,552.8h0M322.3,505.0h0M321.9,547.3h0M323.5,504.2h0M323.7,546.6h0M326.5,537.3h0M323.2,524.3h0M326.6,547.6h0M323.4,549.2h0M326.4,535.9h0M322.1,547.9h0M324.5,551.1h0M322.2,536.5h0M323.8,523.7h0M323.6,551.4h0M323.6,531.3h0M323.8,555.2h0M326.5,540.0h0M323.5,529.7h0M322.7,538.0h0M326.2,545.0h0M323.5,553.1h0M321.9,553.2h0M323.6,548.4h0M323.5,496.0h0M326.6,551.2h0M323.6,541.6h0M323.9,550.5h0M324.0,535.8h0M321.9,552.4h0M325.1,549.6h0M322.2,548.6h0M326.8,544.9h0M326.5,554.5h0M326.3,541.4h0M323.8,492.9h0M321.9,536.7h0M326.5,550.3h0M322.0,510.9h0M323.7,541.4h0M321.9,542.3h0M326.5,551.2h0M322.4,543.2h0M322.9,550.8h0M322.1,558.1h0M326.0,548.3h0M322.0,532.0h0M322.0,550.0h0M326.5,546.6h0M323.3,523.2h0M322.7,552.9h0M323.8,509.2h0M326.5,547.1h0M323.9,540.9h0M323.8,554.3h0M323.4,533.6h0M326.4,529.3h0M323.8,556.2h0M326.6,519.4h0M323.3,553.1h0M326.6,539.4h0M323.7,534.4h0M322.0,515.0h0M323.8,536.2h0M321.9,545.1h0M326.5,508.2h0M323.2,550.0h0M326.4,527.6h0M321.9,509.6h0M323.1,520.4h0M326.9,501.9h0M323.4,525.2h0M322.8,546.8h0M323.9,552.4h0M321.9,556.7h0M326.4,506.2h0M322.3,555.4h0M321.9,555.7h0M326.2,550.5h0M322.1,549.0h0M322.4,536.9h0M326.4,546.9h0M323.2,512.7h0M322.0,556.4h0M323.4,534.3h0M322.1,516.3h0M322.4,539.1h0M322.2,530.8h0M324.8,555.4h0M323.4,528.2h0M321.9,554.4h0M323.6,554.8h0M326.7,538.2h0M322.1,557.4h0M326.7,552.1h0M326.7,528.8h0M326.8,550.9h0M324.9,550.2h0M325.9,536.0h0M323.5,536.3h0M323.8,551.1h0" stroke="#7f7f7f" stroke-width="1.53" stroke-linecap="round" fill="none"/>
<path d="M326.7,431.8h0M326.9,490.0h0M326.9,537.0h0M326.8,533.4h0M327.0,529.7h0M326.9,526.1h0M326.7,522.4h0M327.0,518.8h0M327.0,515.1h0M327.1,511.5h0M327.2,507.8h0M327.2,504.2h0M327.2,500.5h0M326.8,496.9h0" stroke="#505050" stroke-width="1.70" stroke-linecap="round" fill="none"/>
</g>
<rect x="32.5" y="354.5" width="303.0" height="282.0" fill="none" stroke="#ababab" stroke-width="1"/>
<line x1="32.5" y1="628.2" x2="32.5" y2="354.6" stroke="#7c7c7c" stroke-width="1"/>
<line x1="29" y1="628.2" x2="32.5" y2="628.2" stroke="#7c7c7c" stroke-width="1"/>
<line x1="29" y1="597.8" x2="32.5" y2="597.8" stroke="#7c7c7c" stroke-width="1"/>
<line x1="29" y1="567.4" x2="32.5" y2="567.4" stroke="#7c7c7c" stroke-width="1"/>
<line x1="29" y1="537.0" x2="32.5" y2="537.0" stroke="#7c7c7c" stroke-width="1"/>
<line x1="29" y1="506.6" x2="32.5" y2="506.6" stroke="#7c7c7c" stroke-width="1"/>
<line x1="29" y1="476.2" x2="32.5" y2="476.2" stroke="#7c7c7c" stroke-width="1"/>
<line x1="29" y1="445.8" x2="32.5" y2="445.8" stroke="#7c7c7c" stroke-width="1"/>
<line x1="29" y1="415.4" x2="32.5" y2="415.4" stroke="#7c7c7c" stroke-width="1"/>
<line x1="29" y1="385.0" x2="32.5" y2="385.0" stroke="#7c7c7c" stroke-width="1"/>
<line x1="29" y1="354.6" x2="32.5" y2="354.6" stroke="#7c7c7c" stroke-width="1"/>
<text x="25.3" y="629.9" font-size="4.8" text-anchor="end" fill="#1a1a1a">0</text>
<text x="25.3" y="569.1" font-size="4.8" text-anchor="end" fill="#1a1a1a">2</text>
<text x="25.3" y="508.3" font-size="4.8" text-anchor="end" fill="#1a1a1a">4</text>
<text x="25.3" y="447.5" font-size="4.8" text-anchor="end" fill="#1a1a1a">6</text>
<text x="25.3" y="386.7" font-size="4.8" text-anchor="end" fill="#1a1a1a">8</text>
<line x1="41.0" y1="636.5" x2="41.0" y2="640.8" stroke="#8e8e8e" stroke-width="1"/>
<line x1="58.7" y1="636.5" x2="58.7" y2="640.8" stroke="#8e8e8e" stroke-width="1"/>
<line x1="74.4" y1="636.5" x2="74.4" y2="640.8" stroke="#8e8e8e" stroke-width="1"/>
<line x1="88.4" y1="636.5" x2="88.4" y2="640.8" stroke="#8e8e8e" stroke-width="1"/>
<line x1="102.4" y1="636.5" x2="102.4" y2="640.8" stroke="#8e8e8e" stroke-width="1"/>
<line x1="116.0" y1="636.5" x2="116.0" y2="640.8" stroke="#8e8e8e" stroke-width="1"/>
<line x1="129.3" y1="636.5" x2="129.3" y2="640.8" stroke="#8e8e8e" stroke-width="1"/>
<line x1="142.9" y1="636.5" x2="142.9" y2="640.8" stroke="#8e8e8e" stroke-width="1"/>
<line x1="155.7" y1="636.5" x2="155.7" y2="640.8" stroke="#8e8e8e" stroke-width="1"/>
<line x1="168.3" y1="636.5" x2="168.3" y2="640.8" stroke="#8e8e8e" stroke-width="1"/>
<line x1="179.4" y1="636.5" x2="179.4" y2="640.8" stroke="#8e8e8e" stroke-width="1"/>
<line x1="191.6" y1="636.5" x2="191.6" y2="640.8" stroke="#8e8e8e" stroke-width="1"/>
<line x1="202.3" y1="636.5" x2="202.3" y2="640.8" stroke="#8e8e8e" stroke-width="1"/>
<line x1="211.7" y1="636.5" x2="211.7" y2="640.8" stroke="#8e8e8e" stroke-width="1"/>
<line x1="221.4" y1="636.5" x2="221.4" y2="640.8" stroke="#8e8e8e" stroke-width="1"/>
<line x1="230.8" y1="636.5" x2="230.8" y2="640.8" stroke="#8e8e8e" stroke-width="1"/>
<line x1="240.5" y1="636.5" x2="240.5" y2="640.8" stroke="#8e8e8e" stroke-width="1"/>
<line x1="248.9" y1="636.5" x2="248.9" y2="640.8" stroke="#8e8e8e" stroke-width="1"/>
<line x1="256.4" y1="636.5" x2="256.4" y2="640.8" stroke="#8e8e8e" stroke-width="1"/>
<line x1="263.8" y1="636.5" x2="263.8" y2="640.8" stroke="#8e8e8e" stroke-width="1"/>
<line x1="271.2" y1="636.5" x2="271.2" y2="640.8" stroke="#8e8e8e" stroke-width="1"/>
<line x1="279.6" y1="636.5" x2="279.6" y2="640.8" stroke="#8e8e8e" stroke-width="1"/>
<line x1="287.0" y1="636.5" x2="287.0" y2="640.8" stroke="#8e8e8e" stroke-width="1"/>
<line x1="293.3" y1="636.5" x2="293.3" y2="640.8" stroke="#8e8e8e" stroke-width="1"/>
<line x1="299.8" y1="636.5" x2="299.8" y2="640.8" stroke="#8e8e8e" stroke-width="1"/>
<line x1="305.1" y1="636.5" x2="305.1" y2="640.8" stroke="#8e8e8e" stroke-width="1"/>
<line x1="310.9" y1="636.5" x2="310.9" y2="640.8" stroke="#8e8e8e" stroke-width="1"/>
<line x1="316.2" y1="636.5" x2="316.2" y2="640.8" stroke="#8e8e8e" stroke-width="1"/>
<line x1="321.7" y1="636.5" x2="321.7" y2="640.8" stroke="#8e8e8e" stroke-width="1"/>
<line x1="327.4" y1="636.5" x2="327.4" y2="640.8" stroke="#8e8e8e" stroke-width="1"/>
<text x="41.0" y="648.7" font-size="4.7" text-anchor="middle" fill="#1a1a1a">1</text>
<text x="58.7" y="652.1" font-size="4.7" text-anchor="middle" fill="#1a1a1a">2</text>
<text x="74.4" y="648.7" font-size="4.7" text-anchor="middle" fill="#1a1a1a">3</text>
<text x="88.4" y="652.1" font-size="4.7" text-anchor="middle" fill="#1a1a1a">4</text>
<text x="102.4" y="648.7" font-size="4.7" text-anchor="middle" fill="#1a1a1a">5</text>
<text x="116.0" y="652.1" font-size="4.7" text-anchor="middle" fill="#1a1a1a">6</text>
<text x="129.3" y="648.7" font-size="4.7" text-anchor="middle" fill="#1a1a1a">7</text>
<text x="142.9" y="652.1" font-size="4.7" text-anchor="middle" fill="#1a1a1a">8</text>
<text x="155.7" y="648.7" font-size="4.7" text-anchor="middle" fill="#1a1a1a">9</text>
<text x="168.3" y="652.1" font-size="4.7" text-anchor="middle" fill="#1a1a1a">10</text>
<text x="179.4" y="648.7" font-size="4.7" text-anchor="middle" fill="#1a1a1a">11</text>
<text x="191.6" y="652.1" font-size="4.7" text-anchor="middle" fill="#1a1a1a">12</text>
<text x="202.3" y="648.7" font-size="4.7" text-anchor="middle" fill="#1a1a1a">13</text>
<text x="211.7" y="652.1" font-size="4.7" text-anchor="middle" fill="#1a1a1a">14</text>
<text x="221.4" y="648.7" font-size="4.7" text-anchor="middle" fill="#1a1a1a">15</text>
<text x="230.8" y="652.1" font-size="4.7" text-anchor="middle" fill="#1a1a1a">16</text>
<text x="240.5" y="648.7" font-size="4.7" text-anchor="middle" fill="#1a1a1a">17</text>
<text x="248.9" y="652.1" font-size="4.7" text-anchor="middle" fill="#1a1a1a">18</text>
<text x="256.4" y="648.7" font-size="4.7" text-anchor="middle" fill="#1a1a1a">19</text>
<text x="263.8" y="652.1" font-size="4.7" text-anchor="middle" fill="#1a1a1a">20</text>
<text x="271.2" y="648.7" font-size="4.7" text-anchor="middle" fill="#1a1a1a">21</text>
<text x="279.6" y="652.1" font-size="4.7" text-anchor="middle" fill="#1a1a1a">22</text>
<text x="287.0" y="648.7" font-size="4.7" text-anchor="middle" fill="#1a1a1a">23</text>
<text x="299.8" y="648.7" font-size="4.7" text-anchor="middle" fill="#1a1a1a">25</text>
<text x="310.9" y="648.7" font-size="4.7" text-anchor="middle" fill="#1a1a1a">27</text>
<text x="321.7" y="648.7" font-size="4.7" text-anchor="middle" fill="#1a1a1a">29</text>
<line x1="33" y1="465.2" x2="335" y2="465.2" stroke="#c25a5a" stroke-width="1.2"/>
<g clip-path="url(#cq2)">
<path d="M387.0,628.2 L450.0,570.4 L490.0,532.4 L508.0,514.2 L517.9,503.5 L526.4,493.8 L535.3,483.5 L544.3,472.5 L553.2,462.3 L562.2,450.5 L571.1,437.5 L580.0,422.5 L587.8,409.7 L587.8,466.0 L580.0,469.0 L571.1,472.5 L562.2,477.0 L553.2,481.5 L544.3,487.0 L535.3,493.5 L527.9,499.5 L517.9,508.5 L508.0,519.5 L490.0,535.4 L450.0,571.4 L387.0,628.2Z" fill="#d2d2d2" stroke="none"/>
<path d="M386.6,628.6 L415.0,602.2 L440.0,578.2 L449.8,566.7 L459.7,553.6 L469.5,543.8 L476.1,535.6 L483.4,524.1 L489.2,517.5 L495.7,511.0 L499.0,502.8 L503.9,494.6 L507.2,488.0 L512.1,481.5 L515.4,474.9 L516.0,472.4" stroke="#000" stroke-width="2.7" fill="none" stroke-linejoin="round" stroke-linecap="round"/>
<path d=" M518.3,460.4 L519.4,453.6 M519.4,451.6 L521.4,448.3 M522.1,445.6 L523.4,442.9 M523.4,440.2 L525.4,434.9 M525.4,432.2 L528.1,426.8 M530.2,399.3 L532.6,395.1 L536.4,394.1 L541.6,389.8 M543.5,372.5 L545.9,372.5" stroke="#000" stroke-width="2.2" fill="none" stroke-linejoin="round" stroke-linecap="round"/>
<path d="M516.7,469.7h0M517.4,467.0h0M518.1,464.6h0M528.1,420.1h0M528.5,415.4h0M529.5,410.7h0M530.1,406.7h0M542.4,379.1h0" stroke="#000" stroke-width="2.2" stroke-linecap="round" fill="none"/>
<path d="M547.1,369.3h0M549.2,369.3h0M551.4,369.3h0M554.4,369.3h0M557.7,369.3h0M562.8,357.1h0M569.9,357.1h0M585.2,357.1h0" stroke="#111" stroke-width="1.7" stroke-linecap="round" fill="none"/>
<line x1="380.5" y1="634.2" x2="683.5" y2="352.6" stroke="#ec6040" stroke-width="1.15"/>
</g>
<rect x="380.5" y="354.5" width="303.0" height="282.0" fill="none" stroke="#ababab" stroke-width="1"/>
<line x1="380.5" y1="628.2" x2="380.5" y2="385.0" stroke="#7c7c7c" stroke-width="1"/>
<line x1="377" y1="628.2" x2="380.5" y2="628.2" stroke="#7c7c7c" stroke-width="1"/>
<text x="373.6" y="630.4" font-size="6.2" text-anchor="end" fill="#2a2a2a">0</text>
<line x1="377" y1="567.4" x2="380.5" y2="567.4" stroke="#7c7c7c" stroke-width="1"/>
<text x="373.6" y="569.6" font-size="6.2" text-anchor="end" fill="#2a2a2a">2</text>
<line x1="377" y1="506.6" x2="380.5" y2="506.6" stroke="#7c7c7c" stroke-width="1"/>
<text x="373.6" y="508.8" font-size="6.2" text-anchor="end" fill="#2a2a2a">4</text>
<line x1="377" y1="445.8" x2="380.5" y2="445.8" stroke="#7c7c7c" stroke-width="1"/>
<text x="373.6" y="448.0" font-size="6.2" text-anchor="end" fill="#2a2a2a">6</text>
<line x1="377" y1="385.0" x2="380.5" y2="385.0" stroke="#7c7c7c" stroke-width="1"/>
<text x="373.6" y="387.2" font-size="6.2" text-anchor="end" fill="#2a2a2a">8</text>
<line x1="387.0" y1="636.5" x2="387.0" y2="640.8" stroke="#8e8e8e" stroke-width="1"/>
<text x="387.0" y="650.1" font-size="5.8" text-anchor="middle" fill="#2a2a2a">0</text>
<line x1="419.7" y1="636.5" x2="419.7" y2="640.8" stroke="#8e8e8e" stroke-width="1"/>
<text x="419.7" y="650.1" font-size="5.8" text-anchor="middle" fill="#2a2a2a">1</text>
<line x1="452.4" y1="636.5" x2="452.4" y2="640.8" stroke="#8e8e8e" stroke-width="1"/>
<text x="452.4" y="650.1" font-size="5.8" text-anchor="middle" fill="#2a2a2a">2</text>
<line x1="485.1" y1="636.5" x2="485.1" y2="640.8" stroke="#8e8e8e" stroke-width="1"/>
<text x="485.1" y="650.1" font-size="5.8" text-anchor="middle" fill="#2a2a2a">3</text>
<line x1="517.8" y1="636.5" x2="517.8" y2="640.8" stroke="#8e8e8e" stroke-width="1"/>
<text x="517.8" y="650.1" font-size="5.8" text-anchor="middle" fill="#2a2a2a">4</text>
<line x1="550.5" y1="636.5" x2="550.5" y2="640.8" stroke="#8e8e8e" stroke-width="1"/>
<text x="550.5" y="650.1" font-size="5.8" text-anchor="middle" fill="#2a2a2a">5</text>
<line x1="583.2" y1="636.5" x2="583.2" y2="640.8" stroke="#8e8e8e" stroke-width="1"/>
<text x="583.2" y="650.1" font-size="5.8" text-anchor="middle" fill="#2a2a2a">6</text>
<line x1="615.9" y1="636.5" x2="615.9" y2="640.8" stroke="#8e8e8e" stroke-width="1"/>
<text x="615.9" y="650.1" font-size="5.8" text-anchor="middle" fill="#2a2a2a">7</text>
<line x1="648.6" y1="636.5" x2="648.6" y2="640.8" stroke="#8e8e8e" stroke-width="1"/>
<text x="648.6" y="650.1" font-size="5.8" text-anchor="middle" fill="#2a2a2a">8</text>
<text x="494.6" y="600.3" font-size="6.3" fill="#333">Lambda = 0.965</text>
<text x="8" y="11.2" font-size="15" font-weight="bold" fill="#000">a</text>
<text x="349" y="10.8" font-size="15" font-weight="bold" fill="#000">b</text>
<text x="8" y="355.2" font-size="15" font-weight="bold" fill="#000">a</text>
<text x="349" y="354.8" font-size="15" font-weight="bold" fill="#000">b</text>
<text x="152.5" y="319.3" font-size="10.5" fill="#333">Chromosome</text>
<text x="152.5" y="666.6" font-size="10.5" fill="#333">Chromosome</text>
<text transform="translate(10.40,169.81) rotate(-90)" font-size="10.5" fill="#333"><tspan x="0.00">−</tspan><tspan x="7.71">log</tspan><tspan x="22.06" dy="2.2" font-size="7.3">10</tspan><tspan x="31.86" dy="-2.2">(</tspan><tspan x="36.66" font-style="italic">p</tspan><tspan x="43.05">)</tspan></text>
<text transform="translate(10.40,518.81) rotate(-90)" font-size="10.5" fill="#333"><tspan x="0.00">−</tspan><tspan x="7.71">log</tspan><tspan x="22.06" dy="2.2" font-size="7.3">10</tspan><tspan x="31.86" dy="-2.2">(</tspan><tspan x="36.66" font-style="italic">p</tspan><tspan x="43.05">)</tspan></text>
<text transform="translate(358.20,194.79) rotate(-90)" font-size="10.5" fill="#333"><tspan x="0">Observed</tspan><tspan x="50.92">−</tspan><tspan x="58.63">log</tspan><tspan x="72.98" dy="2.2" font-size="7.3">10</tspan><tspan x="82.78" dy="-2.2">(</tspan><tspan x="87.58" font-style="italic">p</tspan><tspan x="93.97">)</tspan></text>
<text transform="translate(358.20,545.79) rotate(-90)" font-size="10.5" fill="#333"><tspan x="0">Observed</tspan><tspan x="50.92">−</tspan><tspan x="58.63">log</tspan><tspan x="72.98" dy="2.2" font-size="7.3">10</tspan><tspan x="82.78" dy="-2.2">(</tspan><tspan x="87.58" font-style="italic">p</tspan><tspan x="93.97">)</tspan></text>
<text transform="translate(480.24,316.40)" font-size="10.5" fill="#333"><tspan x="0">Expected</tspan><tspan x="49.17">−</tspan><tspan x="56.88">log</tspan><tspan x="71.23" dy="2.2" font-size="7.3">10</tspan><tspan x="81.03" dy="-2.2">(</tspan><tspan x="85.83" font-style="italic">p</tspan><tspan x="92.22">)</tspan></text>
<text transform="translate(482.84,664.90)" font-size="10.5" fill="#333"><tspan x="0">Expected</tspan><tspan x="49.17">−</tspan><tspan x="56.88">log</tspan><tspan x="71.23" dy="2.2" font-size="7.3">10</tspan><tspan x="81.03" dy="-2.2">(</tspan><tspan x="85.83" font-style="italic">p</tspan><tspan x="92.22">)</tspan></text>
<text x="358.5" y="321.4" font-size="11" font-weight="bold" font-style="italic" fill="#1010cc" text-anchor="middle">Bone Quality</text>
<text x="358.6" y="670" font-size="11" font-weight="bold" font-style="italic" fill="#1010cc" text-anchor="middle">Stature</text>
</svg></body></html>
